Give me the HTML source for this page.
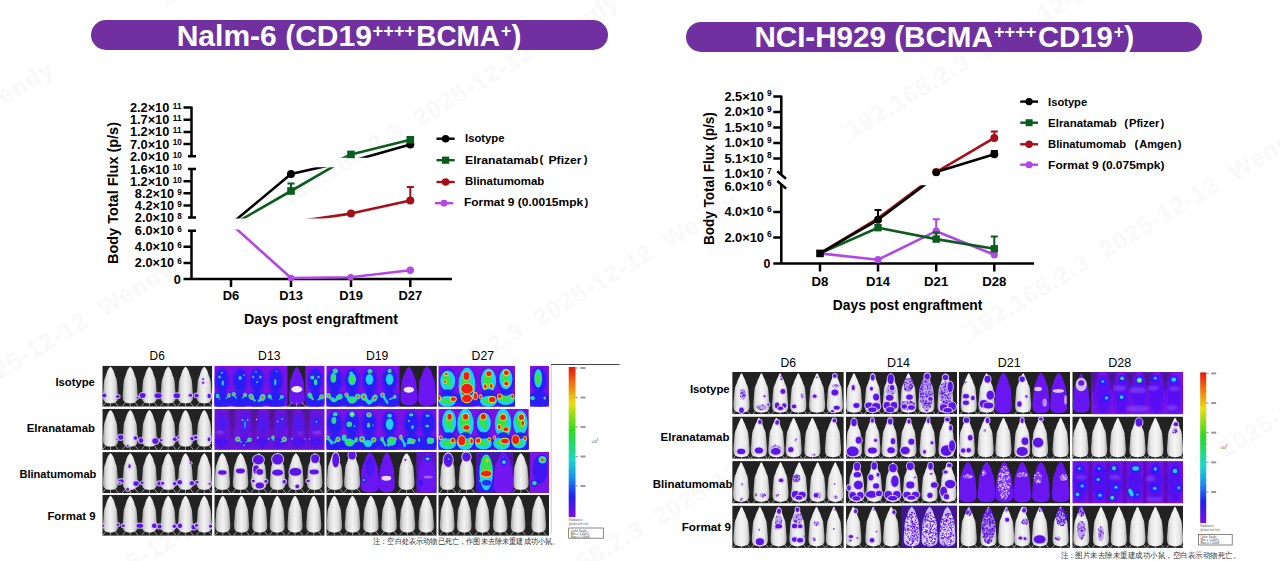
<!DOCTYPE html>
<html lang="en">
<head>
<meta charset="utf-8">
<title>Nalm-6 and NCI-H929 in vivo efficacy</title>
<style>
html,body{margin:0;padding:0;background:#fff;}
body{width:1280px;height:561px;position:relative;overflow:hidden;font-family:"Liberation Sans",sans-serif;}
.banner{position:absolute;height:30px;border-radius:15px;background:#7030a0;color:#fff;font-weight:bold;}
#b1{left:91px;top:20px;width:517px;}
#b2{left:686px;top:22px;width:516px;}
svg{position:absolute;left:0;top:0;}
svg text{font-family:"Liberation Sans",sans-serif;}
</style>
</head>
<body>
<svg id="wmsvg" width="1280" height="561" viewBox="0 0 1280 561">
<text transform="translate(-279 275) rotate(-31)" font-size="24" font-weight="bold" fill="#f9f9f9" textLength="390" lengthAdjust="spacing" xml:space="preserve">192.168.2.3  2025-12-12  Wendy</text>
<text transform="translate(-159 475) rotate(-31)" font-size="24" font-weight="bold" fill="#f9f9f9" textLength="390" lengthAdjust="spacing" xml:space="preserve">192.168.2.3  2025-12-12  Wendy</text>
<text transform="translate(-39 675) rotate(-31)" font-size="24" font-weight="bold" fill="#f9f9f9" textLength="390" lengthAdjust="spacing" xml:space="preserve">192.168.2.3  2025-12-12  Wendy</text>
<text transform="translate(166 7) rotate(-31)" font-size="24" font-weight="bold" fill="#f9f9f9" textLength="390" lengthAdjust="spacing" xml:space="preserve">192.168.2.3  2025-12-12  Wendy</text>
<text transform="translate(286 207) rotate(-31)" font-size="24" font-weight="bold" fill="#f9f9f9" textLength="390" lengthAdjust="spacing" xml:space="preserve">192.168.2.3  2025-12-12  Wendy</text>
<text transform="translate(406 407) rotate(-31)" font-size="24" font-weight="bold" fill="#f9f9f9" textLength="390" lengthAdjust="spacing" xml:space="preserve">192.168.2.3  2025-12-12  Wendy</text>
<text transform="translate(526 606) rotate(-31)" font-size="24" font-weight="bold" fill="#f9f9f9" textLength="390" lengthAdjust="spacing" xml:space="preserve">192.168.2.3  2025-12-12  Wendy</text>
<text transform="translate(852 139) rotate(-31)" font-size="24" font-weight="bold" fill="#f9f9f9" textLength="390" lengthAdjust="spacing" xml:space="preserve">192.168.2.3  2025-12-12  Wendy</text>
<text transform="translate(972 339) rotate(-31)" font-size="24" font-weight="bold" fill="#f9f9f9" textLength="390" lengthAdjust="spacing" xml:space="preserve">192.168.2.3  2025-12-12  Wendy</text>
<text transform="translate(1092 538) rotate(-31)" font-size="24" font-weight="bold" fill="#f9f9f9" textLength="390" lengthAdjust="spacing" xml:space="preserve">192.168.2.3  2025-12-12  Wendy</text>
<text transform="translate(1212 738) rotate(-31)" font-size="24" font-weight="bold" fill="#f9f9f9" textLength="390" lengthAdjust="spacing" xml:space="preserve">192.168.2.3  2025-12-12  Wendy</text>
</svg>
<div class="banner" id="b1"></div>
<div class="banner" id="b2"></div>
<svg width="1280" height="561" viewBox="0 0 1280 561">
<g id="titles" fill="#fff" font-weight="bold">
<text x="176.7" y="46.2" font-size="30" fill="#fff" textLength="195.2" lengthAdjust="spacingAndGlyphs">Nalm-6 (CD19</text>
<text x="372.5" y="36.6" font-size="17.5" fill="#fff" textLength="42.8" lengthAdjust="spacingAndGlyphs">++++</text>
<text x="416.3" y="46.2" font-size="30" fill="#fff" textLength="83.6" lengthAdjust="spacingAndGlyphs">BCMA</text>
<text x="500.9" y="36.6" font-size="17.5" fill="#fff">+</text>
<text x="511.4" y="46.2" font-size="30" fill="#fff">)</text>
<text x="754.4" y="47.4" font-size="30" fill="#fff" textLength="238.5" lengthAdjust="spacingAndGlyphs">NCI-H929 (BCMA</text>
<text x="993.9" y="37.8" font-size="17.5" fill="#fff" textLength="42.5" lengthAdjust="spacingAndGlyphs">++++</text>
<text x="1037.9" y="47.4" font-size="30" fill="#fff" textLength="74.8" lengthAdjust="spacingAndGlyphs">CD19</text>
<text x="1113.7" y="37.8" font-size="17.5" fill="#fff">+</text>
<text x="1124.2" y="47.4" font-size="30" fill="#fff">)</text>
</g>
<g id="chartL">
<path d="M191.5 106.4V156.3M188.0 156.3H196.0M183.5 107.5H191.5M183.5 119.7H191.5M183.5 131.9H191.5M183.5 144.1H191.5M191.5 169.0V217.5M188.0 169.0H196.0M188.0 217.5H196.0M183.5 181.2H191.5M183.5 193.3H191.5M183.5 205.4H191.5M191.5 230.7V278.9M188.0 230.7H196.0M183.5 246.8H191.5M183.5 262.9H191.5M183.5 278.9H452M231 278.9V287M291 278.9V287M351 278.9V287M410.3 278.9V287" stroke="#000" stroke-width="2.5" fill="none"/>
<text x="169.3" y="112.06" font-size="12.75" font-weight="bold" fill="#000" text-anchor="end">2.2×10</text><text x="172.8" y="108.81" font-size="8.2" font-weight="bold" fill="#000">11</text>
<text x="169.3" y="124.26" font-size="12.75" font-weight="bold" fill="#000" text-anchor="end">1.7×10</text><text x="172.8" y="121.01" font-size="8.2" font-weight="bold" fill="#000">11</text>
<text x="169.3" y="136.46" font-size="12.75" font-weight="bold" fill="#000" text-anchor="end">1.2×10</text><text x="172.8" y="133.21" font-size="8.2" font-weight="bold" fill="#000">11</text>
<text x="169.3" y="148.66" font-size="12.75" font-weight="bold" fill="#000" text-anchor="end">7.0×10</text><text x="172.8" y="145.41" font-size="8.2" font-weight="bold" fill="#000">10</text>
<text x="169.3" y="160.86" font-size="12.75" font-weight="bold" fill="#000" text-anchor="end">2.0×10</text><text x="172.8" y="157.61" font-size="8.2" font-weight="bold" fill="#000">10</text>
<text x="169.3" y="173.56" font-size="12.75" font-weight="bold" fill="#000" text-anchor="end">1.6×10</text><text x="172.8" y="170.31" font-size="8.2" font-weight="bold" fill="#000">10</text>
<text x="169.3" y="185.76" font-size="12.75" font-weight="bold" fill="#000" text-anchor="end">1.2×10</text><text x="172.8" y="182.51" font-size="8.2" font-weight="bold" fill="#000">10</text>
<text x="174.2" y="197.86" font-size="12.75" font-weight="bold" fill="#000" text-anchor="end">8.2×10</text><text x="177.2" y="194.61" font-size="8.2" font-weight="bold" fill="#000">9</text>
<text x="174.2" y="209.96" font-size="12.75" font-weight="bold" fill="#000" text-anchor="end">4.2×10</text><text x="177.2" y="206.71" font-size="8.2" font-weight="bold" fill="#000">9</text>
<text x="174.2" y="222.06" font-size="12.75" font-weight="bold" fill="#000" text-anchor="end">2.0×10</text><text x="177.2" y="218.81" font-size="8.2" font-weight="bold" fill="#000">8</text>
<text x="174.2" y="235.26" font-size="12.75" font-weight="bold" fill="#000" text-anchor="end">6.0×10</text><text x="177.2" y="232.01" font-size="8.2" font-weight="bold" fill="#000">6</text>
<text x="174.2" y="251.36" font-size="12.75" font-weight="bold" fill="#000" text-anchor="end">4.0×10</text><text x="177.2" y="248.11" font-size="8.2" font-weight="bold" fill="#000">6</text>
<text x="174.2" y="267.46" font-size="12.75" font-weight="bold" fill="#000" text-anchor="end">2.0×10</text><text x="177.2" y="264.21" font-size="8.2" font-weight="bold" fill="#000">6</text>
<text x="180.8" y="284.06" font-size="12.75" font-weight="bold" fill="#000" text-anchor="end">0</text>
<text x="231" y="300.3" font-size="12.9" font-weight="bold" fill="#000" text-anchor="middle">D6</text>
<text x="291" y="300.3" font-size="12.9" font-weight="bold" fill="#000" text-anchor="middle">D13</text>
<text x="351" y="300.3" font-size="12.9" font-weight="bold" fill="#000" text-anchor="middle">D19</text>
<text x="410.3" y="300.3" font-size="12.9" font-weight="bold" fill="#000" text-anchor="middle">D27</text>
<text x="321" y="324" font-size="14.3" font-weight="bold" fill="#000" text-anchor="middle" textLength="154" lengthAdjust="spacingAndGlyphs">Days post engraftment</text>
<text transform="translate(118.2 193) rotate(-90)" font-size="14.4" font-weight="bold" text-anchor="middle" textLength="142" lengthAdjust="spacingAndGlyphs">Body Total Flux (p/s)</text>
<clipPath id="lc1"><rect x="195" y="100" width="260" height="57.8"/></clipPath>
<clipPath id="lc2"><rect x="195" y="167.2" width="260" height="51.4"/></clipPath>
<clipPath id="lc3"><rect x="195" y="229.4" width="260" height="52"/></clipPath>
<path d="M237.08695652173913 222 L291 191 L344.4255319148936 160" stroke="#0b5d1e" stroke-width="2.6" fill="none" stroke-linejoin="round" clip-path="url(#lc2)"/>
<path d="M233.42152466367713 222 L291 174 L353.0 160" stroke="#000" stroke-width="2.6" fill="none" stroke-linejoin="round" clip-path="url(#lc2)"/>
<path d="M291 191V183.6M287.5 183.6H294.5" stroke="#0b5d1e" stroke-width="2" fill="none"/>
<rect x="287.2" y="187.2" width="7.6" height="7.6" fill="#0b5d1e"/>
<circle cx="291" cy="174" r="4" fill="#000"/>
<path d="M279.5000000000001 224 L351 213.6 L410.3 200.6" stroke="#a50f1a" stroke-width="2.6" fill="none" stroke-linejoin="round" clip-path="url(#lc2)"/>
<path d="M410.3 200.6V187M406.8 187H413.8" stroke="#a50f1a" stroke-width="2" fill="none"/>
<circle cx="351" cy="213.6" r="4" fill="#a50f1a"/>
<circle cx="410.3" cy="200.6" r="4" fill="#a50f1a"/>
<path d="M348.5666666666666 162 L410.3 144.4" stroke="#000" stroke-width="2.6" fill="none" stroke-linejoin="round" clip-path="url(#lc1)"/>
<path d="M335.0875 162 L351 154.4 L410.3 139.8" stroke="#0b5d1e" stroke-width="2.6" fill="none" stroke-linejoin="round" clip-path="url(#lc1)"/>
<circle cx="410.3" cy="144.4" r="4" fill="#000"/>
<rect x="347.2" y="150.6" width="7.6" height="7.6" fill="#0b5d1e"/>
<rect x="406.5" y="136.0" width="7.6" height="7.6" fill="#0b5d1e"/>
<path d="M230.97520661157023 224 L291 278.0 L350.7 277.2 L410.3 270.3" stroke="#b347e6" stroke-width="2.6" fill="none" stroke-linejoin="round" clip-path="url(#lc3)"/>
<circle cx="291" cy="278.0" r="3.3" fill="#b347e6"/>
<circle cx="350.7" cy="277.2" r="3.3" fill="#b347e6"/>
<circle cx="410.3" cy="270.3" r="3.7" fill="#b347e6"/>
<path d="M436.5 138.7h18.2" stroke="#000" stroke-width="2.4"/>
<path d="M436.5 160.2h18.2" stroke="#0b5d1e" stroke-width="2.4"/>
<path d="M436.5 182h18.2" stroke="#a50f1a" stroke-width="2.4"/>
<path d="M435.0 203.2h18.2" stroke="#b347e6" stroke-width="2.4"/>
<circle cx="445.6" cy="138.7" r="3.8" fill="#000"/>
<rect x="442.0" y="156.6" width="7.2" height="7.2" fill="#0b5d1e"/>
<circle cx="445.6" cy="182" r="3.8" fill="#a50f1a"/>
<circle cx="444.0" cy="203.2" r="3.4" fill="#b347e6"/>
</g>
<g id="chartR">
<path d="M781.3 95.5V174.6M773.3 96.6H781.3M773.3 112.1H781.3M773.3 127.5H781.3M773.3 143.0H781.3M773.3 158.4H781.3M777.3 171.2L786 178.8M777.3 181L786.2 188.6M781.3 184.4V263.5M773.3 212.0H781.3M773.3 237.5H781.3M773.3 263.5H1034M820 263.5V271.5M878 263.5V271.5M936.2 263.5V271.5M994.3 263.5V271.5" stroke="#000" stroke-width="2.5" fill="none"/>
<text x="764" y="100.94" font-size="12.4" font-weight="bold" fill="#000" text-anchor="end" textLength="39.6" lengthAdjust="spacingAndGlyphs">2.5×10</text><text x="767" y="96.24" font-size="8.4" font-weight="bold" fill="#000">9</text>
<text x="764" y="116.44" font-size="12.4" font-weight="bold" fill="#000" text-anchor="end" textLength="39.6" lengthAdjust="spacingAndGlyphs">2.0×10</text><text x="767" y="111.74" font-size="8.4" font-weight="bold" fill="#000">9</text>
<text x="764" y="131.84" font-size="12.4" font-weight="bold" fill="#000" text-anchor="end" textLength="39.6" lengthAdjust="spacingAndGlyphs">1.5×10</text><text x="767" y="127.14" font-size="8.4" font-weight="bold" fill="#000">9</text>
<text x="764" y="147.34" font-size="12.4" font-weight="bold" fill="#000" text-anchor="end" textLength="39.6" lengthAdjust="spacingAndGlyphs">1.0×10</text><text x="767" y="142.64" font-size="8.4" font-weight="bold" fill="#000">9</text>
<text x="764" y="162.74" font-size="12.4" font-weight="bold" fill="#000" text-anchor="end" textLength="39.6" lengthAdjust="spacingAndGlyphs">5.1×10</text><text x="767" y="158.04" font-size="8.4" font-weight="bold" fill="#000">8</text>
<text x="764" y="178.24" font-size="12.4" font-weight="bold" fill="#000" text-anchor="end" textLength="39.6" lengthAdjust="spacingAndGlyphs">1.0×10</text><text x="767" y="173.54" font-size="8.4" font-weight="bold" fill="#000">7</text>
<text x="764" y="190.74" font-size="12.4" font-weight="bold" fill="#000" text-anchor="end" textLength="39.6" lengthAdjust="spacingAndGlyphs">6.0×10</text><text x="767" y="186.04" font-size="8.4" font-weight="bold" fill="#000">6</text>
<text x="764" y="216.34" font-size="12.4" font-weight="bold" fill="#000" text-anchor="end" textLength="39.6" lengthAdjust="spacingAndGlyphs">4.0×10</text><text x="767" y="211.64" font-size="8.4" font-weight="bold" fill="#000">6</text>
<text x="764" y="241.84" font-size="12.4" font-weight="bold" fill="#000" text-anchor="end" textLength="39.6" lengthAdjust="spacingAndGlyphs">2.0×10</text><text x="767" y="237.14" font-size="8.4" font-weight="bold" fill="#000">6</text>
<text x="770.4" y="268.34" font-size="12.4" font-weight="bold" fill="#000" text-anchor="end">0</text>
<text x="820" y="285.8" font-size="13.2" font-weight="bold" fill="#000" text-anchor="middle">D8</text>
<text x="878" y="285.8" font-size="13.2" font-weight="bold" fill="#000" text-anchor="middle">D14</text>
<text x="936.2" y="285.8" font-size="13.2" font-weight="bold" fill="#000" text-anchor="middle">D21</text>
<text x="994.3" y="285.8" font-size="13.2" font-weight="bold" fill="#000" text-anchor="middle">D28</text>
<text x="907.6" y="310.3" font-size="14" font-weight="bold" fill="#000" text-anchor="middle" textLength="149.5" lengthAdjust="spacingAndGlyphs">Days post engraftment</text>
<text transform="translate(714.0 178.6) rotate(-90)" font-size="13.8" font-weight="bold" text-anchor="middle" textLength="133" lengthAdjust="spacingAndGlyphs">Body Total Flux (p/s)</text>
<clipPath id="rc1"><rect x="785" y="90" width="260" height="84.6"/></clipPath>
<clipPath id="rc2"><rect x="785" y="185.2" width="260" height="90"/></clipPath>
<path d="M820 253.4 L878 259.7 L936.2 231.2 L994.3 254.8" stroke="#b347e6" stroke-width="2.6" fill="none" stroke-linejoin="round"/>
<path d="M936.2 231.2V219.3M932.7 219.3H939.7" stroke="#b347e6" stroke-width="2" fill="none"/>
<circle cx="878" cy="259.7" r="3.6" fill="#b347e6"/>
<circle cx="936.2" cy="231.2" r="3.6" fill="#b347e6"/>
<circle cx="994.3" cy="254.8" r="3.6" fill="#b347e6"/>
<path d="M820 253.4 L878 227.7 L936.2 239.1 L994.3 248.8" stroke="#0b5d1e" stroke-width="2.6" fill="none" stroke-linejoin="round"/>
<path d="M994.3 248.8V236.4M990.8 236.4H997.8" stroke="#0b5d1e" stroke-width="2" fill="none"/>
<path d="M936.2 239.1V232.5M932.7 232.5H939.7" stroke="#0b5d1e" stroke-width="2" fill="none"/>
<rect x="874.3" y="224.0" width="7.4" height="7.4" fill="#0b5d1e"/>
<rect x="932.5" y="235.4" width="7.4" height="7.4" fill="#0b5d1e"/>
<rect x="990.5999999999999" y="245.10000000000002" width="7.4" height="7.4" fill="#0b5d1e"/>
<path d="M820 253.4 L878 218.4 L931.8280802292263 178" stroke="#a50f1a" stroke-width="2.6" fill="none" stroke-linejoin="round" clip-path="url(#rc2)"/>
<path d="M820 253.4 L878 219.8 L933.8534482758621 178" stroke="#000" stroke-width="2.6" fill="none" stroke-linejoin="round" clip-path="url(#rc2)"/>
<path d="M878 219.8V210M874.5 210H881.5" stroke="#000" stroke-width="2" fill="none"/>
<circle cx="878" cy="219.8" r="4" fill="#000"/>
<path d="M936.2 172.1 L994.3 137.9" stroke="#a50f1a" stroke-width="2.6" fill="none" stroke-linejoin="round" clip-path="url(#rc1)"/>
<path d="M936.2 172.1 L994.3 154.2" stroke="#000" stroke-width="2.6" fill="none" stroke-linejoin="round" clip-path="url(#rc1)"/>
<path d="M994.3 137.9V131.5M990.8 131.5H997.8" stroke="#a50f1a" stroke-width="2" fill="none"/>
<path d="M994.3 154.2V151.0M990.8 151.0H997.8" stroke="#000" stroke-width="2" fill="none"/>
<circle cx="936.2" cy="172.1" r="4" fill="#a50f1a"/>
<circle cx="936.2" cy="172.5" r="3.8" fill="#000"/>
<circle cx="994.3" cy="137.9" r="4" fill="#a50f1a"/>
<circle cx="994.3" cy="154.2" r="4" fill="#000"/>
<rect x="816.2" y="249.6" width="7.6" height="7.6" fill="#000"/>
<path d="M1020.2 101.6H1038" stroke="#000" stroke-width="2.4"/>
<path d="M1020.2 122.7H1038" stroke="#0b5d1e" stroke-width="2.4"/>
<path d="M1020.2 144.3H1038" stroke="#a50f1a" stroke-width="2.4"/>
<path d="M1020.2 164.7H1038" stroke="#b347e6" stroke-width="2.4"/>
<circle cx="1029.1" cy="101.6" r="3.7" fill="#000"/>
<rect x="1025.6" y="119.2" width="7" height="7" fill="#0b5d1e"/>
<circle cx="1029.1" cy="144.3" r="3.7" fill="#a50f1a"/>
<circle cx="1029.1" cy="164.7" r="3.5" fill="#b347e6"/>
</g>
<g id="legends">
<text x="465" y="141.9" font-size="11.4" font-weight="bold" fill="#000" textLength="39.5" lengthAdjust="spacingAndGlyphs">Isotype</text>
<text x="465" y="163.6" font-size="11.6" font-weight="bold" fill="#000" textLength="73.4" lengthAdjust="spacingAndGlyphs">Elranatamab</text>
<text x="539.4" y="163.2" font-size="11.4" font-weight="bold" fill="#000">(</text>
<text x="548.5" y="163.6" font-size="11.6" font-weight="bold" fill="#000" textLength="33.1" lengthAdjust="spacingAndGlyphs">Pfizer</text>
<text x="583.8" y="163.2" font-size="11.4" font-weight="bold" fill="#000">)</text>
<text x="465" y="185.1" font-size="11.4" font-weight="bold" fill="#000" textLength="79.3" lengthAdjust="spacingAndGlyphs">Blinatumomab</text>
<text x="463.9" y="206.3" font-size="11.6" font-weight="bold" fill="#000" textLength="119.3" lengthAdjust="spacingAndGlyphs">Format 9 (0.0015mpk</text>
<text x="584.6" y="206.0" font-size="11.4" font-weight="bold" fill="#000">)</text>
<text x="1048.1" y="105.6" font-size="11.4" font-weight="bold" fill="#000" textLength="39" lengthAdjust="spacingAndGlyphs">Isotype</text>
<text x="1048.1" y="126.7" font-size="11.4" font-weight="bold" fill="#000" textLength="68.6" lengthAdjust="spacingAndGlyphs">Elranatamab</text>
<text x="1124.2" y="126.5" font-size="11.4" font-weight="bold" fill="#000">(</text>
<text x="1129" y="126.7" font-size="11.4" font-weight="bold" fill="#000" textLength="30.3" lengthAdjust="spacingAndGlyphs">Pfizer</text>
<text x="1160.4" y="126.5" font-size="11.4" font-weight="bold" fill="#000">)</text>
<text x="1048.1" y="148.2" font-size="11.4" font-weight="bold" fill="#000" textLength="77.9" lengthAdjust="spacingAndGlyphs">Blinatumomab</text>
<text x="1134.4" y="148.0" font-size="11.4" font-weight="bold" fill="#000">(</text>
<text x="1139.2" y="148.2" font-size="11.4" font-weight="bold" fill="#000" textLength="37.6" lengthAdjust="spacingAndGlyphs">Amgen</text>
<text x="1177.8" y="148.0" font-size="11.4" font-weight="bold" fill="#000">)</text>
<text x="1048.1" y="168.6" font-size="11.4" font-weight="bold" fill="#000" textLength="116.3" lengthAdjust="spacingAndGlyphs">Format 9 (0.075mpk)</text>
</g>
<defs><path id="m" d="M0 0.03Q0 0.03 0.04 0.04Q0.08 0.05 0.12 0.08Q0.17 0.1 0.21 0.14Q0.24 0.17 0.27 0.21Q0.29 0.25 0.34 0.29Q0.39 0.33 0.42 0.39Q0.44 0.45 0.45 0.53Q0.46 0.6 0.48 0.68Q0.5 0.76 0.49 0.81Q0.49 0.86 0.45 0.89Q0.4 0.92 0.31 0.94Q0.22 0.95 0.11 0.96Q0 0.96 -0.11 0.96Q-0.22 0.95 -0.31 0.94Q-0.4 0.92 -0.45 0.89Q-0.49 0.86 -0.49 0.81Q-0.5 0.76 -0.48 0.68Q-0.46 0.6 -0.45 0.53Q-0.44 0.45 -0.42 0.39Q-0.39 0.33 -0.34 0.29Q-0.29 0.25 -0.27 0.21Q-0.24 0.17 -0.21 0.14Q-0.17 0.1 -0.12 0.08Q-0.08 0.05 -0.04 0.04Q0 0.03 0 0.03Z"/><path id="m2" d="M0 0.03Q0 0.03 0.04 0.04Q0.07 0.06 0.11 0.1Q0.15 0.13 0.2 0.17Q0.24 0.2 0.27 0.24Q0.29 0.27 0.34 0.31Q0.4 0.35 0.42 0.41Q0.43 0.47 0.45 0.54Q0.46 0.62 0.48 0.69Q0.5 0.76 0.49 0.81Q0.49 0.86 0.45 0.89Q0.4 0.92 0.31 0.94Q0.22 0.95 0.11 0.96Q0 0.96 -0.11 0.96Q-0.22 0.95 -0.31 0.94Q-0.4 0.92 -0.45 0.89Q-0.49 0.86 -0.49 0.81Q-0.5 0.76 -0.48 0.69Q-0.46 0.62 -0.45 0.54Q-0.43 0.47 -0.42 0.41Q-0.4 0.35 -0.34 0.31Q-0.29 0.27 -0.27 0.24Q-0.24 0.2 -0.2 0.17Q-0.15 0.13 -0.11 0.1Q-0.07 0.06 -0.04 0.04Q0 0.03 0 0.03Z"/><linearGradient id="mg" x1="0" x2="1" y1="0" y2="0"><stop offset="0" stop-color="#9c9c9c"/><stop offset="0.22" stop-color="#dcdcdc"/><stop offset="0.5" stop-color="#f2f2f2"/><stop offset="0.78" stop-color="#dcdcdc"/><stop offset="1" stop-color="#9c9c9c"/></linearGradient><linearGradient id="mg2" x1="0" x2="1" y1="0" y2="0"><stop offset="0" stop-color="#a8a8a8"/><stop offset="0.2" stop-color="#e4e4e4"/><stop offset="0.5" stop-color="#f6f6f6"/><stop offset="0.8" stop-color="#e4e4e4"/><stop offset="1" stop-color="#a8a8a8"/></linearGradient><linearGradient id="cbar" x1="0" x2="0" y1="0" y2="1"><stop offset="0" stop-color="#e81410"/><stop offset="0.12" stop-color="#f07a10"/><stop offset="0.24" stop-color="#e8e010"/><stop offset="0.42" stop-color="#30d820"/><stop offset="0.62" stop-color="#18d8c8"/><stop offset="0.74" stop-color="#1890f0"/><stop offset="0.86" stop-color="#2020f0"/><stop offset="1" stop-color="#7a10e0"/></linearGradient><filter id="sb" x="-5%" y="-5%" width="110%" height="110%"><feGaussianBlur stdDeviation="0.7"/></filter><filter id="sb2" x="-20%" y="-20%" width="140%" height="140%"><feGaussianBlur stdDeviation="1.1"/></filter></defs><g id="panelL"><clipPath id="cL00"><rect x="102.3" y="365.7" width="110" height="41"/></clipPath><g clip-path="url(#cL00)"><rect x="102.3" y="365.7" width="110" height="41" fill="#232323"/><g filter="url(#sb)"><path d="M110.5 402.6V406.7M105.94 402.1L102.6 406.5M115.06 402.1L118.4 406.5" stroke="#a0a0a0" stroke-width="0.9" fill="none"/><use href="#m" transform="translate(110.5 365.7) scale(15.2 39.16)" fill="url(#mg)"/><path d="M130.19 402.6V406.7M125.63 402.1L122.28 406.5M134.75 402.1L138.09 406.5" stroke="#a0a0a0" stroke-width="0.9" fill="none"/><use href="#m" transform="translate(130.19 365.7) scale(15.2 39.16)" fill="url(#mg)"/><path d="M149.4 402.6V406.7M144.84 402.1L141.5 406.5M153.96 402.1L157.31 406.5" stroke="#a0a0a0" stroke-width="0.9" fill="none"/><use href="#m" transform="translate(149.4 365.7) scale(15.2 39.16)" fill="url(#mg)"/><path d="M168.15 402.6V406.7M163.59 402.1L160.25 406.5M172.71 402.1L176.06 406.5" stroke="#a0a0a0" stroke-width="0.9" fill="none"/><use href="#m" transform="translate(168.15 365.7) scale(15.2 39.16)" fill="url(#mg)"/><path d="M185.5 402.6V406.7M180.94 402.1L177.59 406.5M190.06 402.1L193.4 406.5" stroke="#a0a0a0" stroke-width="0.9" fill="none"/><use href="#m" transform="translate(185.5 365.7) scale(15.2 39.16)" fill="url(#mg)"/><path d="M204.25 402.6V406.7M199.69 402.1L196.34 406.5M208.81 402.1L212.15 406.5" stroke="#a0a0a0" stroke-width="0.9" fill="none"/><use href="#m" transform="translate(204.25 365.7) scale(15.2 39.16)" fill="url(#mg)"/><ellipse cx="104.22" cy="395.56" rx="3.16" ry="3.16" fill="#d9c4ff" opacity="0.85"/><ellipse cx="104.22" cy="395.56" rx="2.06" ry="2.06" fill="#5a12e6"/><ellipse cx="117.81" cy="396.5" rx="2.79" ry="2.6" fill="#d9c4ff" opacity="0.85"/><ellipse cx="117.81" cy="396.5" rx="1.69" ry="1.5" fill="#5a12e6"/><ellipse cx="137.5" cy="397.62" rx="2.22" ry="2.04" fill="#d9c4ff" opacity="0.85"/><ellipse cx="137.5" cy="397.62" rx="1.12" ry="0.94" fill="#5a12e6"/><ellipse cx="142.65" cy="395.56" rx="3.91" ry="3.54" fill="#d9c4ff" opacity="0.85"/><ellipse cx="142.65" cy="395.56" rx="2.81" ry="2.44" fill="#5a12e6"/><ellipse cx="158.12" cy="395.75" rx="4.66" ry="3.54" fill="#d9c4ff" opacity="0.85"/><ellipse cx="158.12" cy="395.75" rx="3.56" ry="2.44" fill="#5a12e6"/><ellipse cx="176.87" cy="395.75" rx="4.29" ry="3.54" fill="#d9c4ff" opacity="0.85"/><ellipse cx="176.87" cy="395.75" rx="3.19" ry="2.44" fill="#5a12e6"/><ellipse cx="190.47" cy="395.28" rx="2.79" ry="2.6" fill="#d9c4ff" opacity="0.85"/><ellipse cx="190.47" cy="395.28" rx="1.69" ry="1.5" fill="#5a12e6"/><ellipse cx="196.56" cy="395.56" rx="3.16" ry="2.97" fill="#d9c4ff" opacity="0.85"/><ellipse cx="196.56" cy="395.56" rx="2.06" ry="1.87" fill="#5a12e6"/><ellipse cx="209.22" cy="395.94" rx="2.79" ry="3.35" fill="#d9c4ff" opacity="0.85"/><ellipse cx="209.22" cy="395.94" rx="1.69" ry="2.25" fill="#5a12e6"/><ellipse cx="203.12" cy="379.06" rx="2.04" ry="1.94" fill="#d9c4ff" opacity="0.85"/><ellipse cx="203.12" cy="379.06" rx="0.94" ry="0.84" fill="#5a12e6"/><ellipse cx="203.12" cy="382.81" rx="2.22" ry="2.04" fill="#d9c4ff" opacity="0.85"/><ellipse cx="203.12" cy="382.81" rx="1.12" ry="0.94" fill="#5a12e6"/></g></g><clipPath id="cL10"><rect x="102.3" y="408.9" width="110" height="41"/></clipPath><g clip-path="url(#cL10)"><rect x="102.3" y="408.9" width="110" height="41" fill="#232323"/><g filter="url(#sb)"><path d="M110.5 445.8V449.9M105.94 445.3L102.6 449.69M115.06 445.3L118.4 449.69" stroke="#a0a0a0" stroke-width="0.9" fill="none"/><use href="#m" transform="translate(110.5 408.9) scale(15.2 39.16)" fill="url(#mg)"/><path d="M130.19 445.8V449.9M125.63 445.3L122.28 449.69M134.75 445.3L138.09 449.69" stroke="#a0a0a0" stroke-width="0.9" fill="none"/><use href="#m" transform="translate(130.19 408.9) scale(15.2 39.16)" fill="url(#mg)"/><path d="M149.4 445.8V449.9M144.84 445.3L141.5 449.69M153.96 445.3L157.31 449.69" stroke="#a0a0a0" stroke-width="0.9" fill="none"/><use href="#m" transform="translate(149.4 408.9) scale(15.2 39.16)" fill="url(#mg)"/><path d="M168.15 445.8V449.9M163.59 445.3L160.25 449.69M172.71 445.3L176.06 449.69" stroke="#a0a0a0" stroke-width="0.9" fill="none"/><use href="#m" transform="translate(168.15 408.9) scale(15.2 39.16)" fill="url(#mg)"/><path d="M185.5 445.8V449.9M180.94 445.3L177.59 449.69M190.06 445.3L193.4 449.69" stroke="#a0a0a0" stroke-width="0.9" fill="none"/><use href="#m" transform="translate(185.5 408.9) scale(15.2 39.16)" fill="url(#mg)"/><path d="M204.25 445.8V449.9M199.69 445.3L196.34 449.69M208.81 445.3L212.15 449.69" stroke="#a0a0a0" stroke-width="0.9" fill="none"/><use href="#m" transform="translate(204.25 408.9) scale(15.2 39.16)" fill="url(#mg)"/><ellipse cx="120.62" cy="437.34" rx="3.72" ry="3.54" fill="#d9c4ff" opacity="0.85"/><ellipse cx="120.62" cy="437.34" rx="2.62" ry="2.44" fill="#5a12e6"/><ellipse cx="116.87" cy="439.5" rx="1.85" ry="1.85" fill="#d9c4ff" opacity="0.85"/><ellipse cx="116.87" cy="439.5" rx="0.75" ry="0.75" fill="#5a12e6"/><ellipse cx="135.44" cy="438" rx="2.79" ry="2.97" fill="#d9c4ff" opacity="0.85"/><ellipse cx="135.44" cy="438" rx="1.69" ry="1.87" fill="#5a12e6"/><ellipse cx="141.06" cy="440.44" rx="3.16" ry="3.54" fill="#d9c4ff" opacity="0.85"/><ellipse cx="141.06" cy="440.44" rx="2.06" ry="2.44" fill="#5a12e6"/><ellipse cx="155.31" cy="441.09" rx="4.1" ry="3.91" fill="#d9c4ff" opacity="0.85"/><ellipse cx="155.31" cy="441.09" rx="3" ry="2.81" fill="#5a12e6"/><ellipse cx="161.12" cy="440.16" rx="2.41" ry="2.22" fill="#d9c4ff" opacity="0.85"/><ellipse cx="161.12" cy="440.16" rx="1.31" ry="1.12" fill="#5a12e6"/><ellipse cx="175" cy="439.22" rx="3.16" ry="2.79" fill="#d9c4ff" opacity="0.85"/><ellipse cx="175" cy="439.22" rx="2.06" ry="1.69" fill="#5a12e6"/><ellipse cx="178.28" cy="437.62" rx="2.22" ry="2.22" fill="#d9c4ff" opacity="0.85"/><ellipse cx="178.28" cy="437.62" rx="1.12" ry="1.12" fill="#5a12e6"/><ellipse cx="192.34" cy="438.56" rx="2.97" ry="2.79" fill="#d9c4ff" opacity="0.85"/><ellipse cx="192.34" cy="438.56" rx="1.87" ry="1.69" fill="#5a12e6"/><ellipse cx="195.62" cy="437.34" rx="2.79" ry="2.79" fill="#d9c4ff" opacity="0.85"/><ellipse cx="195.62" cy="437.34" rx="1.69" ry="1.69" fill="#5a12e6"/><ellipse cx="209.03" cy="439.22" rx="2.41" ry="3.16" fill="#d9c4ff" opacity="0.85"/><ellipse cx="209.03" cy="439.22" rx="1.31" ry="2.06" fill="#5a12e6"/><ellipse cx="127.66" cy="445.78" rx="2.04" ry="2.04" fill="#d9c4ff" opacity="0.85"/><ellipse cx="127.66" cy="445.78" rx="0.94" ry="0.94" fill="#5a12e6"/></g></g><clipPath id="cL20"><rect x="102.3" y="452.1" width="110" height="41"/></clipPath><g clip-path="url(#cL20)"><rect x="102.3" y="452.1" width="110" height="41" fill="#232323"/><g filter="url(#sb)"><path d="M110.5 489V493.1M105.94 488.5L102.6 492.9M115.06 488.5L118.4 492.9" stroke="#a0a0a0" stroke-width="0.9" fill="none"/><use href="#m" transform="translate(110.5 452.1) scale(15.2 39.16)" fill="url(#mg)"/><path d="M130.19 489V493.1M125.63 488.5L122.28 492.9M134.75 488.5L138.09 492.9" stroke="#a0a0a0" stroke-width="0.9" fill="none"/><use href="#m" transform="translate(130.19 452.1) scale(15.2 39.16)" fill="url(#mg)"/><path d="M149.4 489V493.1M144.84 488.5L141.5 492.9M153.96 488.5L157.31 492.9" stroke="#a0a0a0" stroke-width="0.9" fill="none"/><use href="#m" transform="translate(149.4 452.1) scale(15.2 39.16)" fill="url(#mg)"/><path d="M168.15 489V493.1M163.59 488.5L160.25 492.9M172.71 488.5L176.06 492.9" stroke="#a0a0a0" stroke-width="0.9" fill="none"/><use href="#m" transform="translate(168.15 452.1) scale(15.2 39.16)" fill="url(#mg)"/><path d="M185.5 489V493.1M180.94 488.5L177.59 492.9M190.06 488.5L193.4 492.9" stroke="#a0a0a0" stroke-width="0.9" fill="none"/><use href="#m" transform="translate(185.5 452.1) scale(15.2 39.16)" fill="url(#mg)"/><path d="M204.25 489V493.1M199.69 488.5L196.34 492.9M208.81 488.5L212.15 492.9" stroke="#a0a0a0" stroke-width="0.9" fill="none"/><use href="#m" transform="translate(204.25 452.1) scale(15.2 39.16)" fill="url(#mg)"/><ellipse cx="121.09" cy="481" rx="3.91" ry="2.97" fill="#d9c4ff" opacity="0.85"/><ellipse cx="121.09" cy="481" rx="2.81" ry="1.87" fill="#5a12e6"/><ellipse cx="119.69" cy="483.16" rx="2.04" ry="2.04" fill="#d9c4ff" opacity="0.85"/><ellipse cx="119.69" cy="483.16" rx="0.94" ry="0.94" fill="#5a12e6"/><ellipse cx="136.09" cy="483.62" rx="3.72" ry="3.54" fill="#d9c4ff" opacity="0.85"/><ellipse cx="136.09" cy="483.62" rx="2.62" ry="2.44" fill="#5a12e6"/><ellipse cx="142.19" cy="482.87" rx="2.41" ry="2.41" fill="#d9c4ff" opacity="0.85"/><ellipse cx="142.19" cy="482.87" rx="1.31" ry="1.31" fill="#5a12e6"/><ellipse cx="129.53" cy="466.28" rx="2.22" ry="3.16" fill="#d9c4ff" opacity="0.85"/><ellipse cx="129.53" cy="466.28" rx="1.12" ry="2.06" fill="#5a12e6"/><ellipse cx="160" cy="483.44" rx="3.72" ry="3.16" fill="#d9c4ff" opacity="0.85"/><ellipse cx="160" cy="483.44" rx="2.62" ry="2.06" fill="#5a12e6"/><ellipse cx="162.62" cy="483.16" rx="2.6" ry="2.6" fill="#d9c4ff" opacity="0.85"/><ellipse cx="162.62" cy="483.16" rx="1.5" ry="1.5" fill="#5a12e6"/><ellipse cx="174.53" cy="483.62" rx="2.79" ry="2.79" fill="#d9c4ff" opacity="0.85"/><ellipse cx="174.53" cy="483.62" rx="1.69" ry="1.69" fill="#5a12e6"/><ellipse cx="179.69" cy="482.22" rx="3.35" ry="3.35" fill="#d9c4ff" opacity="0.85"/><ellipse cx="179.69" cy="482.22" rx="2.25" ry="2.25" fill="#5a12e6"/><ellipse cx="191.87" cy="483.16" rx="3.16" ry="3.16" fill="#d9c4ff" opacity="0.85"/><ellipse cx="191.87" cy="483.16" rx="2.06" ry="2.06" fill="#5a12e6"/><ellipse cx="197.03" cy="482.22" rx="2.41" ry="2.41" fill="#d9c4ff" opacity="0.85"/><ellipse cx="197.03" cy="482.22" rx="1.31" ry="1.31" fill="#5a12e6"/><ellipse cx="209.68" cy="483.81" rx="2.22" ry="2.22" fill="#d9c4ff" opacity="0.85"/><ellipse cx="209.68" cy="483.81" rx="1.12" ry="1.12" fill="#5a12e6"/><ellipse cx="127.66" cy="489.25" rx="2.41" ry="2.6" fill="#d9c4ff" opacity="0.85"/><ellipse cx="127.66" cy="489.25" rx="1.31" ry="1.5" fill="#5a12e6"/><ellipse cx="190.47" cy="463" rx="2.22" ry="1.85" fill="#d9c4ff" opacity="0.85"/><ellipse cx="190.47" cy="463" rx="1.12" ry="0.75" fill="#5a12e6"/></g></g><clipPath id="cL30"><rect x="102.3" y="494.8" width="110" height="41"/></clipPath><g clip-path="url(#cL30)"><rect x="102.3" y="494.8" width="110" height="41" fill="#232323"/><g filter="url(#sb)"><path d="M110.5 531.7V535.8M105.94 531.2L102.6 535.6M115.06 531.2L118.4 535.6" stroke="#a0a0a0" stroke-width="0.9" fill="none"/><use href="#m" transform="translate(110.5 494.8) scale(15.2 39.16)" fill="url(#mg)"/><path d="M130.19 531.7V535.8M125.63 531.2L122.28 535.6M134.75 531.2L138.09 535.6" stroke="#a0a0a0" stroke-width="0.9" fill="none"/><use href="#m" transform="translate(130.19 494.8) scale(15.2 39.16)" fill="url(#mg)"/><path d="M149.4 531.7V535.8M144.84 531.2L141.5 535.6M153.96 531.2L157.31 535.6" stroke="#a0a0a0" stroke-width="0.9" fill="none"/><use href="#m" transform="translate(149.4 494.8) scale(15.2 39.16)" fill="url(#mg)"/><path d="M168.15 531.7V535.8M163.59 531.2L160.25 535.6M172.71 531.2L176.06 535.6" stroke="#a0a0a0" stroke-width="0.9" fill="none"/><use href="#m" transform="translate(168.15 494.8) scale(15.2 39.16)" fill="url(#mg)"/><path d="M185.5 531.7V535.8M180.94 531.2L177.59 535.6M190.06 531.2L193.4 535.6" stroke="#a0a0a0" stroke-width="0.9" fill="none"/><use href="#m" transform="translate(185.5 494.8) scale(15.2 39.16)" fill="url(#mg)"/><path d="M204.25 531.7V535.8M199.69 531.2L196.34 535.6M208.81 531.2L212.15 535.6" stroke="#a0a0a0" stroke-width="0.9" fill="none"/><use href="#m" transform="translate(204.25 494.8) scale(15.2 39.16)" fill="url(#mg)"/><ellipse cx="118" cy="524.75" rx="2.41" ry="2.41" fill="#d9c4ff" opacity="0.85"/><ellipse cx="118" cy="524.75" rx="1.31" ry="1.31" fill="#5a12e6"/><ellipse cx="123.25" cy="525.69" rx="2.6" ry="2.41" fill="#d9c4ff" opacity="0.85"/><ellipse cx="123.25" cy="525.69" rx="1.5" ry="1.31" fill="#5a12e6"/><ellipse cx="139.84" cy="525.69" rx="4.47" ry="3.16" fill="#d9c4ff" opacity="0.85"/><ellipse cx="139.84" cy="525.69" rx="3.37" ry="2.06" fill="#5a12e6"/><ellipse cx="154.37" cy="525.69" rx="3.54" ry="3.35" fill="#d9c4ff" opacity="0.85"/><ellipse cx="154.37" cy="525.69" rx="2.44" ry="2.25" fill="#5a12e6"/><ellipse cx="159.53" cy="526.44" rx="3.16" ry="3.16" fill="#d9c4ff" opacity="0.85"/><ellipse cx="159.53" cy="526.44" rx="2.06" ry="2.06" fill="#5a12e6"/><ellipse cx="174.34" cy="526.16" rx="2.79" ry="2.79" fill="#d9c4ff" opacity="0.85"/><ellipse cx="174.34" cy="526.16" rx="1.69" ry="1.69" fill="#5a12e6"/><ellipse cx="179.97" cy="525.87" rx="3.16" ry="3.35" fill="#d9c4ff" opacity="0.85"/><ellipse cx="179.97" cy="525.87" rx="2.06" ry="2.25" fill="#5a12e6"/><ellipse cx="193.75" cy="527.09" rx="3.54" ry="3.54" fill="#d9c4ff" opacity="0.85"/><ellipse cx="193.75" cy="527.09" rx="2.44" ry="2.44" fill="#5a12e6"/><ellipse cx="196.56" cy="525.22" rx="2.6" ry="2.6" fill="#d9c4ff" opacity="0.85"/><ellipse cx="196.56" cy="525.22" rx="1.5" ry="1.5" fill="#5a12e6"/><ellipse cx="210.62" cy="526.16" rx="2.6" ry="2.79" fill="#d9c4ff" opacity="0.85"/><ellipse cx="210.62" cy="526.16" rx="1.5" ry="1.69" fill="#5a12e6"/><ellipse cx="103.28" cy="525.69" rx="1.85" ry="2.41" fill="#d9c4ff" opacity="0.85"/><ellipse cx="103.28" cy="525.69" rx="0.75" ry="1.31" fill="#5a12e6"/></g></g><clipPath id="cL31"><rect x="214.3" y="494.8" width="110.4" height="41"/></clipPath><g clip-path="url(#cL31)"><rect x="214.3" y="494.8" width="110.4" height="41" fill="#232323"/><g filter="url(#sb)"><path d="M222.82 531.7V535.8M218.26 531.2L214.92 535.6M227.38 531.2L230.72 535.6" stroke="#a0a0a0" stroke-width="0.9" fill="none"/><use href="#m" transform="translate(222.82 494.8) scale(15.2 39.16)" fill="url(#mg)"/><path d="M241.57 531.7V535.8M237.01 531.2L233.67 535.6M246.13 531.2L249.48 535.6" stroke="#a0a0a0" stroke-width="0.9" fill="none"/><use href="#m" transform="translate(241.57 494.8) scale(15.2 39.16)" fill="url(#mg)"/><path d="M259.76 531.7V535.8M255.2 531.2L251.86 535.6M264.32 531.2L267.66 535.6" stroke="#a0a0a0" stroke-width="0.9" fill="none"/><use href="#m" transform="translate(259.76 494.8) scale(15.2 39.16)" fill="url(#mg)"/><path d="M277.2 531.7V535.8M272.64 531.2L269.29 535.6M281.76 531.2L285.1 535.6" stroke="#a0a0a0" stroke-width="0.9" fill="none"/><use href="#m" transform="translate(277.2 494.8) scale(15.2 39.16)" fill="url(#mg)"/><path d="M295.01 531.7V535.8M290.45 531.2L287.11 535.6M299.57 531.2L302.92 535.6" stroke="#a0a0a0" stroke-width="0.9" fill="none"/><use href="#m" transform="translate(295.01 494.8) scale(15.2 39.16)" fill="url(#mg)"/><path d="M313.76 531.7V535.8M309.2 531.2L305.86 535.6M318.32 531.2L321.67 535.6" stroke="#a0a0a0" stroke-width="0.9" fill="none"/><use href="#m" transform="translate(313.76 494.8) scale(15.2 39.16)" fill="url(#mg)"/></g></g><clipPath id="cL32"><rect x="326.3" y="494.8" width="110.4" height="41"/></clipPath><g clip-path="url(#cL32)"><rect x="326.3" y="494.8" width="110.4" height="41" fill="#232323"/><g filter="url(#sb)"><path d="M334.31 531.7V535.8M329.63 531.2L326.2 535.6M338.99 531.2L342.43 535.6" stroke="#a0a0a0" stroke-width="0.9" fill="none"/><use href="#m" transform="translate(334.31 494.8) scale(15.6 39.16)" fill="url(#mg)"/><path d="M352.5 531.7V535.8M347.82 531.2L344.39 535.6M357.18 531.2L360.61 535.6" stroke="#a0a0a0" stroke-width="0.9" fill="none"/><use href="#m" transform="translate(352.5 494.8) scale(15.6 39.16)" fill="url(#mg)"/><path d="M370.88 531.7V535.8M366.2 531.2L362.77 535.6M375.56 531.2L378.99 535.6" stroke="#a0a0a0" stroke-width="0.9" fill="none"/><use href="#m" transform="translate(370.88 494.8) scale(15.6 39.16)" fill="url(#mg)"/><path d="M389.07 531.7V535.8M384.39 531.2L380.95 535.6M393.75 531.2L397.18 535.6" stroke="#a0a0a0" stroke-width="0.9" fill="none"/><use href="#m" transform="translate(389.07 494.8) scale(15.6 39.16)" fill="url(#mg)"/><path d="M407.44 531.7V535.8M402.76 531.2L399.33 535.6M412.12 531.2L415.55 535.6" stroke="#a0a0a0" stroke-width="0.9" fill="none"/><use href="#m" transform="translate(407.44 494.8) scale(15.6 39.16)" fill="url(#mg)"/><path d="M426.19 531.7V535.8M421.51 531.2L418.08 535.6M430.87 531.2L434.31 535.6" stroke="#a0a0a0" stroke-width="0.9" fill="none"/><use href="#m" transform="translate(426.19 494.8) scale(15.6 39.16)" fill="url(#mg)"/></g></g><clipPath id="cL33"><rect x="438.3" y="494.8" width="110.7" height="41"/></clipPath><g clip-path="url(#cL33)"><rect x="438.3" y="494.8" width="110.7" height="41" fill="#232323"/><g filter="url(#sb)"><path d="M447.2 531.7V535.8M442.76 531.2L439.5 535.6M451.64 531.2L454.89 535.6" stroke="#a0a0a0" stroke-width="0.9" fill="none"/><use href="#m" transform="translate(447.2 494.8) scale(14.8 39.16)" fill="url(#mg)"/><path d="M464.26 531.7V535.8M459.82 531.2L456.56 535.6M468.7 531.2L471.95 535.6" stroke="#a0a0a0" stroke-width="0.9" fill="none"/><use href="#m" transform="translate(464.26 494.8) scale(14.8 39.16)" fill="url(#mg)"/><path d="M482.45 531.7V535.8M478.01 531.2L474.75 535.6M486.89 531.2L490.14 535.6" stroke="#a0a0a0" stroke-width="0.9" fill="none"/><use href="#m" transform="translate(482.45 494.8) scale(14.8 39.16)" fill="url(#mg)"/><path d="M500.26 531.7V535.8M495.82 531.2L492.57 535.6M504.7 531.2L507.96 535.6" stroke="#a0a0a0" stroke-width="0.9" fill="none"/><use href="#m" transform="translate(500.26 494.8) scale(14.8 39.16)" fill="url(#mg)"/><path d="M518.07 531.7V535.8M513.63 531.2L510.38 535.6M522.51 531.2L525.77 535.6" stroke="#a0a0a0" stroke-width="0.9" fill="none"/><use href="#m" transform="translate(518.07 494.8) scale(14.8 39.16)" fill="url(#mg)"/><path d="M538.7 531.7V535.8M534.26 531.2L531 535.6M543.14 531.2L546.4 535.6" stroke="#a0a0a0" stroke-width="0.9" fill="none"/><use href="#m" transform="translate(538.7 494.8) scale(14.8 39.16)" fill="url(#mg)"/></g></g><clipPath id="cL21"><rect x="214.3" y="452.1" width="110.4" height="41"/></clipPath><g clip-path="url(#cL21)"><rect x="214.3" y="452.1" width="110.4" height="41" fill="#232323"/><g filter="url(#sb)"><path d="M222.31 489V493.1M217.63 488.5L214.2 492.9M226.99 488.5L230.42 492.9" stroke="#a0a0a0" stroke-width="0.9" fill="none"/><use href="#m" transform="translate(222.31 452.1) scale(15.6 39.16)" fill="url(#mg)"/><path d="M240.59 489V493.1M235.91 488.5L232.48 492.9M245.27 488.5L248.7 492.9" stroke="#a0a0a0" stroke-width="0.9" fill="none"/><use href="#m" transform="translate(240.59 452.1) scale(15.6 39.16)" fill="url(#mg)"/><path d="M258.87 489V493.1M254.19 488.5L250.76 492.9M263.55 488.5L266.99 492.9" stroke="#a0a0a0" stroke-width="0.9" fill="none"/><use href="#m" transform="translate(258.87 452.1) scale(15.6 39.16)" fill="url(#mg)"/><path d="M277.62 489V493.1M272.94 488.5L269.51 492.9M282.3 488.5L285.73 492.9" stroke="#a0a0a0" stroke-width="0.9" fill="none"/><use href="#m" transform="translate(277.62 452.1) scale(15.6 39.16)" fill="url(#mg)"/><path d="M295.9 489V493.1M291.22 488.5L287.79 492.9M300.58 488.5L304.02 492.9" stroke="#a0a0a0" stroke-width="0.9" fill="none"/><use href="#m" transform="translate(295.9 452.1) scale(15.6 39.16)" fill="url(#mg)"/><path d="M314.65 489V493.1M309.97 488.5L306.54 492.9M319.33 488.5L322.77 492.9" stroke="#a0a0a0" stroke-width="0.9" fill="none"/><use href="#m" transform="translate(314.65 452.1) scale(15.6 39.16)" fill="url(#mg)"/><ellipse cx="222.31" cy="472.56" rx="5.41" ry="3.35" fill="#d9c4ff" opacity="0.85"/><ellipse cx="222.31" cy="472.56" rx="4.31" ry="2.25" fill="#5a12e6"/><ellipse cx="240.41" cy="470.97" rx="5.6" ry="3.54" fill="#d9c4ff" opacity="0.85"/><ellipse cx="240.41" cy="470.97" rx="4.5" ry="2.44" fill="#5a12e6"/><ellipse cx="258.4" cy="459.72" rx="6.54" ry="5.79" fill="#d9c4ff" opacity="0.85"/><ellipse cx="258.4" cy="459.72" rx="5.44" ry="4.69" fill="#5a12e6"/><ellipse cx="256.06" cy="469.56" rx="3.91" ry="5.32" fill="#d9c4ff" opacity="0.85"/><ellipse cx="256.06" cy="469.56" rx="2.81" ry="4.22" fill="#5a12e6"/><ellipse cx="259.81" cy="471.91" rx="4.47" ry="3.91" fill="#d9c4ff" opacity="0.85"/><ellipse cx="259.81" cy="471.91" rx="3.37" ry="2.81" fill="#5a12e6"/><ellipse cx="259.81" cy="485.5" rx="5.32" ry="4.1" fill="#d9c4ff" opacity="0.85"/><ellipse cx="259.81" cy="485.5" rx="4.22" ry="3" fill="#5a12e6"/><ellipse cx="253.25" cy="481" rx="2.6" ry="2.41" fill="#d9c4ff" opacity="0.85"/><ellipse cx="253.25" cy="481" rx="1.5" ry="1.31" fill="#5a12e6"/><ellipse cx="265.9" cy="481.28" rx="2.6" ry="2.6" fill="#d9c4ff" opacity="0.85"/><ellipse cx="265.9" cy="481.28" rx="1.5" ry="1.5" fill="#5a12e6"/><ellipse cx="277.62" cy="459.25" rx="6.54" ry="6.26" fill="#d9c4ff" opacity="0.85"/><ellipse cx="277.62" cy="459.25" rx="5.44" ry="5.16" fill="#5a12e6"/><ellipse cx="277.62" cy="472.56" rx="6.72" ry="4.1" fill="#d9c4ff" opacity="0.85"/><ellipse cx="277.62" cy="472.56" rx="5.62" ry="3" fill="#5a12e6"/><ellipse cx="284.19" cy="481.75" rx="2.79" ry="2.97" fill="#d9c4ff" opacity="0.85"/><ellipse cx="284.19" cy="481.75" rx="1.69" ry="1.87" fill="#5a12e6"/><ellipse cx="295.43" cy="471.91" rx="7.19" ry="5.04" fill="#d9c4ff" opacity="0.85"/><ellipse cx="295.43" cy="471.91" rx="6.09" ry="3.94" fill="#5a12e6"/><ellipse cx="297.31" cy="486.44" rx="2.97" ry="2.97" fill="#d9c4ff" opacity="0.85"/><ellipse cx="297.31" cy="486.44" rx="1.87" ry="1.87" fill="#5a12e6"/><ellipse cx="315.12" cy="458.78" rx="5.04" ry="5.32" fill="#d9c4ff" opacity="0.85"/><ellipse cx="315.12" cy="458.78" rx="3.94" ry="4.22" fill="#5a12e6"/><ellipse cx="314.18" cy="471.91" rx="5.79" ry="3.54" fill="#d9c4ff" opacity="0.85"/><ellipse cx="314.18" cy="471.91" rx="4.69" ry="2.44" fill="#5a12e6"/><ellipse cx="308.09" cy="481" rx="2.79" ry="2.41" fill="#d9c4ff" opacity="0.85"/><ellipse cx="308.09" cy="481" rx="1.69" ry="1.31" fill="#5a12e6"/></g></g><clipPath id="cL22"><rect x="326.3" y="452.1" width="110.4" height="41"/></clipPath><g clip-path="url(#cL22)"><rect x="326.3" y="452.1" width="110.4" height="41" fill="#232323"/><g filter="url(#sb)"><path d="M334.78 489V493.1M329.92 488.5L326.36 492.9M339.64 488.5L343.2 492.9" stroke="#a0a0a0" stroke-width="0.9" fill="none"/><use href="#m" transform="translate(334.78 452.1) scale(16.2 39.16)" fill="url(#mg)"/><path d="M352.12 489V493.1M347.26 488.5L343.7 492.9M356.98 488.5L360.55 492.9" stroke="#a0a0a0" stroke-width="0.9" fill="none"/><use href="#m" transform="translate(352.12 452.1) scale(16.2 39.16)" fill="url(#mg)"/><path d="M406.5 489V493.1M401.64 488.5L398.07 492.9M411.36 488.5L414.92 492.9" stroke="#a0a0a0" stroke-width="0.9" fill="none"/><use href="#m" transform="translate(406.5 452.1) scale(16.2 39.16)" fill="url(#mg)"/><rect x="416.34" y="452.1" width="20.16" height="41" fill="#5a14c8"/><use href="#m" transform="translate(369.94 451.1) scale(19.2 43)" fill="#6a12f0"/><use href="#m" transform="translate(386.81 451.1) scale(16.2 43)" fill="#6a12f0"/><use href="#m" transform="translate(427.12 451.1) scale(18.2 43)" fill="#6a12f0"/><ellipse cx="369.94" cy="466.75" rx="4.69" ry="10.31" fill="#4a18f6" opacity="0.8"/><ellipse cx="335.72" cy="460.19" rx="4.47" ry="8.41" fill="#d9c4ff" opacity="0.85"/><ellipse cx="335.72" cy="460.19" rx="3.37" ry="7.31" fill="#5a12e6"/><ellipse cx="352.12" cy="455.31" rx="4.66" ry="5.32" fill="#d9c4ff" opacity="0.85"/><ellipse cx="352.12" cy="455.31" rx="3.56" ry="4.22" fill="#5a12e6"/><ellipse cx="386.34" cy="478.19" rx="4.87" ry="2.44" fill="#f0d8ff"/><ellipse cx="428.06" cy="477.06" rx="4.69" ry="1.5" fill="#b070f8" opacity="0.8"/><ellipse cx="405.56" cy="459.72" rx="2.44" ry="2.06" fill="#e8d0ff"/><ellipse cx="405.37" cy="459.91" rx="0.94" ry="0.94" fill="#40209a"/><ellipse cx="427.59" cy="458.78" rx="3.26" ry="2.7" fill="#2a1cf4"/><ellipse cx="427.59" cy="458.78" rx="2.06" ry="1.5" fill="#1fd2f2"/><ellipse cx="427.59" cy="458.78" rx="1.4" ry="1.02" fill="#35e24a"/><ellipse cx="364.12" cy="480.06" rx="2.32" ry="2.32" fill="#2a1cf4"/><ellipse cx="364.12" cy="480.06" rx="1.12" ry="1.12" fill="#1fd2f2"/><ellipse cx="420.56" cy="482.69" rx="2.44" ry="2.81" fill="#2a1cf4" opacity="0.8"/></g></g><clipPath id="cL23"><rect x="438.3" y="452.1" width="110.7" height="41"/></clipPath><g clip-path="url(#cL23)"><rect x="438.3" y="452.1" width="110.7" height="41" fill="#232323"/><g filter="url(#sb)"><path d="M447.72 489V493.1M443.01 488.5L439.55 492.9M452.43 488.5L455.88 492.9" stroke="#a0a0a0" stroke-width="0.9" fill="none"/><use href="#m" transform="translate(447.72 452.1) scale(15.7 39.16)" fill="url(#mg)"/><path d="M466.47 489V493.1M461.76 488.5L458.3 492.9M471.18 488.5L474.63 492.9" stroke="#a0a0a0" stroke-width="0.9" fill="none"/><use href="#m" transform="translate(466.47 452.1) scale(15.7 39.16)" fill="url(#mg)"/><path d="M520.84 489V493.1M516.13 488.5L512.68 492.9M525.55 488.5L529.01 492.9" stroke="#a0a0a0" stroke-width="0.9" fill="none"/><use href="#m" transform="translate(520.84 452.1) scale(15.7 39.16)" fill="url(#mg)"/><rect x="475.84" y="452.1" width="37.5" height="41" fill="#4a14b0"/><rect x="529.75" y="452.1" width="19.69" height="41" fill="#7a12e8"/><use href="#m" transform="translate(485.69 451.1) scale(18.2 43)" fill="#2a1cf4"/><use href="#m" transform="translate(503.5 450.1) scale(20.2 45)" fill="#7214f2"/><ellipse cx="540.06" cy="469.56" rx="7.5" ry="14.06" fill="#2a1cf4" opacity="0.75"/><ellipse cx="448.19" cy="460.19" rx="5.6" ry="7.85" fill="#d9c4ff" opacity="0.85"/><ellipse cx="448.19" cy="460.19" rx="4.5" ry="6.75" fill="#5a12e6"/><ellipse cx="466.47" cy="456.91" rx="5.32" ry="5.6" fill="#d9c4ff" opacity="0.85"/><ellipse cx="466.47" cy="456.91" rx="4.22" ry="4.5" fill="#5a12e6"/><ellipse cx="448.66" cy="459.06" rx="2.14" ry="2.14" fill="#2a1cf4"/><ellipse cx="448.66" cy="459.06" rx="0.94" ry="0.94" fill="#1fd2f2"/><ellipse cx="466.47" cy="456.44" rx="1.31" ry="1.12" fill="#2a1cf4"/><ellipse cx="486.15" cy="472.37" rx="6.75" ry="17.81" fill="#1fd2f2"/><ellipse cx="486.15" cy="466.75" rx="5.25" ry="11.25" fill="#35e24a"/><ellipse cx="486.15" cy="473.78" rx="5.81" ry="3.94" fill="#f2e61e"/><ellipse cx="486.15" cy="473.5" rx="5.25" ry="3" fill="#f01a12"/><ellipse cx="487.09" cy="460.19" rx="1.31" ry="1.69" fill="#f2e61e"/><ellipse cx="487.09" cy="460.37" rx="0.75" ry="0.94" fill="#f08010"/><ellipse cx="486.62" cy="482.69" rx="4.69" ry="2.81" fill="#2a1cf4" opacity="0.9"/><ellipse cx="480.06" cy="480.81" rx="0.94" ry="0.94" fill="#35e24a"/><ellipse cx="503.97" cy="462.06" rx="3.26" ry="3.07" fill="#2a1cf4"/><ellipse cx="503.97" cy="462.06" rx="2.06" ry="1.87" fill="#1fd2f2"/><ellipse cx="503.69" cy="457.37" rx="1.95" ry="1.95" fill="#2a1cf4"/><ellipse cx="503.69" cy="457.37" rx="0.75" ry="0.75" fill="#1fd2f2"/><ellipse cx="542.4" cy="459.72" rx="5.14" ry="4.95" fill="#2a1cf4"/><ellipse cx="542.4" cy="459.72" rx="3.94" ry="3.75" fill="#1fd2f2"/><ellipse cx="542.4" cy="459.72" rx="2.68" ry="2.55" fill="#35e24a"/><ellipse cx="542.4" cy="459.72" rx="1.81" ry="1.72" fill="#f2e61e"/><ellipse cx="542.4" cy="459.72" rx="1.34" ry="1.27" fill="#f01a12"/><ellipse cx="534.43" cy="483.16" rx="3.45" ry="3.26" fill="#2a1cf4"/><ellipse cx="534.43" cy="483.16" rx="2.25" ry="2.06" fill="#1fd2f2"/><ellipse cx="534.43" cy="483.16" rx="1.53" ry="1.4" fill="#35e24a"/></g></g><clipPath id="cL01"><rect x="214.3" y="365.7" width="110.4" height="41"/></clipPath><g clip-path="url(#cL01)"><rect x="214.3" y="365.7" width="110.4" height="41" fill="#7a12e8"/><g filter="url(#sb)"><g filter="url(#sb2)"><ellipse cx="221.84" cy="380.46" rx="6.97" ry="12.3" fill="#2a1cf4" opacity="1"/><ellipse cx="221.84" cy="400.14" rx="10.37" ry="8.2" fill="#2a1cf4" opacity="1"/><ellipse cx="240.12" cy="380.46" rx="6.97" ry="12.3" fill="#2a1cf4" opacity="1"/><ellipse cx="240.12" cy="400.14" rx="10.37" ry="8.2" fill="#2a1cf4" opacity="1"/><ellipse cx="257" cy="380.46" rx="6.97" ry="12.3" fill="#2a1cf4" opacity="1"/><ellipse cx="257" cy="400.14" rx="10.37" ry="8.2" fill="#2a1cf4" opacity="1"/><ellipse cx="275.75" cy="380.46" rx="6.97" ry="12.3" fill="#2a1cf4" opacity="1"/><ellipse cx="275.75" cy="400.14" rx="10.37" ry="8.2" fill="#2a1cf4" opacity="1"/><ellipse cx="315.12" cy="380.46" rx="6.97" ry="12.3" fill="#2a1cf4" opacity="1"/><ellipse cx="315.12" cy="400.14" rx="10.37" ry="8.2" fill="#2a1cf4" opacity="1"/></g><rect x="287.47" y="365.7" width="17.81" height="41" fill="#232323"/><use href="#m" transform="translate(296.84 365.7) scale(16.2 41)" fill="#6a12f0"/><ellipse cx="296.84" cy="389.19" rx="5.44" ry="3.19" fill="#f4f0f8"/><path d="M296.84 402.6V406.7M291.98 402.1L288.42 406.5M301.7 402.1L305.27 406.5" stroke="#a0a0a0" stroke-width="0.9" fill="none"/><path d="M251.19 396.69L254.65 400.44" stroke="#1fd2f2" stroke-width="2.25" stroke-linecap="round" fill="none"/><path d="M251.19 396.69L254.65 400.44" stroke="#35e24a" stroke-width="1.12" stroke-linecap="round" fill="none"/><path d="M262.62 397.44L258.87 400.91" stroke="#1fd2f2" stroke-width="2.44" stroke-linecap="round" fill="none"/><path d="M262.62 397.44L258.87 400.91" stroke="#35e24a" stroke-width="1.22" stroke-linecap="round" fill="none"/><path d="M309.97 395.56L312.78 399.03" stroke="#1fd2f2" stroke-width="2.25" stroke-linecap="round" fill="none"/><path d="M309.97 395.56L312.78 399.03" stroke="#35e24a" stroke-width="1.12" stroke-linecap="round" fill="none"/><path d="M321.68 396.87L318.4 399.5" stroke="#1fd2f2" stroke-width="2.06" stroke-linecap="round" fill="none"/><path d="M233.75 394.34L236.37 398.09" stroke="#1fd2f2" stroke-width="1.31" stroke-linecap="round" fill="none"/><path d="M245 395L242.47 398.09" stroke="#1fd2f2" stroke-width="1.31" stroke-linecap="round" fill="none"/><path d="M217.62 395.94L219.97 399.03" stroke="#1fd2f2" stroke-width="1.12" stroke-linecap="round" fill="none"/><path d="M228.87 395.56L226.06 398.56" stroke="#1fd2f2" stroke-width="1.12" stroke-linecap="round" fill="none"/><path d="M269.65 396.5L272 399.5" stroke="#1fd2f2" stroke-width="1.12" stroke-linecap="round" fill="none"/><path d="M281.84 396.69L279.5 399.5" stroke="#1fd2f2" stroke-width="1.12" stroke-linecap="round" fill="none"/><ellipse cx="221.84" cy="372.78" rx="1.12" ry="1.12" fill="#1fd2f2"/><ellipse cx="219.5" cy="377" rx="1.31" ry="1.5" fill="#1fd2f2"/><ellipse cx="222.78" cy="383.09" rx="1.12" ry="2.81" fill="#1fd2f2"/><ellipse cx="240.12" cy="377.94" rx="1.69" ry="2.06" fill="#1fd2f2"/><ellipse cx="243.87" cy="375.12" rx="0.84" ry="0.84" fill="#1fd2f2"/><ellipse cx="256.06" cy="371.84" rx="0.94" ry="0.94" fill="#1fd2f2"/><ellipse cx="253.25" cy="377" rx="1.12" ry="1.31" fill="#1fd2f2"/><ellipse cx="260.28" cy="377" rx="1.31" ry="1.5" fill="#1fd2f2"/><ellipse cx="257" cy="382.16" rx="0.94" ry="1.12" fill="#1fd2f2"/><ellipse cx="276.69" cy="371.37" rx="0.66" ry="0.94" fill="#1fd2f2"/><ellipse cx="275.28" cy="382.16" rx="1.03" ry="3.28" fill="#1fd2f2"/><ellipse cx="312.31" cy="377.47" rx="2.06" ry="2.06" fill="#1fd2f2"/><ellipse cx="312.31" cy="377.47" rx="1.4" ry="1.4" fill="#35e24a"/><ellipse cx="318.4" cy="377" rx="1.31" ry="1.31" fill="#1fd2f2"/><ellipse cx="315.59" cy="382.16" rx="1.69" ry="3" fill="#1fd2f2"/><ellipse cx="315.59" cy="382.16" rx="1.15" ry="2.04" fill="#35e24a"/><ellipse cx="217.62" cy="395.94" rx="1.87" ry="2.25" fill="#1fd2f2"/><ellipse cx="217.62" cy="395.94" rx="1.27" ry="1.53" fill="#35e24a"/><ellipse cx="217.62" cy="395.94" rx="0.86" ry="1.03" fill="#f2e61e"/><ellipse cx="217.62" cy="395.94" rx="0.64" ry="0.76" fill="#f01a12"/><ellipse cx="228.87" cy="395.56" rx="1.87" ry="2.25" fill="#1fd2f2"/><ellipse cx="228.87" cy="395.56" rx="1.27" ry="1.53" fill="#35e24a"/><ellipse cx="228.87" cy="395.56" rx="0.86" ry="1.03" fill="#f2e61e"/><ellipse cx="228.87" cy="395.56" rx="0.64" ry="0.76" fill="#f01a12"/><ellipse cx="233.75" cy="394.34" rx="2.06" ry="2.25" fill="#1fd2f2"/><ellipse cx="233.75" cy="394.34" rx="1.4" ry="1.53" fill="#35e24a"/><ellipse cx="233.75" cy="394.34" rx="0.95" ry="1.03" fill="#f2e61e"/><ellipse cx="233.75" cy="394.34" rx="0.7" ry="0.76" fill="#f01a12"/><ellipse cx="245" cy="395" rx="2.06" ry="2.25" fill="#1fd2f2"/><ellipse cx="245" cy="395" rx="1.4" ry="1.53" fill="#35e24a"/><ellipse cx="245" cy="395" rx="0.95" ry="1.03" fill="#f2e61e"/><ellipse cx="245" cy="395" rx="0.7" ry="0.76" fill="#f01a12"/><ellipse cx="251.19" cy="396.69" rx="2.62" ry="3.28" fill="#1fd2f2" transform="rotate(-25 251.19 396.69)"/><ellipse cx="251.19" cy="396.69" rx="1.78" ry="2.23" fill="#35e24a" transform="rotate(-25 251.19 396.69)"/><ellipse cx="251.19" cy="396.69" rx="1.21" ry="1.51" fill="#f2e61e" transform="rotate(-25 251.19 396.69)"/><ellipse cx="251.19" cy="396.69" rx="0.89" ry="1.12" fill="#f01a12" transform="rotate(-25 251.19 396.69)"/><ellipse cx="262.62" cy="397.44" rx="3" ry="3.56" fill="#1fd2f2" transform="rotate(25 262.62 397.44)"/><ellipse cx="262.62" cy="397.44" rx="2.04" ry="2.42" fill="#35e24a" transform="rotate(25 262.62 397.44)"/><ellipse cx="262.62" cy="397.44" rx="1.38" ry="1.64" fill="#f2e61e" transform="rotate(25 262.62 397.44)"/><ellipse cx="262.62" cy="397.44" rx="1.02" ry="1.21" fill="#f01a12" transform="rotate(25 262.62 397.44)"/><ellipse cx="269.65" cy="396.5" rx="2.06" ry="2.25" fill="#1fd2f2"/><ellipse cx="269.65" cy="396.5" rx="1.4" ry="1.53" fill="#35e24a"/><ellipse cx="281.84" cy="396.69" rx="2.06" ry="2.06" fill="#1fd2f2"/><ellipse cx="309.97" cy="395.56" rx="2.34" ry="3" fill="#1fd2f2" transform="rotate(-25 309.97 395.56)"/><ellipse cx="309.97" cy="395.56" rx="1.59" ry="2.04" fill="#35e24a" transform="rotate(-25 309.97 395.56)"/><ellipse cx="321.68" cy="396.87" rx="2.62" ry="2.62" fill="#1fd2f2"/><ellipse cx="321.68" cy="396.87" rx="1.78" ry="1.78" fill="#35e24a"/><ellipse cx="321.68" cy="396.87" rx="1.21" ry="1.21" fill="#f2e61e"/><ellipse cx="321.68" cy="396.87" rx="0.89" ry="0.89" fill="#f01a12"/></g></g><clipPath id="cL02"><rect x="326.3" y="365.7" width="110.4" height="41"/></clipPath><g clip-path="url(#cL02)"><rect x="326.3" y="365.7" width="110.4" height="41" fill="#7a12e8"/><g filter="url(#sb)"><g filter="url(#sb2)"><ellipse cx="334.78" cy="380.46" rx="7.4" ry="12.3" fill="#2a1cf4" opacity="1"/><ellipse cx="334.78" cy="400.14" rx="11.01" ry="8.2" fill="#2a1cf4" opacity="1"/><ellipse cx="352.12" cy="380.46" rx="7.4" ry="12.3" fill="#2a1cf4" opacity="1"/><ellipse cx="352.12" cy="400.14" rx="11.01" ry="8.2" fill="#2a1cf4" opacity="1"/><ellipse cx="369.94" cy="380.46" rx="7.4" ry="12.3" fill="#2a1cf4" opacity="1"/><ellipse cx="369.94" cy="400.14" rx="11.01" ry="8.2" fill="#2a1cf4" opacity="1"/><ellipse cx="389.62" cy="380.46" rx="7.4" ry="12.3" fill="#2a1cf4" opacity="1"/><ellipse cx="389.62" cy="400.14" rx="11.01" ry="8.2" fill="#2a1cf4" opacity="1"/></g><rect x="399.47" y="365.7" width="37.5" height="41" fill="#232323"/><use href="#m" transform="translate(408.84 365.7) scale(17.2 41)" fill="#6a12f0"/><use href="#m" transform="translate(427.12 364.7) scale(18.2 43)" fill="#6a12f0"/><ellipse cx="408.84" cy="389.66" rx="5.16" ry="3" fill="#f4e8fa"/><path d="M328.22 395.56L332.91 400.44" stroke="#1fd2f2" stroke-width="2.81" stroke-linecap="round" fill="none"/><path d="M328.22 395.56L332.91 400.44" stroke="#35e24a" stroke-width="1.41" stroke-linecap="round" fill="none"/><path d="M339.47 396.87L334.78 400.44" stroke="#1fd2f2" stroke-width="3.19" stroke-linecap="round" fill="none"/><path d="M339.47 396.87L334.78 400.44" stroke="#35e24a" stroke-width="1.59" stroke-linecap="round" fill="none"/><path d="M346.5 395L350.72 401.84" stroke="#1fd2f2" stroke-width="3.19" stroke-linecap="round" fill="none"/><path d="M346.5 395L350.72 401.84" stroke="#35e24a" stroke-width="1.59" stroke-linecap="round" fill="none"/><path d="M357.75 396.5L352.59 401.84" stroke="#1fd2f2" stroke-width="3.37" stroke-linecap="round" fill="none"/><path d="M357.75 396.5L352.59 401.84" stroke="#35e24a" stroke-width="1.69" stroke-linecap="round" fill="none"/><path d="M363.84 396.87L368.53 402.31" stroke="#1fd2f2" stroke-width="3.37" stroke-linecap="round" fill="none"/><path d="M363.84 396.87L368.53 402.31" stroke="#35e24a" stroke-width="1.69" stroke-linecap="round" fill="none"/><path d="M374.62 398L370.4 402.31" stroke="#1fd2f2" stroke-width="3.19" stroke-linecap="round" fill="none"/><path d="M374.62 398L370.4 402.31" stroke="#35e24a" stroke-width="1.59" stroke-linecap="round" fill="none"/><path d="M382.59 395L386.81 401.84" stroke="#1fd2f2" stroke-width="2.44" stroke-linecap="round" fill="none"/><path d="M394.78 396.87L389.62 399.5" stroke="#1fd2f2" stroke-width="1.5" stroke-linecap="round" fill="none"/><ellipse cx="335.25" cy="370.91" rx="2.62" ry="2.44" fill="#1fd2f2"/><ellipse cx="335.25" cy="370.91" rx="1.78" ry="1.66" fill="#35e24a"/><ellipse cx="333.37" cy="377.94" rx="2.81" ry="4.87" fill="#1fd2f2"/><ellipse cx="333.37" cy="377.94" rx="1.91" ry="3.31" fill="#35e24a"/><ellipse cx="352.12" cy="379.34" rx="3.94" ry="5.81" fill="#1fd2f2"/><ellipse cx="352.12" cy="379.34" rx="2.68" ry="3.95" fill="#35e24a"/><ellipse cx="351.19" cy="373.25" rx="1.87" ry="1.69" fill="#1fd2f2"/><ellipse cx="369.94" cy="371.37" rx="2.44" ry="2.44" fill="#1fd2f2"/><ellipse cx="369.94" cy="371.37" rx="1.66" ry="1.66" fill="#35e24a"/><ellipse cx="369.47" cy="379.34" rx="3.75" ry="5.44" fill="#1fd2f2"/><ellipse cx="389.62" cy="370.91" rx="2.06" ry="2.06" fill="#1fd2f2"/><ellipse cx="389.62" cy="370.91" rx="1.4" ry="1.4" fill="#35e24a"/><ellipse cx="389.62" cy="379.34" rx="3.75" ry="5.62" fill="#1fd2f2"/><ellipse cx="328.22" cy="395.56" rx="2.62" ry="2.62" fill="#1fd2f2"/><ellipse cx="328.22" cy="395.56" rx="1.78" ry="1.78" fill="#35e24a"/><ellipse cx="328.22" cy="395.56" rx="1.21" ry="1.21" fill="#f2e61e"/><ellipse cx="328.22" cy="395.56" rx="0.89" ry="0.89" fill="#f01a12"/><ellipse cx="339.47" cy="396.87" rx="3.37" ry="2.81" fill="#1fd2f2" transform="rotate(-30 339.47 396.87)"/><ellipse cx="339.47" cy="396.87" rx="2.29" ry="1.91" fill="#35e24a" transform="rotate(-30 339.47 396.87)"/><ellipse cx="346.5" cy="395" rx="2.25" ry="2.44" fill="#1fd2f2"/><ellipse cx="346.5" cy="395" rx="1.53" ry="1.66" fill="#35e24a"/><ellipse cx="346.5" cy="395" rx="1.03" ry="1.12" fill="#f2e61e"/><ellipse cx="346.5" cy="395" rx="0.76" ry="0.83" fill="#f01a12"/><ellipse cx="352.12" cy="399.5" rx="4.69" ry="3.37" fill="#1fd2f2"/><ellipse cx="352.12" cy="399.5" rx="3.19" ry="2.29" fill="#35e24a"/><ellipse cx="357.75" cy="396.5" rx="2.81" ry="2.81" fill="#1fd2f2"/><ellipse cx="357.75" cy="396.5" rx="1.91" ry="1.91" fill="#35e24a"/><ellipse cx="357.75" cy="396.5" rx="1.29" ry="1.29" fill="#f2e61e"/><ellipse cx="357.75" cy="396.5" rx="0.96" ry="0.96" fill="#f01a12"/><ellipse cx="363.84" cy="396.87" rx="3.37" ry="3.75" fill="#1fd2f2" transform="rotate(-25 363.84 396.87)"/><ellipse cx="363.84" cy="396.87" rx="2.29" ry="2.55" fill="#35e24a" transform="rotate(-25 363.84 396.87)"/><ellipse cx="363.84" cy="396.87" rx="1.55" ry="1.72" fill="#f2e61e" transform="rotate(-25 363.84 396.87)"/><ellipse cx="363.84" cy="396.87" rx="1.15" ry="1.27" fill="#f01a12" transform="rotate(-25 363.84 396.87)"/><ellipse cx="374.62" cy="398" rx="2.81" ry="3.75" fill="#1fd2f2" transform="rotate(25 374.62 398)"/><ellipse cx="374.62" cy="398" rx="1.91" ry="2.55" fill="#35e24a" transform="rotate(25 374.62 398)"/><ellipse cx="374.62" cy="398" rx="1.29" ry="1.72" fill="#f2e61e" transform="rotate(25 374.62 398)"/><ellipse cx="374.62" cy="398" rx="0.96" ry="1.27" fill="#f01a12" transform="rotate(25 374.62 398)"/><ellipse cx="382.59" cy="395" rx="2.44" ry="2.62" fill="#1fd2f2"/><ellipse cx="382.59" cy="395" rx="1.66" ry="1.78" fill="#35e24a"/><ellipse cx="382.59" cy="395" rx="1.12" ry="1.21" fill="#f2e61e"/><ellipse cx="382.59" cy="395" rx="0.83" ry="0.89" fill="#f01a12"/><ellipse cx="394.78" cy="396.87" rx="1.87" ry="2.06" fill="#1fd2f2"/><ellipse cx="394.78" cy="396.87" rx="1.27" ry="1.4" fill="#35e24a"/><ellipse cx="394.78" cy="396.87" rx="0.86" ry="0.95" fill="#f2e61e"/><ellipse cx="394.78" cy="396.87" rx="0.64" ry="0.7" fill="#f01a12"/><ellipse cx="369" cy="402.31" rx="1.31" ry="2.81" fill="#1fd2f2"/><ellipse cx="387.28" cy="402.31" rx="0.94" ry="1.87" fill="#1fd2f2"/><ellipse cx="333.37" cy="399.5" rx="0.94" ry="2.81" fill="#1fd2f2"/></g></g><clipPath id="cL03"><rect x="438.3" y="365.7" width="76.73" height="41"/></clipPath><g clip-path="url(#cL03)"><rect x="438.3" y="365.7" width="76.73" height="41" fill="#7a12e8"/><g filter="url(#sb)"><g filter="url(#sb2)"><ellipse cx="447.72" cy="380.46" rx="8.26" ry="12.3" fill="#2a1cf4" opacity="1"/><ellipse cx="447.72" cy="400.14" rx="12.29" ry="8.2" fill="#2a1cf4" opacity="1"/><ellipse cx="467.41" cy="380.46" rx="8.26" ry="12.3" fill="#2a1cf4" opacity="1"/><ellipse cx="467.41" cy="400.14" rx="12.29" ry="8.2" fill="#2a1cf4" opacity="1"/><ellipse cx="488.5" cy="380.46" rx="8.26" ry="12.3" fill="#2a1cf4" opacity="1"/><ellipse cx="488.5" cy="400.14" rx="12.29" ry="8.2" fill="#2a1cf4" opacity="1"/><ellipse cx="505.84" cy="380.46" rx="8.26" ry="12.3" fill="#2a1cf4" opacity="1"/><ellipse cx="505.84" cy="400.14" rx="12.29" ry="8.2" fill="#2a1cf4" opacity="1"/></g><ellipse cx="447.72" cy="380.75" rx="7.5" ry="10.31" fill="#1fd2f2"/><ellipse cx="447.25" cy="401.37" rx="8.44" ry="5.62" fill="#1fd2f2"/><ellipse cx="446.87" cy="379.74" rx="3.94" ry="5.23" fill="#35e24a"/><ellipse cx="449.41" cy="384.55" rx="2.25" ry="2.53" fill="#35e24a"/><ellipse cx="446.27" cy="400.92" rx="4.59" ry="2.32" fill="#35e24a"/><ellipse cx="449.22" cy="403.06" rx="2.62" ry="1.12" fill="#35e24a"/><ellipse cx="447.72" cy="392.47" rx="5.44" ry="3.19" fill="#2a1cf4" opacity="0.95"/><ellipse cx="446.31" cy="374.19" rx="2.16" ry="1.97" fill="#f2e61e"/><ellipse cx="446.31" cy="374.19" rx="1.31" ry="1.12" fill="#f01a12"/><ellipse cx="444.91" cy="381.69" rx="1.97" ry="1.97" fill="#f2e61e"/><ellipse cx="444.91" cy="381.69" rx="1.12" ry="1.12" fill="#f01a12"/><ellipse cx="453.34" cy="399.03" rx="3.47" ry="2.72" fill="#f2e61e"/><ellipse cx="453.34" cy="399.03" rx="2.62" ry="1.87" fill="#f01a12"/><ellipse cx="439.28" cy="398.09" rx="1.97" ry="2.91" fill="#f2e61e"/><ellipse cx="439.28" cy="398.09" rx="1.12" ry="2.06" fill="#f01a12"/><ellipse cx="466.94" cy="385.44" rx="8.44" ry="17.81" fill="#1fd2f2"/><ellipse cx="465.95" cy="383.52" rx="4.59" ry="9.88" fill="#35e24a"/><ellipse cx="468.91" cy="392.61" rx="2.62" ry="4.78" fill="#35e24a"/><ellipse cx="467.41" cy="392.47" rx="5.44" ry="3.19" fill="#2a1cf4" opacity="0.95"/><ellipse cx="466.47" cy="376.06" rx="3.84" ry="4.78" fill="#f2e61e"/><ellipse cx="466.47" cy="376.06" rx="3" ry="3.94" fill="#f01a12"/><ellipse cx="466.94" cy="388.72" rx="6.66" ry="5.72" fill="#f2e61e"/><ellipse cx="466.94" cy="388.72" rx="5.81" ry="4.87" fill="#f01a12"/><ellipse cx="466.94" cy="398.56" rx="5.72" ry="4.59" fill="#f2e61e"/><ellipse cx="466.94" cy="398.56" rx="4.87" ry="3.75" fill="#f01a12"/><ellipse cx="475.37" cy="396.22" rx="2.53" ry="4.12" fill="#f2e61e"/><ellipse cx="475.37" cy="396.22" rx="1.69" ry="3.28" fill="#f01a12"/><ellipse cx="488.5" cy="380.75" rx="7.69" ry="12.19" fill="#1fd2f2"/><ellipse cx="488.5" cy="401.37" rx="8.44" ry="5.62" fill="#1fd2f2"/><ellipse cx="487.63" cy="379.51" rx="4.07" ry="6.39" fill="#35e24a"/><ellipse cx="490.24" cy="385.39" rx="2.32" ry="3.09" fill="#35e24a"/><ellipse cx="487.51" cy="400.92" rx="4.59" ry="2.32" fill="#35e24a"/><ellipse cx="490.47" cy="403.06" rx="2.62" ry="1.12" fill="#35e24a"/><ellipse cx="488.5" cy="392.47" rx="5.44" ry="3.19" fill="#2a1cf4" opacity="0.95"/><ellipse cx="488.97" cy="373.72" rx="3.47" ry="3.28" fill="#f2e61e"/><ellipse cx="488.97" cy="373.72" rx="2.62" ry="2.44" fill="#f01a12"/><ellipse cx="485.22" cy="386.19" rx="2.16" ry="2.91" fill="#f2e61e"/><ellipse cx="485.22" cy="386.19" rx="1.31" ry="2.06" fill="#f01a12"/><ellipse cx="491.31" cy="385.91" rx="2.16" ry="2.72" fill="#f2e61e"/><ellipse cx="491.31" cy="385.91" rx="1.31" ry="1.87" fill="#f01a12"/><ellipse cx="492.25" cy="399.5" rx="4.22" ry="3.47" fill="#f2e61e"/><ellipse cx="492.25" cy="399.5" rx="3.37" ry="2.62" fill="#f01a12"/><ellipse cx="480.53" cy="396.69" rx="1.97" ry="2.34" fill="#f2e61e"/><ellipse cx="480.53" cy="396.69" rx="1.12" ry="1.5" fill="#f01a12"/><ellipse cx="505.84" cy="378.87" rx="6.56" ry="10.31" fill="#1fd2f2"/><ellipse cx="505.84" cy="399.03" rx="8.91" ry="6.09" fill="#1fd2f2"/><ellipse cx="505.14" cy="377.86" rx="3.28" ry="5.23" fill="#35e24a"/><ellipse cx="507.25" cy="382.67" rx="1.87" ry="2.53" fill="#35e24a"/><ellipse cx="504.79" cy="398.52" rx="4.92" ry="2.62" fill="#35e24a"/><ellipse cx="507.95" cy="400.93" rx="2.81" ry="1.27" fill="#35e24a"/><ellipse cx="505.84" cy="392.47" rx="5.44" ry="3.19" fill="#2a1cf4" opacity="0.95"/><ellipse cx="506.31" cy="372.78" rx="3.28" ry="3.09" fill="#f2e61e"/><ellipse cx="506.31" cy="372.78" rx="2.44" ry="2.25" fill="#f01a12"/><ellipse cx="506.31" cy="383.56" rx="2.91" ry="2.91" fill="#f2e61e"/><ellipse cx="506.31" cy="383.56" rx="2.06" ry="2.06" fill="#f01a12"/><ellipse cx="499.75" cy="396.22" rx="2.72" ry="2.72" fill="#f2e61e"/><ellipse cx="499.75" cy="396.22" rx="1.87" ry="1.87" fill="#f01a12"/><ellipse cx="512.4" cy="396.22" rx="1.97" ry="2.72" fill="#f2e61e"/><ellipse cx="512.4" cy="396.22" rx="1.12" ry="1.87" fill="#f01a12"/></g></g><clipPath id="cL03b"><rect x="530.03" y="365.7" width="18.94" height="41"/></clipPath><g clip-path="url(#cL03b)"><rect x="530.03" y="365.7" width="18.94" height="41" fill="#7a12e8"/><g filter="url(#sb)"><g filter="url(#sb2)"><ellipse cx="539.12" cy="380.46" rx="7.83" ry="12.3" fill="#2a1cf4" opacity="1"/><ellipse cx="539.12" cy="400.14" rx="11.65" ry="8.2" fill="#2a1cf4" opacity="1"/></g><ellipse cx="538.18" cy="378.41" rx="5.14" ry="10.57" fill="#2a1cf4"/><ellipse cx="538.18" cy="378.41" rx="3.94" ry="9.37" fill="#1fd2f2"/><ellipse cx="538.18" cy="378.41" rx="2.68" ry="6.37" fill="#35e24a"/><ellipse cx="532.56" cy="398.09" rx="3.64" ry="3.26" fill="#2a1cf4"/><ellipse cx="532.56" cy="398.09" rx="2.44" ry="2.06" fill="#1fd2f2"/><ellipse cx="532.56" cy="398.09" rx="1.66" ry="1.4" fill="#35e24a"/><ellipse cx="544.75" cy="398.09" rx="2.51" ry="2.89" fill="#2a1cf4"/><ellipse cx="544.75" cy="398.09" rx="1.31" ry="1.69" fill="#1fd2f2"/><ellipse cx="544.75" cy="398.09" rx="0.89" ry="1.15" fill="#35e24a"/><ellipse cx="544.75" cy="398.09" rx="0.6" ry="0.78" fill="#f2e61e"/><ellipse cx="544.75" cy="398.09" rx="0.45" ry="0.57" fill="#f01a12"/></g></g><clipPath id="cL11"><rect x="214.3" y="408.9" width="110.4" height="41"/></clipPath><g clip-path="url(#cL11)"><rect x="214.3" y="408.9" width="110.4" height="41" fill="#6c14d8"/><g filter="url(#sb)"><path d="M228.59 408.9L235.72 408.9L233.28 431.45L232.16 441.7L231.03 431.45Z" fill="#2a1c40" opacity="0.45" filter="url(#sb2)"/><path d="M250.62 408.9L257.75 408.9L255.31 431.45L254.19 441.7L253.06 431.45Z" fill="#2a1c40" opacity="0.45" filter="url(#sb2)"/><path d="M268.44 408.9L275.56 408.9L273.12 431.45L272 441.7L270.87 431.45Z" fill="#2a1c40" opacity="0.45" filter="url(#sb2)"/><path d="M286.25 408.9L293.37 408.9L290.94 431.45L289.81 441.7L288.69 431.45Z" fill="#2a1c40" opacity="0.45" filter="url(#sb2)"/><path d="M303.12 408.9L310.25 408.9L307.81 431.45L306.68 441.7L305.56 431.45Z" fill="#2a1c40" opacity="0.45" filter="url(#sb2)"/><g filter="url(#sb2)"><ellipse cx="222.31" cy="423.75" rx="4.87" ry="10.31" fill="#4a18f2" opacity="0.85"/><ellipse cx="222.31" cy="442.03" rx="7.5" ry="5.16" fill="#4416f4" opacity="0.75"/><ellipse cx="244.81" cy="423.75" rx="4.87" ry="10.31" fill="#4a18f2" opacity="0.85"/><ellipse cx="244.81" cy="442.03" rx="7.5" ry="5.16" fill="#4416f4" opacity="0.75"/><ellipse cx="262.62" cy="423.75" rx="4.87" ry="10.31" fill="#4a18f2" opacity="0.85"/><ellipse cx="262.62" cy="442.03" rx="7.5" ry="5.16" fill="#4416f4" opacity="0.75"/><ellipse cx="280.44" cy="423.75" rx="4.87" ry="10.31" fill="#4a18f2" opacity="0.85"/><ellipse cx="280.44" cy="442.03" rx="7.5" ry="5.16" fill="#4416f4" opacity="0.75"/><ellipse cx="298.25" cy="423.75" rx="4.87" ry="10.31" fill="#4a18f2" opacity="0.85"/><ellipse cx="298.25" cy="442.03" rx="7.5" ry="5.16" fill="#4416f4" opacity="0.75"/><ellipse cx="316.06" cy="423.75" rx="4.87" ry="10.31" fill="#4a18f2" opacity="0.85"/><ellipse cx="316.06" cy="442.03" rx="7.5" ry="5.16" fill="#4416f4" opacity="0.75"/><ellipse cx="219.97" cy="432.19" rx="3.75" ry="0.94" fill="#b060f0" opacity="0.7"/><ellipse cx="317" cy="432.66" rx="4.31" ry="1.12" fill="#b060f0" opacity="0.7"/><ellipse cx="300.12" cy="433.12" rx="2.81" ry="0.94" fill="#a050f0" opacity="0.6"/></g><path d="M237.78 439.22L241.06 442.03" stroke="#1fd2f2" stroke-width="1.5" stroke-linecap="round" fill="none"/><path d="M249.5 439.87L246.22 442.03" stroke="#1fd2f2" stroke-width="1.31" stroke-linecap="round" fill="none"/><path d="M284.19 439.22L281.37 442.03" stroke="#1fd2f2" stroke-width="1.5" stroke-linecap="round" fill="none"/><path d="M272.94 437.62L273.87 440.62" stroke="#1fd2f2" stroke-width="0.94" stroke-linecap="round" fill="none"/><ellipse cx="242.47" cy="420" rx="1.03" ry="1.03" fill="#1fd2f2"/><ellipse cx="247.62" cy="420" rx="1.03" ry="1.03" fill="#1fd2f2"/><ellipse cx="245" cy="424.69" rx="0.66" ry="3.75" fill="#1fd2f2"/><ellipse cx="237.78" cy="439.22" rx="2.62" ry="2.62" fill="#1fd2f2"/><ellipse cx="237.78" cy="439.22" rx="1.78" ry="1.78" fill="#35e24a"/><ellipse cx="237.78" cy="439.22" rx="1.21" ry="1.21" fill="#f2e61e"/><ellipse cx="237.78" cy="439.22" rx="0.89" ry="0.89" fill="#f01a12"/><ellipse cx="249.5" cy="439.87" rx="2.34" ry="2.34" fill="#1fd2f2"/><ellipse cx="249.5" cy="439.87" rx="1.59" ry="1.59" fill="#35e24a"/><ellipse cx="249.5" cy="439.87" rx="1.08" ry="1.08" fill="#f2e61e"/><ellipse cx="249.5" cy="439.87" rx="0.8" ry="0.8" fill="#f01a12"/><ellipse cx="257.75" cy="437.62" rx="1.12" ry="1.12" fill="#1fd2f2"/><ellipse cx="268.72" cy="438.75" rx="1.12" ry="1.12" fill="#1fd2f2"/><ellipse cx="272.94" cy="437.62" rx="1.69" ry="2.25" fill="#1fd2f2"/><ellipse cx="272.94" cy="437.62" rx="1.15" ry="1.53" fill="#35e24a"/><ellipse cx="284.19" cy="439.22" rx="2.62" ry="2.81" fill="#1fd2f2"/><ellipse cx="284.19" cy="439.22" rx="1.78" ry="1.91" fill="#35e24a"/><ellipse cx="284.19" cy="439.22" rx="1.21" ry="1.29" fill="#f2e61e"/><ellipse cx="284.19" cy="439.22" rx="0.89" ry="0.96" fill="#f01a12"/><ellipse cx="291.87" cy="438.75" rx="0.94" ry="0.94" fill="#1fd2f2"/><ellipse cx="305.28" cy="438.94" rx="0.75" ry="0.75" fill="#1fd2f2"/><ellipse cx="309.5" cy="438.94" rx="0.75" ry="0.75" fill="#1fd2f2"/><ellipse cx="277.62" cy="421.41" rx="0.94" ry="0.94" fill="#1fd2f2"/><ellipse cx="282.31" cy="419.06" rx="0.94" ry="0.94" fill="#1fd2f2"/><ellipse cx="243.87" cy="445.31" rx="0.94" ry="0.94" fill="#1fd2f2"/><ellipse cx="316.53" cy="421.87" rx="2.14" ry="2.32" fill="#2a1cf4" opacity="0.8"/><ellipse cx="316.53" cy="421.87" rx="0.94" ry="1.12" fill="#1fd2f2"/><ellipse cx="256.53" cy="419.53" rx="0.66" ry="0.66" fill="#f0e0ff"/></g></g><clipPath id="cL12"><rect x="326.3" y="408.9" width="110.4" height="41"/></clipPath><g clip-path="url(#cL12)"><rect x="326.3" y="408.9" width="110.4" height="41" fill="#7a12e8"/><g filter="url(#sb)"><g filter="url(#sb2)"><ellipse cx="334.78" cy="423.66" rx="7.4" ry="12.3" fill="#2a1cf4" opacity="1"/><ellipse cx="334.78" cy="443.34" rx="11.01" ry="8.2" fill="#2a1cf4" opacity="1"/><ellipse cx="352.12" cy="423.66" rx="7.4" ry="12.3" fill="#2a1cf4" opacity="1"/><ellipse cx="352.12" cy="443.34" rx="11.01" ry="8.2" fill="#2a1cf4" opacity="1"/><ellipse cx="369" cy="423.66" rx="7.4" ry="12.3" fill="#2a1cf4" opacity="1"/><ellipse cx="369" cy="443.34" rx="11.01" ry="8.2" fill="#2a1cf4" opacity="1"/><ellipse cx="389.62" cy="423.66" rx="7.4" ry="12.3" fill="#2a1cf4" opacity="1"/><ellipse cx="389.62" cy="443.34" rx="11.01" ry="8.2" fill="#2a1cf4" opacity="1"/><ellipse cx="411.18" cy="423.66" rx="7.4" ry="12.3" fill="#2a1cf4" opacity="1"/><ellipse cx="411.18" cy="443.34" rx="11.01" ry="8.2" fill="#2a1cf4" opacity="1"/><ellipse cx="427.59" cy="423.66" rx="7.4" ry="12.3" fill="#2a1cf4" opacity="1"/><ellipse cx="427.59" cy="443.34" rx="11.01" ry="8.2" fill="#2a1cf4" opacity="1"/></g><path d="M327.75 437.81L331.97 443.44" stroke="#1fd2f2" stroke-width="2.25" stroke-linecap="round" fill="none"/><path d="M338.06 439.22L334.31 442.5" stroke="#1fd2f2" stroke-width="2.25" stroke-linecap="round" fill="none"/><path d="M338.06 439.22L334.31 442.5" stroke="#35e24a" stroke-width="1.12" stroke-linecap="round" fill="none"/><path d="M344.16 437.81L348.84 444.37" stroke="#1fd2f2" stroke-width="3.19" stroke-linecap="round" fill="none"/><path d="M344.16 437.81L348.84 444.37" stroke="#35e24a" stroke-width="1.59" stroke-linecap="round" fill="none"/><path d="M356.34 439.69L350.72 444.84" stroke="#1fd2f2" stroke-width="2.81" stroke-linecap="round" fill="none"/><path d="M356.34 439.69L350.72 444.84" stroke="#35e24a" stroke-width="1.41" stroke-linecap="round" fill="none"/><path d="M361.97 439.22L367.12 444.84" stroke="#1fd2f2" stroke-width="3.37" stroke-linecap="round" fill="none"/><path d="M361.97 439.22L367.12 444.84" stroke="#35e24a" stroke-width="1.69" stroke-linecap="round" fill="none"/><path d="M373.69 439.69L369.47 444.84" stroke="#1fd2f2" stroke-width="2.81" stroke-linecap="round" fill="none"/><path d="M373.69 439.69L369.47 444.84" stroke="#35e24a" stroke-width="1.41" stroke-linecap="round" fill="none"/><path d="M382.12 439.22L385.4 445.31" stroke="#1fd2f2" stroke-width="2.25" stroke-linecap="round" fill="none"/><path d="M382.12 439.22L385.4 445.31" stroke="#35e24a" stroke-width="1.12" stroke-linecap="round" fill="none"/><path d="M394.78 439.22L388.69 444.84" stroke="#1fd2f2" stroke-width="3.37" stroke-linecap="round" fill="none"/><path d="M394.78 439.22L388.69 444.84" stroke="#35e24a" stroke-width="1.69" stroke-linecap="round" fill="none"/><path d="M400.87 437.34L404.62 444.37" stroke="#1fd2f2" stroke-width="2.25" stroke-linecap="round" fill="none"/><path d="M414 440.62L407.9 442.97" stroke="#1fd2f2" stroke-width="2.81" stroke-linecap="round" fill="none"/><path d="M414 440.62L407.9 442.97" stroke="#35e24a" stroke-width="1.41" stroke-linecap="round" fill="none"/><path d="M419.15 439.69L419.62 441.09" stroke="#1fd2f2" stroke-width="1.31" stroke-linecap="round" fill="none"/><path d="M432.75 439.5L428.53 442.5" stroke="#1fd2f2" stroke-width="2.81" stroke-linecap="round" fill="none"/><path d="M432.75 439.5L428.53 442.5" stroke="#35e24a" stroke-width="1.41" stroke-linecap="round" fill="none"/><ellipse cx="335.25" cy="414.37" rx="2.44" ry="2.06" fill="#1fd2f2"/><ellipse cx="335.25" cy="414.37" rx="1.66" ry="1.4" fill="#35e24a"/><ellipse cx="333.84" cy="420.47" rx="2.44" ry="3.37" fill="#1fd2f2"/><ellipse cx="333.84" cy="420.47" rx="1.66" ry="2.29" fill="#35e24a"/><ellipse cx="352.12" cy="414.37" rx="2.62" ry="2.81" fill="#1fd2f2"/><ellipse cx="352.12" cy="414.37" rx="1.78" ry="1.91" fill="#35e24a"/><ellipse cx="352.12" cy="414.37" rx="1.21" ry="1.29" fill="#f2e61e"/><ellipse cx="349.31" cy="424.22" rx="2.81" ry="2.81" fill="#1fd2f2"/><ellipse cx="349.31" cy="424.22" rx="1.91" ry="1.91" fill="#35e24a"/><ellipse cx="354.47" cy="426.09" rx="0.94" ry="0.94" fill="#1fd2f2"/><ellipse cx="369" cy="414.84" rx="2.81" ry="2.62" fill="#1fd2f2"/><ellipse cx="369" cy="414.84" rx="1.91" ry="1.78" fill="#35e24a"/><ellipse cx="369" cy="414.84" rx="1.29" ry="1.21" fill="#f2e61e"/><ellipse cx="369" cy="414.84" rx="0.96" ry="0.89" fill="#f01a12"/><ellipse cx="368.53" cy="425.16" rx="1.69" ry="2.62" fill="#1fd2f2"/><ellipse cx="368.53" cy="425.16" rx="1.15" ry="1.78" fill="#35e24a"/><ellipse cx="372.75" cy="425.16" rx="0.75" ry="0.75" fill="#1fd2f2"/><ellipse cx="389.62" cy="415.78" rx="2.44" ry="2.06" fill="#1fd2f2"/><ellipse cx="389.62" cy="424.22" rx="3.75" ry="5.81" fill="#1fd2f2"/><ellipse cx="411.18" cy="414.84" rx="2.25" ry="1.69" fill="#1fd2f2"/><ellipse cx="411.18" cy="414.84" rx="1.53" ry="1.15" fill="#35e24a"/><ellipse cx="412.59" cy="427.03" rx="1.5" ry="1.87" fill="#1fd2f2"/><ellipse cx="408.84" cy="420.94" rx="0.94" ry="1.31" fill="#1fd2f2"/><ellipse cx="427.59" cy="415.78" rx="2.06" ry="1.31" fill="#1fd2f2"/><ellipse cx="427.12" cy="426.09" rx="3.26" ry="2.51" fill="#2a1cf4" opacity="0.8"/><ellipse cx="427.12" cy="426.09" rx="2.06" ry="1.31" fill="#1fd2f2"/><ellipse cx="327.75" cy="437.81" rx="2.06" ry="2.25" fill="#1fd2f2"/><ellipse cx="327.75" cy="437.81" rx="1.4" ry="1.53" fill="#35e24a"/><ellipse cx="327.75" cy="437.81" rx="0.95" ry="1.03" fill="#f2e61e"/><ellipse cx="327.75" cy="437.81" rx="0.7" ry="0.76" fill="#f01a12"/><ellipse cx="331.03" cy="441.56" rx="1.5" ry="2.81" fill="#1fd2f2" transform="rotate(-30 331.03 441.56)"/><ellipse cx="338.06" cy="439.22" rx="2.62" ry="2.81" fill="#1fd2f2"/><ellipse cx="338.06" cy="439.22" rx="1.78" ry="1.91" fill="#35e24a"/><ellipse cx="338.06" cy="439.22" rx="1.21" ry="1.29" fill="#f2e61e"/><ellipse cx="338.06" cy="439.22" rx="0.89" ry="0.96" fill="#f01a12"/><ellipse cx="344.16" cy="437.81" rx="2.34" ry="3.28" fill="#1fd2f2"/><ellipse cx="344.16" cy="437.81" rx="1.59" ry="2.23" fill="#35e24a"/><ellipse cx="349.31" cy="442.5" rx="4.69" ry="3.94" fill="#1fd2f2"/><ellipse cx="349.31" cy="442.5" rx="3.19" ry="2.68" fill="#35e24a"/><ellipse cx="356.34" cy="439.69" rx="1.69" ry="2.62" fill="#1fd2f2"/><ellipse cx="356.34" cy="439.69" rx="1.15" ry="1.78" fill="#35e24a"/><ellipse cx="361.97" cy="439.22" rx="3" ry="3.28" fill="#1fd2f2"/><ellipse cx="361.97" cy="439.22" rx="2.04" ry="2.23" fill="#35e24a"/><ellipse cx="361.97" cy="439.22" rx="1.38" ry="1.51" fill="#f2e61e"/><ellipse cx="361.97" cy="439.22" rx="1.02" ry="1.12" fill="#f01a12"/><ellipse cx="368.06" cy="443.44" rx="3.75" ry="3.56" fill="#1fd2f2"/><ellipse cx="373.69" cy="439.69" rx="2.81" ry="2.81" fill="#1fd2f2"/><ellipse cx="373.69" cy="439.69" rx="1.91" ry="1.91" fill="#35e24a"/><ellipse cx="373.69" cy="439.69" rx="1.29" ry="1.29" fill="#f2e61e"/><ellipse cx="373.69" cy="439.69" rx="0.96" ry="0.96" fill="#f01a12"/><ellipse cx="382.12" cy="439.22" rx="1.87" ry="2.81" fill="#1fd2f2"/><ellipse cx="382.12" cy="439.22" rx="1.27" ry="1.91" fill="#35e24a"/><ellipse cx="391.5" cy="441.09" rx="4.69" ry="4.5" fill="#1fd2f2" transform="rotate(35 391.5 441.09)"/><ellipse cx="391.5" cy="441.09" rx="3.19" ry="3.06" fill="#35e24a" transform="rotate(35 391.5 441.09)"/><ellipse cx="394.78" cy="439.22" rx="1.87" ry="1.87" fill="#1fd2f2"/><ellipse cx="394.78" cy="439.22" rx="1.27" ry="1.27" fill="#35e24a"/><ellipse cx="394.78" cy="439.22" rx="0.86" ry="0.86" fill="#f2e61e"/><ellipse cx="394.78" cy="439.22" rx="0.64" ry="0.64" fill="#f01a12"/><ellipse cx="400.87" cy="437.34" rx="1.87" ry="2.81" fill="#1fd2f2"/><ellipse cx="400.87" cy="437.34" rx="1.27" ry="1.91" fill="#35e24a"/><ellipse cx="400.87" cy="437.34" rx="0.86" ry="1.29" fill="#f2e61e"/><ellipse cx="400.87" cy="437.34" rx="0.64" ry="0.96" fill="#f01a12"/><ellipse cx="404.62" cy="444.84" rx="1.41" ry="2.34" fill="#1fd2f2"/><ellipse cx="411.18" cy="441.09" rx="4.22" ry="2.81" fill="#1fd2f2" transform="rotate(25 411.18 441.09)"/><ellipse cx="411.18" cy="441.09" rx="2.87" ry="1.91" fill="#35e24a" transform="rotate(25 411.18 441.09)"/><ellipse cx="414" cy="440.62" rx="1.69" ry="1.69" fill="#1fd2f2"/><ellipse cx="414" cy="440.62" rx="1.15" ry="1.15" fill="#35e24a"/><ellipse cx="414" cy="440.62" rx="0.78" ry="0.78" fill="#f2e61e"/><ellipse cx="414" cy="440.62" rx="0.57" ry="0.57" fill="#f01a12"/><ellipse cx="419.15" cy="439.69" rx="1.12" ry="2.06" fill="#1fd2f2"/><ellipse cx="430.4" cy="440.62" rx="3.75" ry="3" fill="#1fd2f2" transform="rotate(25 430.4 440.62)"/><ellipse cx="430.4" cy="440.62" rx="2.55" ry="2.04" fill="#35e24a" transform="rotate(25 430.4 440.62)"/><ellipse cx="432.75" cy="439.22" rx="1.12" ry="1.12" fill="#1fd2f2"/><ellipse cx="432.75" cy="439.22" rx="0.76" ry="0.76" fill="#35e24a"/><ellipse cx="432.75" cy="439.22" rx="0.52" ry="0.52" fill="#f2e61e"/><ellipse cx="432.75" cy="439.22" rx="0.38" ry="0.38" fill="#f01a12"/></g></g><clipPath id="cL13"><rect x="438.3" y="408.9" width="90.51" height="41"/></clipPath><g clip-path="url(#cL13)"><rect x="438.3" y="408.9" width="90.51" height="41" fill="#7a12e8"/><g filter="url(#sb)"><g filter="url(#sb2)"><ellipse cx="448.66" cy="423.66" rx="7.83" ry="12.3" fill="#2a1cf4" opacity="1"/><ellipse cx="448.66" cy="443.34" rx="11.65" ry="8.2" fill="#2a1cf4" opacity="1"/><ellipse cx="465.53" cy="423.66" rx="7.83" ry="12.3" fill="#2a1cf4" opacity="1"/><ellipse cx="465.53" cy="443.34" rx="11.65" ry="8.2" fill="#2a1cf4" opacity="1"/><ellipse cx="483.34" cy="423.66" rx="7.83" ry="12.3" fill="#2a1cf4" opacity="1"/><ellipse cx="483.34" cy="443.34" rx="11.65" ry="8.2" fill="#2a1cf4" opacity="1"/><ellipse cx="503.03" cy="423.66" rx="7.83" ry="12.3" fill="#2a1cf4" opacity="1"/><ellipse cx="503.03" cy="443.34" rx="11.65" ry="8.2" fill="#2a1cf4" opacity="1"/><ellipse cx="520.37" cy="423.66" rx="7.83" ry="12.3" fill="#2a1cf4" opacity="1"/><ellipse cx="520.37" cy="443.34" rx="11.65" ry="8.2" fill="#2a1cf4" opacity="1"/></g><ellipse cx="449.12" cy="421.87" rx="7.03" ry="12.19" fill="#1fd2f2"/><ellipse cx="447.72" cy="443.44" rx="8.44" ry="6.09" fill="#1fd2f2"/><ellipse cx="448.35" cy="420.64" rx="3.61" ry="6.39" fill="#35e24a"/><ellipse cx="450.67" cy="426.51" rx="2.06" ry="3.09" fill="#35e24a"/><ellipse cx="446.73" cy="442.93" rx="4.59" ry="2.62" fill="#35e24a"/><ellipse cx="449.69" cy="445.33" rx="2.62" ry="1.27" fill="#35e24a"/><ellipse cx="448.66" cy="435.47" rx="5.44" ry="3.19" fill="#2a1cf4" opacity="0.95"/><ellipse cx="449.59" cy="416.72" rx="3.09" ry="3.84" fill="#f2e61e"/><ellipse cx="449.59" cy="416.72" rx="2.25" ry="3" fill="#f01a12"/><ellipse cx="452.87" cy="440.62" rx="2.53" ry="2.91" fill="#f2e61e"/><ellipse cx="452.87" cy="440.62" rx="1.69" ry="2.06" fill="#f01a12"/><ellipse cx="440.69" cy="437.81" rx="1.97" ry="2.34" fill="#f2e61e"/><ellipse cx="440.69" cy="437.81" rx="1.12" ry="1.5" fill="#f01a12"/><ellipse cx="465.53" cy="423.75" rx="8.25" ry="15" fill="#1fd2f2"/><ellipse cx="465.06" cy="442.5" rx="8.44" ry="7.5" fill="#1fd2f2"/><ellipse cx="464.57" cy="422.17" rx="4.46" ry="8.14" fill="#35e24a"/><ellipse cx="467.44" cy="429.66" rx="2.55" ry="3.94" fill="#35e24a"/><ellipse cx="464.08" cy="441.82" rx="4.59" ry="3.49" fill="#35e24a"/><ellipse cx="467.03" cy="445.03" rx="2.62" ry="1.69" fill="#35e24a"/><ellipse cx="465.53" cy="435.47" rx="5.44" ry="3.19" fill="#2a1cf4" opacity="0.95"/><ellipse cx="465.53" cy="416.72" rx="3.47" ry="3.66" fill="#f2e61e"/><ellipse cx="465.53" cy="416.72" rx="2.62" ry="2.81" fill="#f01a12"/><ellipse cx="466.47" cy="427.5" rx="4.03" ry="3.09" fill="#f2e61e"/><ellipse cx="466.47" cy="427.5" rx="3.19" ry="2.25" fill="#f01a12"/><ellipse cx="461.78" cy="440.62" rx="4.41" ry="5.53" fill="#f2e61e"/><ellipse cx="461.78" cy="440.62" rx="3.56" ry="4.69" fill="#f01a12"/><ellipse cx="471.62" cy="441.09" rx="2.16" ry="3.28" fill="#f2e61e"/><ellipse cx="471.62" cy="441.09" rx="1.31" ry="2.44" fill="#f01a12"/><ellipse cx="483.81" cy="422.81" rx="7.03" ry="10.31" fill="#1fd2f2"/><ellipse cx="483.34" cy="443.44" rx="8.44" ry="6.09" fill="#1fd2f2"/><ellipse cx="483.04" cy="421.8" rx="3.61" ry="5.23" fill="#35e24a"/><ellipse cx="485.36" cy="426.61" rx="2.06" ry="2.53" fill="#35e24a"/><ellipse cx="482.36" cy="442.93" rx="4.59" ry="2.62" fill="#35e24a"/><ellipse cx="485.31" cy="445.33" rx="2.62" ry="1.27" fill="#35e24a"/><ellipse cx="483.34" cy="435.47" rx="5.44" ry="3.19" fill="#2a1cf4" opacity="0.95"/><ellipse cx="483.34" cy="416.72" rx="3.47" ry="3.47" fill="#f2e61e"/><ellipse cx="483.34" cy="416.72" rx="2.62" ry="2.62" fill="#f01a12"/><ellipse cx="478.19" cy="440.62" rx="2.91" ry="3.28" fill="#f2e61e"/><ellipse cx="478.19" cy="440.62" rx="2.06" ry="2.44" fill="#f01a12"/><ellipse cx="489.44" cy="439.5" rx="1.97" ry="2.16" fill="#f2e61e"/><ellipse cx="489.44" cy="439.5" rx="1.12" ry="1.31" fill="#f01a12"/><ellipse cx="503.03" cy="423.75" rx="8.25" ry="15" fill="#1fd2f2"/><ellipse cx="501.62" cy="443.44" rx="8.44" ry="6.56" fill="#1fd2f2"/><ellipse cx="502.07" cy="422.17" rx="4.46" ry="8.14" fill="#35e24a"/><ellipse cx="504.94" cy="429.66" rx="2.55" ry="3.94" fill="#35e24a"/><ellipse cx="500.64" cy="442.87" rx="4.59" ry="2.91" fill="#35e24a"/><ellipse cx="503.59" cy="445.55" rx="2.62" ry="1.41" fill="#35e24a"/><ellipse cx="503.03" cy="435.47" rx="5.44" ry="3.19" fill="#2a1cf4" opacity="0.95"/><ellipse cx="503.03" cy="417.19" rx="3.66" ry="3.66" fill="#f2e61e"/><ellipse cx="503.03" cy="417.19" rx="2.81" ry="2.81" fill="#f01a12"/><ellipse cx="505.84" cy="429.37" rx="3.28" ry="2.91" fill="#f2e61e"/><ellipse cx="505.84" cy="429.37" rx="2.44" ry="2.06" fill="#f01a12"/><ellipse cx="499.28" cy="427.03" rx="2.16" ry="3.09" fill="#f2e61e"/><ellipse cx="499.28" cy="427.03" rx="1.31" ry="2.25" fill="#f01a12"/><ellipse cx="504.9" cy="441.09" rx="4.59" ry="3.28" fill="#f2e61e"/><ellipse cx="504.9" cy="441.09" rx="3.75" ry="2.44" fill="#f01a12"/><ellipse cx="494.59" cy="437.62" rx="1.78" ry="2.16" fill="#f2e61e"/><ellipse cx="494.59" cy="437.62" rx="0.94" ry="1.31" fill="#f01a12"/><ellipse cx="520.37" cy="422.81" rx="7.31" ry="12.19" fill="#1fd2f2"/><ellipse cx="518.97" cy="441.56" rx="7.5" ry="7.03" fill="#1fd2f2"/><ellipse cx="519.56" cy="421.57" rx="3.81" ry="6.39" fill="#35e24a"/><ellipse cx="522" cy="427.45" rx="2.17" ry="3.09" fill="#35e24a"/><ellipse cx="518.12" cy="440.94" rx="3.94" ry="3.2" fill="#35e24a"/><ellipse cx="520.65" cy="443.88" rx="2.25" ry="1.55" fill="#35e24a"/><ellipse cx="520.37" cy="435.47" rx="5.44" ry="3.19" fill="#2a1cf4" opacity="0.95"/><ellipse cx="521.31" cy="417.19" rx="3.28" ry="3.66" fill="#f2e61e"/><ellipse cx="521.31" cy="417.19" rx="2.44" ry="2.81" fill="#f01a12"/><ellipse cx="522.72" cy="423.28" rx="2.16" ry="3.28" fill="#f2e61e"/><ellipse cx="522.72" cy="423.28" rx="1.31" ry="2.44" fill="#f01a12"/><ellipse cx="515.69" cy="439.69" rx="4.22" ry="5.16" fill="#f2e61e"/><ellipse cx="515.69" cy="439.69" rx="3.37" ry="4.31" fill="#f01a12"/><ellipse cx="525.06" cy="438.28" rx="1.97" ry="2.53" fill="#f2e61e"/><ellipse cx="525.06" cy="438.28" rx="1.12" ry="1.69" fill="#f01a12"/></g></g></g><g id="panelR"><clipPath id="cR00"><rect x="732.2" y="372" width="111.6" height="42.3"/></clipPath><g clip-path="url(#cR00)"><rect x="732.2" y="372" width="111.6" height="42.3" fill="#222"/><g filter="url(#sb)"><path d="M741.5 410.07V414.3M736.61 409.57L733.02 414.09M746.39 409.57L749.98 414.09" stroke="#a0a0a0" stroke-width="0.9" fill="none"/><use href="#m2" transform="translate(741.5 372) scale(16.3 42.3)" fill="url(#mg2)"/><path d="M761.38 410.07V414.3M756.49 409.57L752.9 414.09M766.27 409.57L769.85 414.09" stroke="#a0a0a0" stroke-width="0.9" fill="none"/><use href="#m2" transform="translate(761.38 372) scale(16.3 42.3)" fill="url(#mg2)"/><path d="M780.13 410.07V414.3M775.24 409.57L771.65 414.09M785.02 409.57L788.6 414.09" stroke="#a0a0a0" stroke-width="0.9" fill="none"/><use href="#m2" transform="translate(780.13 372) scale(16.3 42.3)" fill="url(#mg2)"/><path d="M798.32 410.07V414.3M793.43 409.57L789.84 414.09M803.21 409.57L806.79 414.09" stroke="#a0a0a0" stroke-width="0.9" fill="none"/><use href="#m2" transform="translate(798.32 372) scale(16.3 42.3)" fill="url(#mg2)"/><path d="M817.07 410.07V414.3M812.18 409.57L808.59 414.09M821.96 409.57L825.54 414.09" stroke="#a0a0a0" stroke-width="0.9" fill="none"/><use href="#m2" transform="translate(817.07 372) scale(16.3 42.3)" fill="url(#mg2)"/><path d="M834.88 410.07V414.3M829.99 409.57L826.41 414.09M839.77 409.57L843.36 414.09" stroke="#a0a0a0" stroke-width="0.9" fill="none"/><use href="#m2" transform="translate(834.88 372) scale(16.3 42.3)" fill="url(#mg2)"/><ellipse cx="743" cy="394.25" rx="3" ry="5.63" fill="#5a12e6" opacity="0.35"/><path d="M742.5 396.2h.01M742.5 393.0h.01M741.2 393.5h.01M745.0 395.7h.01M744.9 395.1h.01M743.8 395.0h.01M740.6 396.6h.01M744.0 396.1h.01M741.0 390.3h.01M741.3 392.6h.01M743.6 394.1h.01M744.0 391.9h.01M743.6 395.8h.01" stroke="#5a12e6" stroke-width="1.3" stroke-linecap="round" fill="none"/><ellipse cx="781.44" cy="377.38" rx="1.5" ry="2.63" fill="#5a12e6" opacity="0.35"/><path d="M781.0 379.6h.01M781.9 379.2h.01M780.9 376.1h.01" stroke="#5a12e6" stroke-width="1.3" stroke-linecap="round" fill="none"/><ellipse cx="817.07" cy="377.38" rx="1.31" ry="1.13" fill="#5a12e6" opacity="0.35"/><path d="M816.8 377.3h.01" stroke="#5a12e6" stroke-width="1.3" stroke-linecap="round" fill="none"/><ellipse cx="802.07" cy="396.13" rx="1.5" ry="2.63" fill="#5a12e6" opacity="0.35"/><path d="M802.7 396.6h.01M801.7 394.6h.01" stroke="#5a12e6" stroke-width="1.3" stroke-linecap="round" fill="none"/><ellipse cx="761.75" cy="407.38" rx="4.88" ry="3" fill="#5a12e6" opacity="0.35"/><path d="M760.3 409.5h.01M759.2 407.9h.01M762.9 405.0h.01M761.9 409.6h.01M757.2 406.9h.01" stroke="#5a12e6" stroke-width="1.3" stroke-linecap="round" fill="none"/><ellipse cx="835.82" cy="385.81" rx="3.75" ry="1.88" fill="#5a12e6" opacity="0.35"/><path d="M835.6 384.8h.01M837.1 385.7h.01" stroke="#5a12e6" stroke-width="1.3" stroke-linecap="round" fill="none"/><ellipse cx="741.5" cy="410.19" rx="3.35" ry="3.73" fill="#d9c4ff" opacity="0.85"/><ellipse cx="741.5" cy="410.19" rx="2.25" ry="2.63" fill="#5a12e6"/><ellipse cx="764.56" cy="396.13" rx="2.04" ry="2.04" fill="#d9c4ff" opacity="0.85"/><ellipse cx="764.56" cy="396.13" rx="0.94" ry="0.94" fill="#5a12e6"/><ellipse cx="768.32" cy="404.56" rx="2.23" ry="2.23" fill="#d9c4ff" opacity="0.85"/><ellipse cx="768.32" cy="404.56" rx="1.13" ry="1.13" fill="#5a12e6"/><ellipse cx="782.94" cy="391.44" rx="3.54" ry="3.54" fill="#d9c4ff" opacity="0.85"/><ellipse cx="782.94" cy="391.44" rx="2.44" ry="2.44" fill="#5a12e6"/><ellipse cx="777.13" cy="405.5" rx="3.35" ry="4.1" fill="#d9c4ff" opacity="0.85"/><ellipse cx="777.13" cy="405.5" rx="2.25" ry="3" fill="#5a12e6"/><ellipse cx="784.25" cy="405.5" rx="3.35" ry="3.35" fill="#d9c4ff" opacity="0.85"/><ellipse cx="784.25" cy="405.5" rx="2.25" ry="2.25" fill="#5a12e6"/><ellipse cx="780.5" cy="408.32" rx="3.73" ry="2.98" fill="#d9c4ff" opacity="0.85"/><ellipse cx="780.5" cy="408.32" rx="2.63" ry="1.88" fill="#5a12e6"/><ellipse cx="794" cy="406.44" rx="3.35" ry="2.98" fill="#d9c4ff" opacity="0.85"/><ellipse cx="794" cy="406.44" rx="2.25" ry="1.88" fill="#5a12e6"/><ellipse cx="814.63" cy="396.13" rx="2.98" ry="2.79" fill="#d9c4ff" opacity="0.85"/><ellipse cx="814.63" cy="396.13" rx="1.88" ry="1.69" fill="#5a12e6"/><ellipse cx="834.88" cy="392.38" rx="4.48" ry="4.1" fill="#d9c4ff" opacity="0.85"/><ellipse cx="834.88" cy="392.38" rx="3.38" ry="3" fill="#5a12e6"/><ellipse cx="836.76" cy="407.75" rx="4.1" ry="2.98" fill="#d9c4ff" opacity="0.85"/><ellipse cx="836.76" cy="407.75" rx="3" ry="1.88" fill="#5a12e6"/><ellipse cx="834.88" cy="375.88" rx="2.98" ry="2.98" fill="#d9c4ff" opacity="0.85"/><ellipse cx="834.88" cy="375.88" rx="1.88" ry="1.88" fill="#5a12e6"/><ellipse cx="832.44" cy="411.13" rx="2.6" ry="2.23" fill="#d9c4ff" opacity="0.85"/><ellipse cx="832.44" cy="411.13" rx="1.5" ry="1.13" fill="#5a12e6"/></g></g><clipPath id="cR01"><rect x="846" y="372" width="111.1" height="42.3"/></clipPath><g clip-path="url(#cR01)"><rect x="846" y="372" width="111.1" height="42.3" fill="#222"/><g filter="url(#sb)"><path d="M854.01 410.07V414.3M849.12 409.57L845.53 414.09M858.9 409.57L862.48 414.09" stroke="#a0a0a0" stroke-width="0.9" fill="none"/><use href="#m2" transform="translate(854.01 372) scale(16.3 42.3)" fill="url(#mg2)"/><path d="M872.76 410.07V414.3M867.87 409.57L864.28 414.09M877.65 409.57L881.24 414.09" stroke="#a0a0a0" stroke-width="0.9" fill="none"/><use href="#m2" transform="translate(872.76 372) scale(16.3 42.3)" fill="url(#mg2)"/><path d="M890.76 410.07V414.3M885.87 409.57L882.28 414.09M895.65 409.57L899.24 414.09" stroke="#a0a0a0" stroke-width="0.9" fill="none"/><use href="#m2" transform="translate(890.76 372) scale(16.3 42.3)" fill="url(#mg2)"/><path d="M908.39 410.07V414.3M903.5 409.57L899.91 414.09M913.28 409.57L916.86 414.09" stroke="#a0a0a0" stroke-width="0.9" fill="none"/><use href="#m2" transform="translate(908.39 372) scale(16.3 42.3)" fill="url(#mg2)"/><path d="M926.39 410.07V414.3M921.5 409.57L917.91 414.09M931.28 409.57L934.86 414.09" stroke="#a0a0a0" stroke-width="0.9" fill="none"/><use href="#m2" transform="translate(926.39 372) scale(16.3 42.3)" fill="url(#mg2)"/><path d="M945.51 410.07V414.3M940.62 409.57L937.04 414.09M950.4 409.57L953.99 414.09" stroke="#a0a0a0" stroke-width="0.9" fill="none"/><use href="#m2" transform="translate(945.51 372) scale(16.3 42.3)" fill="url(#mg2)"/><ellipse cx="908.39" cy="384.88" rx="4.88" ry="7.5" fill="#5a12e6" opacity="0.35"/><path d="M904.7 388.1h.01M910.4 389.2h.01M912.3 386.4h.01M908.7 379.2h.01M910.3 381.9h.01M907.1 379.4h.01M905.5 382.4h.01M910.9 378.7h.01M904.5 385.9h.01M912.2 387.2h.01M905.5 378.9h.01M909.5 381.3h.01M905.4 388.9h.01M911.7 385.6h.01M909.2 387.1h.01M912.4 387.3h.01M910.1 387.6h.01M904.9 389.3h.01M911.2 387.3h.01M904.0 382.7h.01M910.3 378.6h.01M907.8 389.6h.01M905.5 390.3h.01M910.2 384.1h.01M909.4 388.1h.01M908.7 390.1h.01M906.3 382.8h.01M911.5 385.0h.01M905.9 389.0h.01M912.3 383.1h.01M904.6 384.3h.01M907.9 383.3h.01M911.9 381.0h.01M911.5 380.1h.01M906.0 387.8h.01M911.5 388.5h.01M909.6 385.6h.01M908.9 387.8h.01M907.8 386.3h.01M910.3 384.9h.01M910.7 387.6h.01M912.9 386.0h.01" stroke="#5a12e6" stroke-width="1.3" stroke-linecap="round" fill="none"/><ellipse cx="907.64" cy="405.5" rx="7.5" ry="4.88" fill="#5a12e6" opacity="0.35"/><path d="M905.5 404.3h.01M907.6 408.4h.01M905.9 406.8h.01M912.0 401.6h.01M902.5 406.2h.01M909.7 406.3h.01M905.5 407.6h.01M909.1 403.8h.01M914.9 406.2h.01M904.8 405.2h.01M906.4 405.3h.01M900.3 404.7h.01M911.7 402.4h.01M907.3 408.4h.01M910.9 409.2h.01M901.2 404.6h.01M905.9 407.5h.01M910.4 401.0h.01M911.7 402.0h.01M910.3 401.7h.01M908.4 409.0h.01M906.9 406.2h.01M911.5 406.0h.01M907.3 409.6h.01M912.5 404.6h.01M914.5 403.6h.01M912.0 404.7h.01M908.3 407.8h.01M908.8 407.6h.01M902.6 402.3h.01M910.4 402.7h.01M903.8 401.9h.01M912.9 407.5h.01M913.2 403.2h.01M907.6 402.1h.01M910.5 409.4h.01M904.3 409.3h.01M912.3 405.0h.01M901.7 408.3h.01M907.1 403.5h.01M909.7 406.9h.01M913.2 403.0h.01M911.8 409.0h.01M913.7 405.0h.01M904.4 408.4h.01M908.2 405.9h.01M913.6 404.8h.01" stroke="#5a12e6" stroke-width="1.3" stroke-linecap="round" fill="none"/><ellipse cx="926.39" cy="394.25" rx="6.38" ry="16.88" fill="#5a12e6" opacity="0.35"/><path d="M920.3 391.5h.01M920.9 400.6h.01M927.7 387.4h.01M926.3 403.4h.01M926.7 407.2h.01M926.1 405.2h.01M930.5 406.1h.01M923.8 403.3h.01M921.1 386.2h.01M921.0 402.0h.01M921.7 394.1h.01M925.5 393.9h.01M923.9 396.9h.01M932.1 394.6h.01M928.4 404.5h.01M925.6 381.8h.01M924.3 405.0h.01M921.1 389.2h.01M930.1 402.1h.01M926.4 403.1h.01M927.0 382.3h.01M921.2 388.7h.01M930.0 388.4h.01M922.9 386.5h.01M921.1 393.2h.01M921.9 397.9h.01M920.3 396.5h.01M924.5 379.2h.01M929.4 391.2h.01M920.6 388.3h.01M927.7 389.0h.01M929.4 402.0h.01M929.2 397.9h.01M931.1 400.4h.01M927.7 378.6h.01M929.4 406.0h.01M925.1 388.9h.01M931.0 383.1h.01M927.6 410.4h.01M922.8 401.3h.01M932.2 393.3h.01M928.6 403.7h.01M922.7 393.3h.01M927.6 403.2h.01M926.2 391.9h.01M922.4 390.5h.01M930.0 395.4h.01M923.1 385.8h.01M932.2 400.8h.01M927.9 378.1h.01M929.0 399.6h.01M931.8 397.9h.01M926.1 400.3h.01M921.0 401.8h.01M927.7 386.5h.01M930.0 407.3h.01M921.6 388.2h.01M927.7 396.4h.01M924.8 384.1h.01M931.9 401.4h.01M922.6 383.0h.01M931.5 402.1h.01M931.8 400.6h.01M922.8 397.1h.01M920.6 388.9h.01M926.1 400.3h.01M923.3 392.9h.01M928.4 398.6h.01M929.1 396.6h.01M925.1 402.9h.01M926.6 385.2h.01M923.7 394.2h.01M925.9 396.1h.01M926.4 396.3h.01M925.9 381.8h.01M928.0 405.0h.01M928.3 392.1h.01M928.1 384.2h.01M920.6 394.7h.01M922.8 401.7h.01M924.0 378.8h.01M923.2 407.1h.01M925.0 381.3h.01M923.3 399.9h.01M928.6 396.3h.01M931.3 400.5h.01M926.3 401.1h.01M931.4 402.1h.01M930.0 384.2h.01M925.8 402.4h.01M925.2 405.3h.01M928.7 403.7h.01M925.9 410.7h.01M931.0 392.1h.01M926.6 410.8h.01M925.0 403.6h.01M930.3 394.3h.01M921.9 396.2h.01M927.8 405.7h.01M929.7 394.5h.01M929.8 400.0h.01M927.3 394.9h.01M925.4 401.9h.01M922.4 388.0h.01M926.4 380.6h.01M925.1 378.8h.01M923.6 400.4h.01M928.8 393.6h.01M925.6 380.9h.01M932.0 398.4h.01M930.3 385.9h.01M925.8 379.1h.01M929.3 403.6h.01M920.6 393.8h.01M928.3 379.8h.01M921.2 386.2h.01M924.2 381.4h.01M926.5 397.2h.01M929.0 401.8h.01M931.0 403.7h.01M921.7 389.4h.01M922.7 384.3h.01M926.0 394.3h.01M928.0 380.3h.01M921.7 394.0h.01" stroke="#5a12e6" stroke-width="1.3" stroke-linecap="round" fill="none"/><ellipse cx="945.51" cy="392.38" rx="6.38" ry="11.25" fill="#5a12e6" opacity="0.35"/><path d="M944.6 389.9h.01M945.2 386.7h.01M948.4 395.0h.01M945.1 387.3h.01M945.1 381.3h.01M941.6 392.6h.01M940.3 393.6h.01M946.0 383.6h.01M944.4 389.9h.01M947.4 396.9h.01M945.4 386.2h.01M944.9 391.9h.01M948.6 394.5h.01M943.0 384.1h.01M944.0 387.0h.01M941.2 391.6h.01M943.4 393.2h.01M947.7 389.3h.01M951.6 390.9h.01M949.8 393.2h.01M948.2 382.4h.01M942.4 394.2h.01M947.1 403.0h.01M946.7 400.7h.01M948.4 398.7h.01M947.7 391.2h.01M947.5 385.1h.01M949.6 386.2h.01M946.2 403.0h.01M944.5 392.5h.01M950.0 392.6h.01M942.2 394.3h.01M947.9 397.5h.01M943.2 401.8h.01M951.0 392.5h.01M946.7 389.1h.01M950.3 388.1h.01M948.3 388.9h.01M942.7 397.4h.01M950.4 392.3h.01M942.8 398.0h.01M945.3 394.8h.01M950.2 398.5h.01M944.1 403.0h.01M945.5 398.2h.01M942.7 392.0h.01M941.2 400.2h.01M949.8 385.6h.01M941.4 384.5h.01M949.9 389.3h.01M945.2 389.9h.01M945.0 384.9h.01M945.6 383.3h.01M945.2 394.8h.01M947.6 390.6h.01M941.8 393.5h.01M943.9 401.6h.01M948.7 391.5h.01M943.6 387.3h.01M941.8 389.9h.01M946.8 396.3h.01M947.1 402.7h.01M942.5 392.5h.01M950.8 386.1h.01M943.2 393.7h.01M946.2 395.5h.01M944.5 395.2h.01M945.7 398.1h.01M940.1 387.9h.01M945.5 385.1h.01M941.6 396.6h.01M942.9 396.9h.01M948.6 394.6h.01M947.7 391.6h.01" stroke="#5a12e6" stroke-width="1.3" stroke-linecap="round" fill="none"/><ellipse cx="947.39" cy="405.5" rx="7.5" ry="5.25" fill="#5a12e6" opacity="0.35"/><path d="M941.4 405.4h.01M949.7 403.7h.01M946.9 408.1h.01M943.3 407.6h.01M954.0 404.1h.01M948.2 404.9h.01M953.6 406.4h.01M951.5 403.3h.01M947.3 405.5h.01M941.8 408.7h.01M950.6 401.2h.01M951.1 405.0h.01M949.7 406.8h.01M941.3 404.9h.01M953.3 403.9h.01M943.4 401.8h.01M942.0 406.5h.01M953.8 406.6h.01M948.2 410.5h.01M944.9 403.2h.01M950.0 407.4h.01M943.3 402.2h.01M948.9 406.4h.01M941.7 404.9h.01M944.7 407.1h.01M946.8 405.2h.01M945.8 408.9h.01M953.2 404.4h.01M951.2 403.1h.01M947.7 408.1h.01M953.5 404.4h.01M947.0 406.2h.01M941.2 405.5h.01M944.1 406.8h.01M943.8 401.1h.01M947.6 406.5h.01M944.8 408.4h.01M946.0 403.4h.01M949.3 401.2h.01M944.0 405.4h.01" stroke="#5a12e6" stroke-width="1.3" stroke-linecap="round" fill="none"/><ellipse cx="890.76" cy="390.5" rx="4.88" ry="5.63" fill="#5a12e6" opacity="0.35"/><path d="M893.4 389.9h.01M891.8 388.1h.01M891.5 395.3h.01M889.4 395.8h.01M888.7 390.6h.01M891.3 394.1h.01M888.4 385.8h.01M892.6 393.3h.01M891.9 395.9h.01M891.5 391.5h.01" stroke="#5a12e6" stroke-width="1.3" stroke-linecap="round" fill="none"/><ellipse cx="853.26" cy="387.69" rx="2.6" ry="3.73" fill="#d9c4ff" opacity="0.85"/><ellipse cx="853.26" cy="387.69" rx="1.5" ry="2.63" fill="#5a12e6"/><ellipse cx="856.45" cy="405.5" rx="4.1" ry="3.54" fill="#d9c4ff" opacity="0.85"/><ellipse cx="856.45" cy="405.5" rx="3" ry="2.44" fill="#5a12e6"/><ellipse cx="872.76" cy="377.38" rx="2.98" ry="4.1" fill="#d9c4ff" opacity="0.85"/><ellipse cx="872.76" cy="377.38" rx="1.88" ry="3" fill="#5a12e6"/><ellipse cx="871.45" cy="388.63" rx="2.6" ry="2.98" fill="#d9c4ff" opacity="0.85"/><ellipse cx="871.45" cy="388.63" rx="1.5" ry="1.88" fill="#5a12e6"/><ellipse cx="876.13" cy="397.06" rx="4.1" ry="4.48" fill="#d9c4ff" opacity="0.85"/><ellipse cx="876.13" cy="397.06" rx="3" ry="3.38" fill="#5a12e6"/><ellipse cx="869.01" cy="405.5" rx="4.85" ry="4.1" fill="#d9c4ff" opacity="0.85"/><ellipse cx="869.01" cy="405.5" rx="3.75" ry="3" fill="#5a12e6"/><ellipse cx="876.13" cy="406.44" rx="5.23" ry="4.48" fill="#d9c4ff" opacity="0.85"/><ellipse cx="876.13" cy="406.44" rx="4.13" ry="3.38" fill="#5a12e6"/><ellipse cx="872.38" cy="409.63" rx="5.23" ry="3.35" fill="#d9c4ff" opacity="0.85"/><ellipse cx="872.38" cy="409.63" rx="4.13" ry="2.25" fill="#5a12e6"/><ellipse cx="890.76" cy="379.25" rx="4.1" ry="5.98" fill="#d9c4ff" opacity="0.85"/><ellipse cx="890.76" cy="379.25" rx="3" ry="4.88" fill="#5a12e6"/><ellipse cx="892.07" cy="387.69" rx="3.35" ry="3.73" fill="#d9c4ff" opacity="0.85"/><ellipse cx="892.07" cy="387.69" rx="2.25" ry="2.63" fill="#5a12e6"/><ellipse cx="889.64" cy="397.63" rx="4.85" ry="4.1" fill="#d9c4ff" opacity="0.85"/><ellipse cx="889.64" cy="397.63" rx="3.75" ry="3" fill="#5a12e6"/><ellipse cx="887.01" cy="405.5" rx="4.48" ry="4.48" fill="#d9c4ff" opacity="0.85"/><ellipse cx="887.01" cy="405.5" rx="3.38" ry="3.38" fill="#5a12e6"/><ellipse cx="893.95" cy="405.5" rx="4.48" ry="4.48" fill="#d9c4ff" opacity="0.85"/><ellipse cx="893.95" cy="405.5" rx="3.38" ry="3.38" fill="#5a12e6"/><ellipse cx="890.2" cy="409.63" rx="5.23" ry="3.73" fill="#d9c4ff" opacity="0.85"/><ellipse cx="890.2" cy="409.63" rx="4.13" ry="2.63" fill="#5a12e6"/><ellipse cx="909.51" cy="397.06" rx="4.48" ry="3.73" fill="#d9c4ff" opacity="0.85"/><ellipse cx="909.51" cy="397.06" rx="3.38" ry="2.63" fill="#5a12e6"/><ellipse cx="904.26" cy="406.44" rx="3.73" ry="3.35" fill="#d9c4ff" opacity="0.85"/><ellipse cx="904.26" cy="406.44" rx="2.63" ry="2.25" fill="#5a12e6"/><ellipse cx="911.39" cy="407.38" rx="4.48" ry="3.35" fill="#d9c4ff" opacity="0.85"/><ellipse cx="911.39" cy="407.38" rx="3.38" ry="2.25" fill="#5a12e6"/><ellipse cx="927.14" cy="376.44" rx="3.73" ry="4.1" fill="#d9c4ff" opacity="0.85"/><ellipse cx="927.14" cy="376.44" rx="2.63" ry="3" fill="#5a12e6"/><ellipse cx="930.51" cy="398.94" rx="3.35" ry="2.98" fill="#d9c4ff" opacity="0.85"/><ellipse cx="930.51" cy="398.94" rx="2.25" ry="1.88" fill="#5a12e6"/><ellipse cx="945.51" cy="377.38" rx="3.73" ry="3.73" fill="#d9c4ff" opacity="0.85"/><ellipse cx="945.51" cy="377.38" rx="2.63" ry="2.63" fill="#5a12e6"/><ellipse cx="950.2" cy="386.75" rx="3.73" ry="6.35" fill="#d9c4ff" opacity="0.85"/><ellipse cx="950.2" cy="386.75" rx="2.63" ry="5.25" fill="#5a12e6"/><ellipse cx="943.64" cy="407.75" rx="4.85" ry="4.48" fill="#d9c4ff" opacity="0.85"/><ellipse cx="943.64" cy="407.75" rx="3.75" ry="3.38" fill="#5a12e6"/><ellipse cx="952.08" cy="406.44" rx="4.85" ry="5.23" fill="#d9c4ff" opacity="0.85"/><ellipse cx="952.08" cy="406.44" rx="3.75" ry="4.13" fill="#5a12e6"/><ellipse cx="947.76" cy="410.19" rx="5.23" ry="3.35" fill="#d9c4ff" opacity="0.85"/><ellipse cx="947.76" cy="410.19" rx="4.13" ry="2.25" fill="#5a12e6"/></g></g><clipPath id="cR10"><rect x="732.2" y="416.5" width="111.6" height="42.3"/></clipPath><g clip-path="url(#cR10)"><rect x="732.2" y="416.5" width="111.6" height="42.3" fill="#222"/><g filter="url(#sb)"><path d="M741.5 454.57V458.8M736.61 454.07L733.02 458.59M746.39 454.07L749.98 458.59" stroke="#a0a0a0" stroke-width="0.9" fill="none"/><use href="#m2" transform="translate(741.5 416.5) scale(16.3 42.3)" fill="url(#mg2)"/><path d="M758.94 454.57V458.8M754.05 454.07L750.46 458.59M763.83 454.07L767.42 458.59" stroke="#a0a0a0" stroke-width="0.9" fill="none"/><use href="#m2" transform="translate(758.94 416.5) scale(16.3 42.3)" fill="url(#mg2)"/><path d="M776.38 454.57V458.8M771.49 454.07L767.9 458.59M781.27 454.07L784.85 458.59" stroke="#a0a0a0" stroke-width="0.9" fill="none"/><use href="#m2" transform="translate(776.38 416.5) scale(16.3 42.3)" fill="url(#mg2)"/><path d="M793.63 454.57V458.8M788.74 454.07L785.15 458.59M798.52 454.07L802.11 458.59" stroke="#a0a0a0" stroke-width="0.9" fill="none"/><use href="#m2" transform="translate(793.63 416.5) scale(16.3 42.3)" fill="url(#mg2)"/><path d="M812.38 454.57V458.8M807.49 454.07L803.9 458.59M817.27 454.07L820.86 458.59" stroke="#a0a0a0" stroke-width="0.9" fill="none"/><use href="#m2" transform="translate(812.38 416.5) scale(16.3 42.3)" fill="url(#mg2)"/><path d="M833.01 454.57V458.8M828.12 454.07L824.53 458.59M837.9 454.07L841.48 458.59" stroke="#a0a0a0" stroke-width="0.9" fill="none"/><use href="#m2" transform="translate(833.01 416.5) scale(16.3 42.3)" fill="url(#mg2)"/><ellipse cx="813.32" cy="454.63" rx="2.25" ry="1.13" fill="#5a12e6" opacity="0.35"/><path d="M814.6 454.9h.01" stroke="#5a12e6" stroke-width="1.3" stroke-linecap="round" fill="none"/><ellipse cx="795.5" cy="440.19" rx="1.13" ry="1.88" fill="#5a12e6" opacity="0.35"/><path d="M796.4 439.1h.01" stroke="#5a12e6" stroke-width="1.3" stroke-linecap="round" fill="none"/><ellipse cx="775.82" cy="448.63" rx="5.63" ry="3.75" fill="#5a12e6" opacity="0.35"/><path d="M775.2 444.9h.01M778.7 447.7h.01M778.0 452.0h.01M775.8 448.0h.01M774.0 446.6h.01M773.5 450.2h.01M776.0 448.8h.01M775.2 450.8h.01M777.7 448.3h.01M778.3 448.2h.01" stroke="#5a12e6" stroke-width="1.3" stroke-linecap="round" fill="none"/><ellipse cx="741.13" cy="451.44" rx="5.23" ry="3.73" fill="#d9c4ff" opacity="0.85"/><ellipse cx="741.13" cy="451.44" rx="4.13" ry="2.63" fill="#5a12e6"/><ellipse cx="759.88" cy="422" rx="2.79" ry="2.98" fill="#d9c4ff" opacity="0.85"/><ellipse cx="759.88" cy="422" rx="1.69" ry="1.88" fill="#5a12e6"/><ellipse cx="758.94" cy="450.51" rx="5.23" ry="4.1" fill="#d9c4ff" opacity="0.85"/><ellipse cx="758.94" cy="450.51" rx="4.13" ry="3" fill="#5a12e6"/><ellipse cx="777.13" cy="422.38" rx="2.98" ry="3.35" fill="#d9c4ff" opacity="0.85"/><ellipse cx="777.13" cy="422.38" rx="1.88" ry="2.25" fill="#5a12e6"/><ellipse cx="775.82" cy="451.44" rx="5.98" ry="4.48" fill="#d9c4ff" opacity="0.85"/><ellipse cx="775.82" cy="451.44" rx="4.88" ry="3.38" fill="#5a12e6"/><ellipse cx="790.82" cy="449.57" rx="3.73" ry="3.73" fill="#d9c4ff" opacity="0.85"/><ellipse cx="790.82" cy="449.57" rx="2.63" ry="2.63" fill="#5a12e6"/><ellipse cx="834.32" cy="420.5" rx="2.79" ry="2.98" fill="#d9c4ff" opacity="0.85"/><ellipse cx="834.32" cy="420.5" rx="1.69" ry="1.88" fill="#5a12e6"/></g></g><clipPath id="cR11"><rect x="846" y="416.5" width="111.1" height="42.3"/></clipPath><g clip-path="url(#cR11)"><rect x="846" y="416.5" width="111.1" height="42.3" fill="#222"/><g filter="url(#sb)"><path d="M854.01 454.57V458.8M849.12 454.07L845.53 458.59M858.9 454.07L862.48 458.59" stroke="#a0a0a0" stroke-width="0.9" fill="none"/><use href="#m2" transform="translate(854.01 416.5) scale(16.3 42.3)" fill="url(#mg2)"/><path d="M872.38 454.57V458.8M867.49 454.07L863.91 458.59M877.27 454.07L880.86 458.59" stroke="#a0a0a0" stroke-width="0.9" fill="none"/><use href="#m2" transform="translate(872.38 416.5) scale(16.3 42.3)" fill="url(#mg2)"/><path d="M889.64 454.57V458.8M884.75 454.07L881.16 458.59M894.53 454.07L898.11 458.59" stroke="#a0a0a0" stroke-width="0.9" fill="none"/><use href="#m2" transform="translate(889.64 416.5) scale(16.3 42.3)" fill="url(#mg2)"/><path d="M908.39 454.57V458.8M903.5 454.07L899.91 458.59M913.28 454.07L916.86 458.59" stroke="#a0a0a0" stroke-width="0.9" fill="none"/><use href="#m2" transform="translate(908.39 416.5) scale(16.3 42.3)" fill="url(#mg2)"/><path d="M927.7 454.57V458.8M922.81 454.07L919.22 458.59M932.59 454.07L936.18 458.59" stroke="#a0a0a0" stroke-width="0.9" fill="none"/><use href="#m2" transform="translate(927.7 416.5) scale(16.3 42.3)" fill="url(#mg2)"/><path d="M946.45 454.57V458.8M941.56 454.07L937.98 458.59M951.34 454.07L954.93 458.59" stroke="#a0a0a0" stroke-width="0.9" fill="none"/><use href="#m2" transform="translate(946.45 416.5) scale(16.3 42.3)" fill="url(#mg2)"/><ellipse cx="854.01" cy="422.38" rx="3.73" ry="4.85" fill="#d9c4ff" opacity="0.85"/><ellipse cx="854.01" cy="422.38" rx="2.63" ry="3.75" fill="#5a12e6"/><ellipse cx="858.7" cy="440.19" rx="4.1" ry="4.48" fill="#d9c4ff" opacity="0.85"/><ellipse cx="858.7" cy="440.19" rx="3" ry="3.38" fill="#5a12e6"/><ellipse cx="852.7" cy="451.44" rx="7.1" ry="5.98" fill="#d9c4ff" opacity="0.85"/><ellipse cx="852.7" cy="451.44" rx="6" ry="4.88" fill="#5a12e6"/><ellipse cx="872.38" cy="420.5" rx="2.6" ry="3.35" fill="#d9c4ff" opacity="0.85"/><ellipse cx="872.38" cy="420.5" rx="1.5" ry="2.25" fill="#5a12e6"/><ellipse cx="875.57" cy="440.19" rx="2.6" ry="2.6" fill="#d9c4ff" opacity="0.85"/><ellipse cx="875.57" cy="440.19" rx="1.5" ry="1.5" fill="#5a12e6"/><ellipse cx="872.38" cy="450.51" rx="5.6" ry="4.1" fill="#d9c4ff" opacity="0.85"/><ellipse cx="872.38" cy="450.51" rx="4.5" ry="3" fill="#5a12e6"/><ellipse cx="890.2" cy="421.44" rx="3.35" ry="4.1" fill="#d9c4ff" opacity="0.85"/><ellipse cx="890.2" cy="421.44" rx="2.25" ry="3" fill="#5a12e6"/><ellipse cx="893.01" cy="441.13" rx="3.35" ry="4.1" fill="#d9c4ff" opacity="0.85"/><ellipse cx="893.01" cy="441.13" rx="2.25" ry="3" fill="#5a12e6"/><ellipse cx="891.14" cy="450.13" rx="4.85" ry="4.1" fill="#d9c4ff" opacity="0.85"/><ellipse cx="891.14" cy="450.13" rx="3.75" ry="3" fill="#5a12e6"/><ellipse cx="908.95" cy="421.44" rx="2.6" ry="3.35" fill="#d9c4ff" opacity="0.85"/><ellipse cx="908.95" cy="421.44" rx="1.5" ry="2.25" fill="#5a12e6"/><ellipse cx="911.39" cy="441.69" rx="4.1" ry="4.1" fill="#d9c4ff" opacity="0.85"/><ellipse cx="911.39" cy="441.69" rx="3" ry="3" fill="#5a12e6"/><ellipse cx="905.2" cy="450.51" rx="5.6" ry="4.85" fill="#d9c4ff" opacity="0.85"/><ellipse cx="905.2" cy="450.51" rx="4.5" ry="3.75" fill="#5a12e6"/><ellipse cx="928.26" cy="420.5" rx="2.23" ry="3.73" fill="#d9c4ff" opacity="0.85"/><ellipse cx="928.26" cy="420.5" rx="1.13" ry="2.63" fill="#5a12e6"/><ellipse cx="932.01" cy="442.63" rx="2.6" ry="2.6" fill="#d9c4ff" opacity="0.85"/><ellipse cx="932.01" cy="442.63" rx="1.5" ry="1.5" fill="#5a12e6"/><ellipse cx="924.51" cy="451.82" rx="2.6" ry="2.98" fill="#d9c4ff" opacity="0.85"/><ellipse cx="924.51" cy="451.82" rx="1.5" ry="1.88" fill="#5a12e6"/><ellipse cx="947.39" cy="419.57" rx="3.35" ry="2.98" fill="#d9c4ff" opacity="0.85"/><ellipse cx="947.39" cy="419.57" rx="2.25" ry="1.88" fill="#5a12e6"/><ellipse cx="950.58" cy="428" rx="2.6" ry="3.73" fill="#d9c4ff" opacity="0.85"/><ellipse cx="950.58" cy="428" rx="1.5" ry="2.63" fill="#5a12e6"/><ellipse cx="946.45" cy="450.51" rx="6.73" ry="6.35" fill="#d9c4ff" opacity="0.85"/><ellipse cx="946.45" cy="450.51" rx="5.63" ry="5.25" fill="#5a12e6"/><ellipse cx="952.08" cy="445.82" rx="4.1" ry="6.73" fill="#d9c4ff" opacity="0.85"/><ellipse cx="952.08" cy="445.82" rx="3" ry="5.63" fill="#5a12e6"/></g></g><clipPath id="cR02"><rect x="959" y="372" width="111.1" height="42.3"/></clipPath><g clip-path="url(#cR02)"><rect x="959" y="372" width="111.1" height="42.3" fill="#222"/><g filter="url(#sb)"><path d="M968.75 410.07V414.3M963.86 409.57L960.28 414.09M973.64 409.57L977.23 414.09" stroke="#a0a0a0" stroke-width="0.9" fill="none"/><use href="#m2" transform="translate(968.75 372) scale(16.3 42.3)" fill="url(#mg2)"/><path d="M986.56 410.07V414.3M981.67 409.57L978.09 414.09M991.45 409.57L995.04 414.09" stroke="#a0a0a0" stroke-width="0.9" fill="none"/><use href="#m2" transform="translate(986.56 372) scale(16.3 42.3)" fill="url(#mg2)"/><path d="M1023.13 410.07V414.3M1018.24 409.57L1014.65 414.09M1028.02 409.57L1031.61 414.09" stroke="#a0a0a0" stroke-width="0.9" fill="none"/><use href="#m2" transform="translate(1023.13 372) scale(16.3 42.3)" fill="url(#mg2)"/><ellipse cx="965.94" cy="382.06" rx="1.5" ry="0.94" fill="#5a12e6" opacity="0.35"/><path d="M965.1 382.7h.01" stroke="#5a12e6" stroke-width="1.3" stroke-linecap="round" fill="none"/><ellipse cx="965.94" cy="396.13" rx="4.1" ry="3.35" fill="#d9c4ff" opacity="0.85"/><ellipse cx="965.94" cy="396.13" rx="3" ry="2.25" fill="#5a12e6"/><ellipse cx="972.88" cy="398" rx="2.98" ry="3.35" fill="#d9c4ff" opacity="0.85"/><ellipse cx="972.88" cy="398" rx="1.88" ry="2.25" fill="#5a12e6"/><ellipse cx="965.94" cy="402.69" rx="4.1" ry="3.35" fill="#d9c4ff" opacity="0.85"/><ellipse cx="965.94" cy="402.69" rx="3" ry="2.25" fill="#5a12e6"/><ellipse cx="987.5" cy="379.25" rx="4.1" ry="4.48" fill="#d9c4ff" opacity="0.85"/><ellipse cx="987.5" cy="379.25" rx="3" ry="3.38" fill="#5a12e6"/><ellipse cx="990.32" cy="395.19" rx="4.85" ry="5.6" fill="#d9c4ff" opacity="0.85"/><ellipse cx="990.32" cy="395.19" rx="3.75" ry="4.5" fill="#5a12e6"/><ellipse cx="983.75" cy="403.63" rx="5.23" ry="4.85" fill="#d9c4ff" opacity="0.85"/><ellipse cx="983.75" cy="403.63" rx="4.13" ry="3.75" fill="#5a12e6"/><ellipse cx="988.44" cy="405.5" rx="5.98" ry="4.1" fill="#d9c4ff" opacity="0.85"/><ellipse cx="988.44" cy="405.5" rx="4.88" ry="3" fill="#5a12e6"/><ellipse cx="1022.19" cy="379.25" rx="3.73" ry="3.73" fill="#d9c4ff" opacity="0.85"/><ellipse cx="1022.19" cy="379.25" rx="2.63" ry="2.63" fill="#5a12e6"/><ellipse cx="1019.38" cy="404" rx="3.35" ry="3.73" fill="#d9c4ff" opacity="0.85"/><ellipse cx="1019.38" cy="404" rx="2.25" ry="2.63" fill="#5a12e6"/><ellipse cx="1026.5" cy="396.5" rx="2.23" ry="2.23" fill="#d9c4ff" opacity="0.85"/><ellipse cx="1026.5" cy="396.5" rx="1.13" ry="1.13" fill="#5a12e6"/><use href="#m" transform="translate(1003.44 371.5) scale(17.3 43.3)" fill="#6a14f0"/><use href="#m" transform="translate(1040.94 371.5) scale(17.3 43.3)" fill="#6a14f0"/><use href="#m" transform="translate(1058.76 371.5) scale(17.3 43.3)" fill="#6a14f0"/><ellipse cx="1038.13" cy="389" rx="3.75" ry="2.25" fill="#eadcff" opacity="0.9"/><ellipse cx="1044.69" cy="402.69" rx="2.25" ry="4.13" fill="#d8c0ff" opacity="0.7"/><ellipse cx="1058.38" cy="390.88" rx="5.63" ry="1.88" fill="#eadcff" opacity="0.9"/><ellipse cx="1065.51" cy="399.88" rx="1.31" ry="4.88" fill="#e0ccff" opacity="0.8"/></g></g><clipPath id="cR03"><rect x="1072.3" y="372" width="110.8" height="42.3"/></clipPath><g clip-path="url(#cR03)"><rect x="1072.3" y="372" width="110.8" height="42.3" fill="#222"/><g filter="url(#sb)"><rect x="1091.01" y="372" width="93.76" height="42.3" fill="#7412e6"/><g filter="url(#sb2)"><path d="M1088.57 372L1098.32 372L1093.45 393.15Z" fill="#2c0c58" opacity="0.55"/><path d="M1107.32 372L1117.07 372L1112.2 393.15Z" fill="#2c0c58" opacity="0.55"/><path d="M1125.14 372L1134.89 372L1130.01 393.15Z" fill="#2c0c58" opacity="0.55"/><path d="M1142.95 372L1152.7 372L1147.82 393.15Z" fill="#2c0c58" opacity="0.55"/><path d="M1160.76 372L1170.51 372L1165.64 393.15Z" fill="#2c0c58" opacity="0.55"/><ellipse cx="1102.82" cy="395.19" rx="7.5" ry="18.75" fill="#5410f4" opacity="0.85"/><ellipse cx="1121.57" cy="395.19" rx="7.5" ry="18.75" fill="#5410f4" opacity="0.85"/><ellipse cx="1139.39" cy="395.19" rx="7.5" ry="18.75" fill="#5410f4" opacity="0.85"/><ellipse cx="1156.26" cy="395.19" rx="7.5" ry="18.75" fill="#5410f4" opacity="0.85"/><ellipse cx="1174.08" cy="395.19" rx="7.5" ry="18.75" fill="#5410f4" opacity="0.85"/><ellipse cx="1119.89" cy="388.06" rx="6.38" ry="2.25" fill="#b070f4" opacity="0.38"/><ellipse cx="1137.7" cy="390.13" rx="8.25" ry="2.63" fill="#b070f4" opacity="0.38"/><ellipse cx="1137.51" cy="408.69" rx="10.88" ry="3" fill="#b070f4" opacity="0.38"/><ellipse cx="1153.08" cy="388.06" rx="5.63" ry="2.06" fill="#b070f4" opacity="0.38"/><ellipse cx="1174.45" cy="388.63" rx="5.25" ry="1.88" fill="#b070f4" opacity="0.38"/><ellipse cx="1172.2" cy="407.75" rx="5.25" ry="2.63" fill="#b070f4" opacity="0.38"/></g><use href="#m2" transform="translate(1081.26 372) scale(17.3 42.3)" fill="#6612f0"/><ellipse cx="1081.26" cy="384.5" rx="5.63" ry="6.75" fill="#dccdf2" opacity="0.92"/><ellipse cx="1081.26" cy="383" rx="3" ry="2.63" fill="#6414e8"/><ellipse cx="1102.82" cy="381.5" rx="3.68" ry="3.68" fill="#2a1cff" opacity="0.9"/><ellipse cx="1102.82" cy="381.5" rx="1.69" ry="1.69" fill="#2a62ff"/><ellipse cx="1102.82" cy="381.5" rx="0.94" ry="0.94" fill="#5cd8ff"/><ellipse cx="1106.57" cy="398" rx="4.05" ry="4.05" fill="#2a1cff" opacity="0.9"/><ellipse cx="1106.57" cy="398" rx="2.03" ry="2.03" fill="#2a62ff"/><ellipse cx="1106.57" cy="398" rx="1.13" ry="1.13" fill="#5cd8ff"/><ellipse cx="1122.14" cy="378.31" rx="3.08" ry="3.08" fill="#2a1cf4"/><ellipse cx="1122.14" cy="378.31" rx="1.88" ry="1.88" fill="#1fd2f2"/><ellipse cx="1122.14" cy="378.31" rx="1.28" ry="1.28" fill="#35e24a"/><ellipse cx="1121.57" cy="397.06" rx="3.08" ry="3.08" fill="#2a1cf4"/><ellipse cx="1121.57" cy="397.06" rx="1.88" ry="1.88" fill="#1fd2f2"/><ellipse cx="1139.39" cy="380.19" rx="3.83" ry="3.83" fill="#2a1cf4"/><ellipse cx="1139.39" cy="380.19" rx="2.63" ry="2.63" fill="#1fd2f2"/><ellipse cx="1139.39" cy="380.19" rx="1.79" ry="1.79" fill="#35e24a"/><ellipse cx="1139.39" cy="380.19" rx="1.21" ry="1.21" fill="#f2e61e"/><ellipse cx="1155.33" cy="378.31" rx="3.86" ry="3.68" fill="#2a1cff" opacity="0.9"/><ellipse cx="1155.33" cy="378.31" rx="1.86" ry="1.69" fill="#2a62ff"/><ellipse cx="1155.33" cy="378.31" rx="1.03" ry="0.94" fill="#5cd8ff"/><ellipse cx="1173.7" cy="379.63" rx="3.64" ry="3.26" fill="#2a1cf4"/><ellipse cx="1173.7" cy="379.63" rx="2.44" ry="2.06" fill="#1fd2f2"/></g></g><clipPath id="cR12"><rect x="959" y="416.5" width="111.1" height="42.3"/></clipPath><g clip-path="url(#cR12)"><rect x="959" y="416.5" width="111.1" height="42.3" fill="#222"/><g filter="url(#sb)"><path d="M966.88 454.57V458.8M961.99 454.07L958.4 458.59M971.77 454.07L975.35 458.59" stroke="#a0a0a0" stroke-width="0.9" fill="none"/><use href="#m2" transform="translate(966.88 416.5) scale(16.3 42.3)" fill="url(#mg2)"/><path d="M985.63 454.57V458.8M980.74 454.07L977.15 458.59M990.52 454.07L994.1 458.59" stroke="#a0a0a0" stroke-width="0.9" fill="none"/><use href="#m2" transform="translate(985.63 416.5) scale(16.3 42.3)" fill="url(#mg2)"/><path d="M1003.44 454.57V458.8M998.55 454.07L994.96 458.59M1008.33 454.07L1011.92 458.59" stroke="#a0a0a0" stroke-width="0.9" fill="none"/><use href="#m2" transform="translate(1003.44 416.5) scale(16.3 42.3)" fill="url(#mg2)"/><path d="M1022.19 454.57V458.8M1017.3 454.07L1013.72 458.59M1027.08 454.07L1030.67 458.59" stroke="#a0a0a0" stroke-width="0.9" fill="none"/><use href="#m2" transform="translate(1022.19 416.5) scale(16.3 42.3)" fill="url(#mg2)"/><path d="M1040.01 454.57V458.8M1035.12 454.07L1031.53 458.59M1044.9 454.07L1048.48 458.59" stroke="#a0a0a0" stroke-width="0.9" fill="none"/><use href="#m2" transform="translate(1040.01 416.5) scale(16.3 42.3)" fill="url(#mg2)"/><path d="M1060.63 454.57V458.8M1055.74 454.07L1052.16 458.59M1065.52 454.07L1069.11 458.59" stroke="#a0a0a0" stroke-width="0.9" fill="none"/><use href="#m2" transform="translate(1060.63 416.5) scale(16.3 42.3)" fill="url(#mg2)"/><ellipse cx="984.69" cy="430.82" rx="1.5" ry="1.5" fill="#5a12e6" opacity="0.35"/><path d="M985.1 429.9h.01" stroke="#5a12e6" stroke-width="1.3" stroke-linecap="round" fill="none"/><ellipse cx="966.5" cy="420.13" rx="3.73" ry="3.73" fill="#d9c4ff" opacity="0.85"/><ellipse cx="966.5" cy="420.13" rx="2.63" ry="2.63" fill="#5a12e6"/><ellipse cx="970.25" cy="437.75" rx="3.35" ry="3.73" fill="#d9c4ff" opacity="0.85"/><ellipse cx="970.25" cy="437.75" rx="2.25" ry="2.63" fill="#5a12e6"/><ellipse cx="963.13" cy="450.51" rx="3.35" ry="3.35" fill="#d9c4ff" opacity="0.85"/><ellipse cx="963.13" cy="450.51" rx="2.25" ry="2.25" fill="#5a12e6"/><ellipse cx="968.75" cy="450.13" rx="3.35" ry="3.35" fill="#d9c4ff" opacity="0.85"/><ellipse cx="968.75" cy="450.13" rx="2.25" ry="2.25" fill="#5a12e6"/><ellipse cx="987.5" cy="420.5" rx="2.98" ry="3.73" fill="#d9c4ff" opacity="0.85"/><ellipse cx="987.5" cy="420.5" rx="1.88" ry="2.63" fill="#5a12e6"/><ellipse cx="1022.19" cy="420.5" rx="2.6" ry="3.73" fill="#d9c4ff" opacity="0.85"/><ellipse cx="1022.19" cy="420.5" rx="1.5" ry="2.63" fill="#5a12e6"/><ellipse cx="1025" cy="441.13" rx="4.48" ry="4.85" fill="#d9c4ff" opacity="0.85"/><ellipse cx="1025" cy="441.13" rx="3.38" ry="3.75" fill="#5a12e6"/><ellipse cx="1022.19" cy="451.44" rx="6.73" ry="5.6" fill="#d9c4ff" opacity="0.85"/><ellipse cx="1022.19" cy="451.44" rx="5.63" ry="4.5" fill="#5a12e6"/><ellipse cx="1040.94" cy="419" rx="2.98" ry="2.6" fill="#d9c4ff" opacity="0.85"/><ellipse cx="1040.94" cy="419" rx="1.88" ry="1.5" fill="#5a12e6"/><ellipse cx="1038.13" cy="442.63" rx="6.35" ry="5.98" fill="#d9c4ff" opacity="0.85"/><ellipse cx="1038.13" cy="442.63" rx="5.25" ry="4.88" fill="#5a12e6"/></g></g><clipPath id="cR13"><rect x="1072.3" y="416.5" width="110.8" height="42.3"/></clipPath><g clip-path="url(#cR13)"><rect x="1072.3" y="416.5" width="110.8" height="42.3" fill="#222"/><g filter="url(#sb)"><path d="M1080.32 454.57V458.8M1075.43 454.07L1071.84 458.59M1085.21 454.07L1088.8 458.59" stroke="#a0a0a0" stroke-width="0.9" fill="none"/><use href="#m2" transform="translate(1080.32 416.5) scale(16.3 42.3)" fill="url(#mg2)"/><path d="M1099.07 454.57V458.8M1094.18 454.07L1090.6 458.59M1103.96 454.07L1107.55 458.59" stroke="#a0a0a0" stroke-width="0.9" fill="none"/><use href="#m2" transform="translate(1099.07 416.5) scale(16.3 42.3)" fill="url(#mg2)"/><path d="M1117.82 454.57V458.8M1112.93 454.07L1109.35 458.59M1122.71 454.07L1126.3 458.59" stroke="#a0a0a0" stroke-width="0.9" fill="none"/><use href="#m2" transform="translate(1117.82 416.5) scale(16.3 42.3)" fill="url(#mg2)"/><path d="M1137.51 454.57V458.8M1132.62 454.07L1129.04 458.59M1142.4 454.07L1145.99 458.59" stroke="#a0a0a0" stroke-width="0.9" fill="none"/><use href="#m2" transform="translate(1137.51 416.5) scale(16.3 42.3)" fill="url(#mg2)"/><path d="M1155.33 454.57V458.8M1150.44 454.07L1146.85 458.59M1160.22 454.07L1163.8 458.59" stroke="#a0a0a0" stroke-width="0.9" fill="none"/><use href="#m2" transform="translate(1155.33 416.5) scale(16.3 42.3)" fill="url(#mg2)"/><path d="M1175.01 454.57V458.8M1170.12 454.07L1166.54 458.59M1179.9 454.07L1183.49 458.59" stroke="#a0a0a0" stroke-width="0.9" fill="none"/><use href="#m2" transform="translate(1175.01 416.5) scale(16.3 42.3)" fill="url(#mg2)"/><ellipse cx="1175.01" cy="430.82" rx="2.63" ry="3" fill="#5a12e6" opacity="0.35"/><path d="M1176.7 431.4h.01M1173.3 432.9h.01M1175.6 432.5h.01M1175.4 430.5h.01M1173.0 432.3h.01M1175.1 430.2h.01M1175.7 431.0h.01M1176.2 430.1h.01" stroke="#5a12e6" stroke-width="1.3" stroke-linecap="round" fill="none"/><ellipse cx="1139.01" cy="422.38" rx="4.48" ry="5.23" fill="#d9c4ff" opacity="0.85"/><ellipse cx="1139.01" cy="422.38" rx="3.38" ry="4.13" fill="#5a12e6"/><ellipse cx="1175.95" cy="424.25" rx="3.35" ry="2.98" fill="#d9c4ff" opacity="0.85"/><ellipse cx="1175.95" cy="424.25" rx="2.25" ry="1.88" fill="#5a12e6"/></g></g><clipPath id="cR20"><rect x="732.2" y="461.1" width="111.6" height="42.3"/></clipPath><g clip-path="url(#cR20)"><rect x="732.2" y="461.1" width="111.6" height="42.3" fill="#222"/><g filter="url(#sb)"><path d="M741.13 499.17V503.4M736.24 498.67L732.65 503.19M746.02 498.67L749.6 503.19" stroke="#a0a0a0" stroke-width="0.9" fill="none"/><use href="#m2" transform="translate(741.13 461.1) scale(16.3 42.3)" fill="url(#mg2)"/><path d="M761.38 499.17V503.4M756.49 498.67L752.9 503.19M766.27 498.67L769.85 503.19" stroke="#a0a0a0" stroke-width="0.9" fill="none"/><use href="#m2" transform="translate(761.38 461.1) scale(16.3 42.3)" fill="url(#mg2)"/><path d="M780.5 499.17V503.4M775.61 498.67L772.03 503.19M785.39 498.67L788.98 503.19" stroke="#a0a0a0" stroke-width="0.9" fill="none"/><use href="#m2" transform="translate(780.5 461.1) scale(16.3 42.3)" fill="url(#mg2)"/><path d="M799.25 499.17V503.4M794.36 498.67L790.78 503.19M804.14 498.67L807.73 503.19" stroke="#a0a0a0" stroke-width="0.9" fill="none"/><use href="#m2" transform="translate(799.25 461.1) scale(16.3 42.3)" fill="url(#mg2)"/><path d="M817.63 499.17V503.4M812.74 498.67L809.15 503.19M822.52 498.67L826.11 503.19" stroke="#a0a0a0" stroke-width="0.9" fill="none"/><use href="#m2" transform="translate(817.63 461.1) scale(16.3 42.3)" fill="url(#mg2)"/><path d="M835.26 499.17V503.4M830.37 498.67L826.78 503.19M840.15 498.67L843.73 503.19" stroke="#a0a0a0" stroke-width="0.9" fill="none"/><use href="#m2" transform="translate(835.26 461.1) scale(16.3 42.3)" fill="url(#mg2)"/><ellipse cx="742.06" cy="484.63" rx="1.5" ry="1.13" fill="#5a12e6" opacity="0.35"/><path d="M742.0 483.6h.01" stroke="#5a12e6" stroke-width="1.3" stroke-linecap="round" fill="none"/><ellipse cx="741.13" cy="499.07" rx="1.13" ry="1.88" fill="#5a12e6" opacity="0.35"/><path d="M740.8 499.9h.01M742.0 498.7h.01" stroke="#5a12e6" stroke-width="1.3" stroke-linecap="round" fill="none"/><ellipse cx="756.13" cy="494.38" rx="1.5" ry="1.5" fill="#5a12e6" opacity="0.35"/><path d="M756.0 495.6h.01M755.8 495.1h.01" stroke="#5a12e6" stroke-width="1.3" stroke-linecap="round" fill="none"/><ellipse cx="762.69" cy="495.32" rx="3" ry="2.25" fill="#5a12e6" opacity="0.35"/><path d="M765.3 495.4h.01M764.8 494.4h.01M763.1 495.2h.01M762.9 496.9h.01" stroke="#5a12e6" stroke-width="1.3" stroke-linecap="round" fill="none"/><ellipse cx="777.13" cy="495.32" rx="1.5" ry="1.5" fill="#5a12e6" opacity="0.35"/><path d="M778.5 494.9h.01M776.6 495.8h.01" stroke="#5a12e6" stroke-width="1.3" stroke-linecap="round" fill="none"/><ellipse cx="796.44" cy="478.44" rx="4.13" ry="3.75" fill="#5a12e6" opacity="0.35"/><path d="M793.8 479.6h.01M798.0 477.7h.01M797.6 475.4h.01M798.0 475.5h.01M794.6 477.1h.01M795.4 480.5h.01M796.7 477.4h.01M797.6 481.5h.01M796.5 479.4h.01M799.4 479.0h.01M794.6 481.7h.01M799.5 475.9h.01M796.3 479.5h.01M798.8 479.9h.01M795.8 476.0h.01M796.7 480.8h.01M794.0 476.3h.01M796.4 475.0h.01M795.7 477.3h.01M797.7 476.7h.01" stroke="#5a12e6" stroke-width="1.3" stroke-linecap="round" fill="none"/><ellipse cx="834.88" cy="484.06" rx="0.94" ry="0.94" fill="#5a12e6" opacity="0.35"/><path d="M834.4 483.8h.01" stroke="#5a12e6" stroke-width="1.3" stroke-linecap="round" fill="none"/><ellipse cx="835.82" cy="497.19" rx="2.25" ry="1.88" fill="#5a12e6" opacity="0.35"/><path d="M835.7 496.4h.01M835.8 498.1h.01" stroke="#5a12e6" stroke-width="1.3" stroke-linecap="round" fill="none"/><ellipse cx="817.63" cy="495.32" rx="3.75" ry="3" fill="#5a12e6" opacity="0.35"/><path d="M819.6 497.6h.01M815.7 494.5h.01M814.7 497.1h.01M815.8 495.2h.01M818.7 493.1h.01" stroke="#5a12e6" stroke-width="1.3" stroke-linecap="round" fill="none"/><ellipse cx="781.07" cy="480.31" rx="3.35" ry="2.98" fill="#d9c4ff" opacity="0.85"/><ellipse cx="781.07" cy="480.31" rx="2.25" ry="1.88" fill="#5a12e6"/><ellipse cx="795.5" cy="494.38" rx="4.85" ry="4.48" fill="#d9c4ff" opacity="0.85"/><ellipse cx="795.5" cy="494.38" rx="3.75" ry="3.38" fill="#5a12e6"/><ellipse cx="802.07" cy="494.75" rx="4.85" ry="4.1" fill="#d9c4ff" opacity="0.85"/><ellipse cx="802.07" cy="494.75" rx="3.75" ry="3" fill="#5a12e6"/><ellipse cx="798.88" cy="497.75" rx="4.48" ry="2.98" fill="#d9c4ff" opacity="0.85"/><ellipse cx="798.88" cy="497.75" rx="3.38" ry="1.88" fill="#5a12e6"/><ellipse cx="816.13" cy="495.32" rx="3.35" ry="3.35" fill="#d9c4ff" opacity="0.85"/><ellipse cx="816.13" cy="495.32" rx="2.25" ry="2.25" fill="#5a12e6"/></g></g><clipPath id="cR21"><rect x="846" y="461.1" width="111.1" height="42.3"/></clipPath><g clip-path="url(#cR21)"><rect x="846" y="461.1" width="111.1" height="42.3" fill="#222"/><g filter="url(#sb)"><path d="M856.45 499.17V503.4M851.56 498.67L847.97 503.19M861.34 498.67L864.92 503.19" stroke="#a0a0a0" stroke-width="0.9" fill="none"/><use href="#m2" transform="translate(856.45 461.1) scale(16.3 42.3)" fill="url(#mg2)"/><path d="M874.26 499.17V503.4M869.37 498.67L865.78 503.19M879.15 498.67L882.74 503.19" stroke="#a0a0a0" stroke-width="0.9" fill="none"/><use href="#m2" transform="translate(874.26 461.1) scale(16.3 42.3)" fill="url(#mg2)"/><path d="M893.01 499.17V503.4M888.12 498.67L884.53 503.19M897.9 498.67L901.49 503.19" stroke="#a0a0a0" stroke-width="0.9" fill="none"/><use href="#m2" transform="translate(893.01 461.1) scale(16.3 42.3)" fill="url(#mg2)"/><path d="M910.82 499.17V503.4M905.93 498.67L902.35 503.19M915.71 498.67L919.3 503.19" stroke="#a0a0a0" stroke-width="0.9" fill="none"/><use href="#m2" transform="translate(910.82 461.1) scale(16.3 42.3)" fill="url(#mg2)"/><path d="M929.58 499.17V503.4M924.69 498.67L921.1 503.19M934.47 498.67L938.05 503.19" stroke="#a0a0a0" stroke-width="0.9" fill="none"/><use href="#m2" transform="translate(929.58 461.1) scale(16.3 42.3)" fill="url(#mg2)"/><path d="M948.33 499.17V503.4M943.44 498.67L939.85 503.19M953.22 498.67L956.8 503.19" stroke="#a0a0a0" stroke-width="0.9" fill="none"/><use href="#m2" transform="translate(948.33 461.1) scale(16.3 42.3)" fill="url(#mg2)"/><ellipse cx="931.45" cy="473.75" rx="1.5" ry="1.5" fill="#5a12e6" opacity="0.35"/><path d="M931.9 473.7h.01M930.1 474.0h.01" stroke="#5a12e6" stroke-width="1.3" stroke-linecap="round" fill="none"/><ellipse cx="914.57" cy="477.88" rx="1.13" ry="1.13" fill="#5a12e6" opacity="0.35"/><path d="M915.2 477.0h.01" stroke="#5a12e6" stroke-width="1.3" stroke-linecap="round" fill="none"/><ellipse cx="857.01" cy="466.63" rx="4.1" ry="5.23" fill="#d9c4ff" opacity="0.85"/><ellipse cx="857.01" cy="466.63" rx="3" ry="4.13" fill="#5a12e6"/><ellipse cx="857.38" cy="474.69" rx="4.85" ry="3.73" fill="#d9c4ff" opacity="0.85"/><ellipse cx="857.38" cy="474.69" rx="3.75" ry="2.63" fill="#5a12e6"/><ellipse cx="858.32" cy="485" rx="5.6" ry="5.23" fill="#d9c4ff" opacity="0.85"/><ellipse cx="858.32" cy="485" rx="4.5" ry="4.13" fill="#5a12e6"/><ellipse cx="848.95" cy="487.81" rx="2.98" ry="3.73" fill="#d9c4ff" opacity="0.85"/><ellipse cx="848.95" cy="487.81" rx="1.88" ry="2.63" fill="#5a12e6"/><ellipse cx="852.7" cy="495.32" rx="4.48" ry="4.48" fill="#d9c4ff" opacity="0.85"/><ellipse cx="852.7" cy="495.32" rx="3.38" ry="3.38" fill="#5a12e6"/><ellipse cx="860.2" cy="495.32" rx="4.48" ry="4.48" fill="#d9c4ff" opacity="0.85"/><ellipse cx="860.2" cy="495.32" rx="3.38" ry="3.38" fill="#5a12e6"/><ellipse cx="856.45" cy="498.5" rx="4.85" ry="3.35" fill="#d9c4ff" opacity="0.85"/><ellipse cx="856.45" cy="498.5" rx="3.75" ry="2.25" fill="#5a12e6"/><ellipse cx="874.26" cy="465.88" rx="3.73" ry="4.85" fill="#d9c4ff" opacity="0.85"/><ellipse cx="874.26" cy="465.88" rx="2.63" ry="3.75" fill="#5a12e6"/><ellipse cx="870.88" cy="477.5" rx="3.73" ry="4.1" fill="#d9c4ff" opacity="0.85"/><ellipse cx="870.88" cy="477.5" rx="2.63" ry="3" fill="#5a12e6"/><ellipse cx="878.01" cy="474.69" rx="2.6" ry="2.98" fill="#d9c4ff" opacity="0.85"/><ellipse cx="878.01" cy="474.69" rx="1.5" ry="1.88" fill="#5a12e6"/><ellipse cx="876.13" cy="485.94" rx="4.1" ry="3.73" fill="#d9c4ff" opacity="0.85"/><ellipse cx="876.13" cy="485.94" rx="3" ry="2.63" fill="#5a12e6"/><ellipse cx="871.45" cy="494.38" rx="6.73" ry="4.48" fill="#d9c4ff" opacity="0.85"/><ellipse cx="871.45" cy="494.38" rx="5.63" ry="3.38" fill="#5a12e6"/><ellipse cx="878.95" cy="493.44" rx="4.1" ry="3.73" fill="#d9c4ff" opacity="0.85"/><ellipse cx="878.95" cy="493.44" rx="3" ry="2.63" fill="#5a12e6"/><ellipse cx="893.01" cy="468.13" rx="4.85" ry="5.23" fill="#d9c4ff" opacity="0.85"/><ellipse cx="893.01" cy="468.13" rx="3.75" ry="4.13" fill="#5a12e6"/><ellipse cx="894.89" cy="481.25" rx="4.85" ry="6.73" fill="#d9c4ff" opacity="0.85"/><ellipse cx="894.89" cy="481.25" rx="3.75" ry="5.63" fill="#5a12e6"/><ellipse cx="888.32" cy="494.75" rx="4.85" ry="4.85" fill="#d9c4ff" opacity="0.85"/><ellipse cx="888.32" cy="494.75" rx="3.75" ry="3.75" fill="#5a12e6"/><ellipse cx="896.76" cy="494.75" rx="4.85" ry="4.85" fill="#d9c4ff" opacity="0.85"/><ellipse cx="896.76" cy="494.75" rx="3.75" ry="3.75" fill="#5a12e6"/><ellipse cx="892.64" cy="498.13" rx="5.6" ry="3.35" fill="#d9c4ff" opacity="0.85"/><ellipse cx="892.64" cy="498.13" rx="4.5" ry="2.25" fill="#5a12e6"/><ellipse cx="910.26" cy="466.25" rx="4.48" ry="4.85" fill="#d9c4ff" opacity="0.85"/><ellipse cx="910.26" cy="466.25" rx="3.38" ry="3.75" fill="#5a12e6"/><ellipse cx="910.26" cy="485" rx="5.23" ry="4.48" fill="#d9c4ff" opacity="0.85"/><ellipse cx="910.26" cy="485" rx="4.13" ry="3.38" fill="#5a12e6"/><ellipse cx="907.07" cy="494.75" rx="4.85" ry="4.1" fill="#d9c4ff" opacity="0.85"/><ellipse cx="907.07" cy="494.75" rx="3.75" ry="3" fill="#5a12e6"/><ellipse cx="915.51" cy="494.75" rx="4.85" ry="4.1" fill="#d9c4ff" opacity="0.85"/><ellipse cx="915.51" cy="494.75" rx="3.75" ry="3" fill="#5a12e6"/><ellipse cx="911.39" cy="497.75" rx="5.23" ry="2.98" fill="#d9c4ff" opacity="0.85"/><ellipse cx="911.39" cy="497.75" rx="4.13" ry="1.88" fill="#5a12e6"/><ellipse cx="930.51" cy="466.25" rx="3.35" ry="4.48" fill="#d9c4ff" opacity="0.85"/><ellipse cx="930.51" cy="466.25" rx="2.25" ry="3.38" fill="#5a12e6"/><ellipse cx="934.26" cy="485" rx="4.48" ry="3.73" fill="#d9c4ff" opacity="0.85"/><ellipse cx="934.26" cy="485" rx="3.38" ry="2.63" fill="#5a12e6"/><ellipse cx="929.95" cy="495.32" rx="3.73" ry="3.73" fill="#d9c4ff" opacity="0.85"/><ellipse cx="929.95" cy="495.32" rx="2.63" ry="2.63" fill="#5a12e6"/><ellipse cx="949.26" cy="465.31" rx="3.35" ry="2.98" fill="#d9c4ff" opacity="0.85"/><ellipse cx="949.26" cy="465.31" rx="2.25" ry="1.88" fill="#5a12e6"/><ellipse cx="945.51" cy="471.88" rx="3.35" ry="2.6" fill="#d9c4ff" opacity="0.85"/><ellipse cx="945.51" cy="471.88" rx="2.25" ry="1.5" fill="#5a12e6"/><ellipse cx="950.2" cy="484.06" rx="6.35" ry="5.23" fill="#d9c4ff" opacity="0.85"/><ellipse cx="950.2" cy="484.06" rx="5.25" ry="4.13" fill="#5a12e6"/><ellipse cx="943.64" cy="491.56" rx="4.48" ry="5.98" fill="#d9c4ff" opacity="0.85"/><ellipse cx="943.64" cy="491.56" rx="3.38" ry="4.88" fill="#5a12e6"/><ellipse cx="946.45" cy="496.63" rx="3.73" ry="3.73" fill="#d9c4ff" opacity="0.85"/><ellipse cx="946.45" cy="496.63" rx="2.63" ry="2.63" fill="#5a12e6"/></g></g><clipPath id="cR30"><rect x="732.2" y="505.6" width="111.6" height="42.3"/></clipPath><g clip-path="url(#cR30)"><rect x="732.2" y="505.6" width="111.6" height="42.3" fill="#222"/><g filter="url(#sb)"><path d="M741.5 543.67V547.9M736.61 543.17L733.02 547.69M746.39 543.17L749.98 547.69" stroke="#a0a0a0" stroke-width="0.9" fill="none"/><use href="#m2" transform="translate(741.5 505.6) scale(16.3 42.3)" fill="url(#mg2)"/><path d="M759.88 543.67V547.9M754.99 543.17L751.4 547.69M764.77 543.17L768.35 547.69" stroke="#a0a0a0" stroke-width="0.9" fill="none"/><use href="#m2" transform="translate(759.88 505.6) scale(16.3 42.3)" fill="url(#mg2)"/><path d="M778.63 543.67V547.9M773.74 543.17L770.15 547.69M783.52 543.17L787.1 547.69" stroke="#a0a0a0" stroke-width="0.9" fill="none"/><use href="#m2" transform="translate(778.63 505.6) scale(16.3 42.3)" fill="url(#mg2)"/><path d="M797.38 543.67V547.9M792.49 543.17L788.9 547.69M802.27 543.17L805.86 547.69" stroke="#a0a0a0" stroke-width="0.9" fill="none"/><use href="#m2" transform="translate(797.38 505.6) scale(16.3 42.3)" fill="url(#mg2)"/><path d="M816.51 543.67V547.9M811.62 543.17L808.03 547.69M821.4 543.17L824.98 547.69" stroke="#a0a0a0" stroke-width="0.9" fill="none"/><use href="#m2" transform="translate(816.51 505.6) scale(16.3 42.3)" fill="url(#mg2)"/><path d="M833.94 543.67V547.9M829.05 543.17L825.47 547.69M838.83 543.17L842.42 547.69" stroke="#a0a0a0" stroke-width="0.9" fill="none"/><use href="#m2" transform="translate(833.94 505.6) scale(16.3 42.3)" fill="url(#mg2)"/><ellipse cx="758.94" cy="529.63" rx="1.13" ry="1.13" fill="#5a12e6" opacity="0.35"/><path d="M759.5 529.8h.01" stroke="#5a12e6" stroke-width="1.3" stroke-linecap="round" fill="none"/><ellipse cx="775.82" cy="528.13" rx="1.5" ry="1.5" fill="#5a12e6" opacity="0.35"/><path d="M776.3 528.6h.01M776.9 527.9h.01" stroke="#5a12e6" stroke-width="1.3" stroke-linecap="round" fill="none"/><ellipse cx="804.88" cy="536.57" rx="1.5" ry="1.5" fill="#5a12e6" opacity="0.35"/><path d="M805.7 536.2h.01M805.5 535.8h.01" stroke="#5a12e6" stroke-width="1.3" stroke-linecap="round" fill="none"/><ellipse cx="816.51" cy="523.44" rx="3" ry="2.25" fill="#5a12e6" opacity="0.35"/><path d="M816.3 525.4h.01M817.4 523.2h.01M814.6 522.4h.01M816.9 524.8h.01" stroke="#5a12e6" stroke-width="1.3" stroke-linecap="round" fill="none"/><ellipse cx="814.26" cy="539.01" rx="1.88" ry="1.88" fill="#5a12e6" opacity="0.35"/><path d="M814.8 539.7h.01M814.2 540.5h.01M813.8 538.3h.01" stroke="#5a12e6" stroke-width="1.3" stroke-linecap="round" fill="none"/><ellipse cx="834.88" cy="509.38" rx="1.5" ry="1.5" fill="#5a12e6" opacity="0.35"/><path d="M835.7 509.4h.01" stroke="#5a12e6" stroke-width="1.3" stroke-linecap="round" fill="none"/><ellipse cx="833.94" cy="529.07" rx="1.13" ry="0.94" fill="#5a12e6" opacity="0.35"/><path d="M833.7 528.7h.01" stroke="#5a12e6" stroke-width="1.3" stroke-linecap="round" fill="none"/><ellipse cx="797.38" cy="518.75" rx="4.88" ry="5.63" fill="#5a12e6" opacity="0.35"/><path d="M796.5 521.1h.01M798.4 514.8h.01M798.8 519.4h.01M794.5 521.3h.01M796.4 517.5h.01M799.5 522.8h.01M795.2 520.4h.01M795.7 523.9h.01M796.0 522.7h.01M795.4 521.6h.01M800.6 514.5h.01M796.0 520.6h.01M797.1 516.2h.01M802.0 519.0h.01" stroke="#5a12e6" stroke-width="1.3" stroke-linecap="round" fill="none"/><ellipse cx="778.63" cy="520.63" rx="3.75" ry="5.63" fill="#5a12e6" opacity="0.35"/><path d="M775.6 523.0h.01M775.7 523.6h.01M777.2 521.2h.01M781.4 521.0h.01M776.4 516.5h.01M781.1 523.0h.01M776.8 523.5h.01M779.8 523.0h.01" stroke="#5a12e6" stroke-width="1.3" stroke-linecap="round" fill="none"/><ellipse cx="759.88" cy="541.63" rx="5.23" ry="4.48" fill="#d9c4ff" opacity="0.85"/><ellipse cx="759.88" cy="541.63" rx="4.13" ry="3.38" fill="#5a12e6"/><ellipse cx="779" cy="511.25" rx="2.98" ry="3.73" fill="#d9c4ff" opacity="0.85"/><ellipse cx="779" cy="511.25" rx="1.88" ry="2.63" fill="#5a12e6"/><ellipse cx="778.63" cy="526.25" rx="4.48" ry="3.35" fill="#d9c4ff" opacity="0.85"/><ellipse cx="778.63" cy="526.25" rx="3.38" ry="2.25" fill="#5a12e6"/><ellipse cx="797.38" cy="509.75" rx="2.98" ry="3.35" fill="#d9c4ff" opacity="0.85"/><ellipse cx="797.38" cy="509.75" rx="1.88" ry="2.25" fill="#5a12e6"/><ellipse cx="794.57" cy="525.88" rx="3.73" ry="3.35" fill="#d9c4ff" opacity="0.85"/><ellipse cx="794.57" cy="525.88" rx="2.63" ry="2.25" fill="#5a12e6"/><ellipse cx="800.19" cy="526.25" rx="3.35" ry="2.98" fill="#d9c4ff" opacity="0.85"/><ellipse cx="800.19" cy="526.25" rx="2.25" ry="1.88" fill="#5a12e6"/><ellipse cx="794.57" cy="539.38" rx="3.73" ry="3.35" fill="#d9c4ff" opacity="0.85"/><ellipse cx="794.57" cy="539.38" rx="2.63" ry="2.25" fill="#5a12e6"/><ellipse cx="800.19" cy="540.32" rx="4.1" ry="3.35" fill="#d9c4ff" opacity="0.85"/><ellipse cx="800.19" cy="540.32" rx="3" ry="2.25" fill="#5a12e6"/></g></g><clipPath id="cR31"><rect x="846" y="505.6" width="111.1" height="42.3"/></clipPath><g clip-path="url(#cR31)"><rect x="846" y="505.6" width="111.1" height="42.3" fill="#222"/><g filter="url(#sb)"><rect x="901.45" y="505.6" width="56.25" height="42.3" fill="#3e1690"/><path d="M853.26 543.67V547.9M848.37 543.17L844.78 547.69M858.15 543.17L861.73 547.69" stroke="#a0a0a0" stroke-width="0.9" fill="none"/><use href="#m2" transform="translate(853.26 505.6) scale(16.3 42.3)" fill="url(#mg2)"/><path d="M873.32 543.67V547.9M868.43 543.17L864.85 547.69M878.21 543.17L881.8 547.69" stroke="#a0a0a0" stroke-width="0.9" fill="none"/><use href="#m2" transform="translate(873.32 505.6) scale(16.3 42.3)" fill="url(#mg2)"/><path d="M891.14 543.67V547.9M886.25 543.17L882.66 547.69M896.03 543.17L899.61 547.69" stroke="#a0a0a0" stroke-width="0.9" fill="none"/><use href="#m2" transform="translate(891.14 505.6) scale(16.3 42.3)" fill="url(#mg2)"/><ellipse cx="849.88" cy="540.32" rx="1.5" ry="1.5" fill="#5a12e6" opacity="0.35"/><path d="M851.0 540.4h.01M850.1 541.1h.01" stroke="#5a12e6" stroke-width="1.3" stroke-linecap="round" fill="none"/><ellipse cx="857.38" cy="538.44" rx="1.13" ry="1.13" fill="#5a12e6" opacity="0.35"/><path d="M857.2 537.7h.01" stroke="#5a12e6" stroke-width="1.3" stroke-linecap="round" fill="none"/><ellipse cx="873.88" cy="509.38" rx="1.5" ry="1.5" fill="#5a12e6" opacity="0.35"/><path d="M874.8 508.6h.01M874.7 508.6h.01" stroke="#5a12e6" stroke-width="1.3" stroke-linecap="round" fill="none"/><ellipse cx="876.13" cy="531.88" rx="0.94" ry="0.94" fill="#5a12e6" opacity="0.35"/><path d="M876.9 531.4h.01" stroke="#5a12e6" stroke-width="1.3" stroke-linecap="round" fill="none"/><ellipse cx="855.51" cy="511.25" rx="2.6" ry="2.98" fill="#d9c4ff" opacity="0.85"/><ellipse cx="855.51" cy="511.25" rx="1.5" ry="1.88" fill="#5a12e6"/><ellipse cx="850.82" cy="536.57" rx="3.35" ry="2.6" fill="#d9c4ff" opacity="0.85"/><ellipse cx="850.82" cy="536.57" rx="2.25" ry="1.5" fill="#5a12e6"/><ellipse cx="872.01" cy="540.32" rx="3.35" ry="3.35" fill="#d9c4ff" opacity="0.85"/><ellipse cx="872.01" cy="540.32" rx="2.25" ry="2.25" fill="#5a12e6"/><ellipse cx="893.95" cy="512.19" rx="2.6" ry="2.98" fill="#d9c4ff" opacity="0.85"/><ellipse cx="893.95" cy="512.19" rx="1.5" ry="1.88" fill="#5a12e6"/><use href="#m" transform="translate(911.76 505.6) scale(16.3 42.3)" fill="#cdb8f7"/><path d="M905.0 527.7h.01M915.6 537.9h.01M914.1 513.5h.01M912.6 536.0h.01M918.4 523.8h.01M910.1 530.5h.01M915.7 525.0h.01M916.4 522.1h.01M913.0 523.6h.01M912.5 521.8h.01M906.4 539.3h.01M913.2 523.3h.01M912.7 541.0h.01M907.4 528.8h.01M914.3 536.2h.01M910.7 513.3h.01M916.9 533.4h.01M911.8 526.5h.01M913.0 524.8h.01M907.5 522.3h.01M909.0 522.9h.01M907.0 536.5h.01M906.6 536.5h.01M907.3 533.9h.01M917.3 532.1h.01M908.3 530.6h.01M912.3 514.3h.01M908.8 532.0h.01M909.5 531.0h.01M915.0 538.4h.01M915.7 536.5h.01M910.3 529.8h.01M910.4 526.1h.01M911.1 514.4h.01M910.1 529.7h.01M907.4 529.7h.01M914.3 528.0h.01M916.2 516.1h.01M911.0 514.0h.01M914.2 546.6h.01M904.8 530.9h.01M914.3 526.4h.01M913.4 513.3h.01M915.6 534.2h.01M911.9 522.9h.01M914.7 524.4h.01M912.8 523.8h.01M904.9 529.8h.01M912.7 538.8h.01M907.7 529.6h.01M914.7 531.7h.01M915.4 544.6h.01M908.9 514.8h.01M914.8 543.8h.01M915.7 538.6h.01M909.0 521.9h.01M915.5 520.5h.01M905.9 521.9h.01M917.4 540.8h.01M908.7 521.9h.01M912.8 521.2h.01M917.2 529.2h.01M907.8 542.0h.01M909.0 532.7h.01M911.7 526.1h.01M913.3 521.9h.01M907.2 516.4h.01M906.8 522.5h.01M911.6 530.7h.01M914.5 531.5h.01M908.3 522.2h.01M905.0 528.7h.01M914.1 536.3h.01M911.2 527.8h.01M916.0 530.2h.01M915.1 536.6h.01M912.6 543.4h.01M909.0 525.7h.01M908.3 521.4h.01M916.3 542.9h.01M911.9 536.9h.01M916.5 538.1h.01M916.1 518.6h.01M908.8 535.3h.01M917.5 531.0h.01M907.9 526.0h.01M908.9 520.6h.01M917.4 524.1h.01M911.8 546.9h.01M916.8 533.5h.01M908.9 534.8h.01M917.6 535.6h.01M917.0 531.0h.01M914.3 527.6h.01M913.5 543.2h.01M906.1 529.4h.01M912.9 523.1h.01M910.3 539.1h.01M918.2 535.0h.01M913.0 515.3h.01M918.3 530.7h.01M911.6 517.9h.01M911.5 518.0h.01M912.1 535.7h.01M911.9 533.5h.01M908.6 543.3h.01M909.5 514.6h.01M910.9 521.1h.01M907.3 526.1h.01M913.0 517.5h.01M911.2 544.2h.01M915.0 528.2h.01M912.4 528.5h.01M911.5 538.6h.01M911.5 512.7h.01M911.7 519.8h.01M914.7 523.0h.01M912.2 546.9h.01M907.7 519.2h.01M908.2 514.8h.01M905.4 533.1h.01M909.6 514.4h.01M906.2 535.8h.01M908.2 525.8h.01M913.1 543.7h.01M917.8 538.0h.01M912.5 532.3h.01M917.1 540.7h.01M910.3 535.6h.01M913.2 530.7h.01M909.8 516.7h.01M909.8 515.6h.01M916.8 535.5h.01M907.5 542.2h.01M914.6 514.8h.01M917.8 536.7h.01M917.7 521.1h.01M914.3 535.0h.01M912.8 532.1h.01M915.5 516.9h.01M907.5 517.9h.01M909.2 523.0h.01M913.6 533.3h.01M911.9 521.9h.01M909.8 540.5h.01M915.3 531.2h.01M910.5 544.8h.01M909.0 537.4h.01M916.7 527.2h.01M915.1 518.7h.01M916.3 532.2h.01M906.0 536.1h.01M908.3 542.3h.01M908.5 528.1h.01M913.2 525.9h.01M913.0 523.3h.01M915.0 530.1h.01M912.3 512.4h.01M916.8 530.3h.01M905.4 530.9h.01M913.8 541.5h.01M908.0 543.3h.01M911.3 547.3h.01M911.1 538.1h.01M910.2 518.1h.01M916.1 539.1h.01M917.3 537.7h.01M909.7 515.1h.01M908.8 522.4h.01M908.1 536.5h.01M913.4 526.7h.01M912.6 528.2h.01M912.8 538.8h.01M915.9 522.7h.01M906.9 541.5h.01M912.3 542.0h.01M905.7 527.0h.01M911.9 515.7h.01M909.4 538.3h.01M915.4 543.6h.01M908.5 516.9h.01M914.0 540.3h.01M912.6 516.6h.01M915.2 538.6h.01M914.4 524.3h.01M913.2 539.1h.01M909.9 514.3h.01M913.3 535.8h.01M911.8 540.2h.01M908.9 529.0h.01M910.3 536.8h.01M917.8 527.6h.01M917.4 540.4h.01M915.3 536.6h.01M918.1 528.4h.01M911.3 518.3h.01M913.6 543.4h.01M914.3 535.0h.01" stroke="#5a12e6" stroke-width="1.3" stroke-linecap="round" fill="none"/><path d="M910.8 532.1h.01M906.7 539.4h.01M910.0 518.2h.01M908.5 521.0h.01M915.2 540.8h.01M906.7 538.6h.01M915.7 523.6h.01M906.2 523.1h.01M908.8 534.1h.01M910.6 513.5h.01M912.7 515.3h.01M915.3 518.3h.01M908.7 520.7h.01M909.6 543.0h.01M915.5 536.7h.01M913.0 515.3h.01M909.3 523.5h.01M907.5 535.6h.01M908.5 522.1h.01M908.7 514.7h.01M914.1 543.2h.01M912.5 519.1h.01M904.7 531.1h.01M916.9 533.1h.01M915.1 543.3h.01M916.5 525.3h.01M916.1 538.0h.01M905.9 526.2h.01M906.1 528.9h.01M914.2 518.7h.01M905.9 539.3h.01M913.2 544.3h.01M906.9 539.7h.01M916.8 542.3h.01M910.7 533.3h.01M911.1 541.1h.01M916.4 531.0h.01M906.5 537.1h.01M909.6 537.4h.01M912.7 545.1h.01M916.6 525.2h.01M913.0 545.6h.01M909.2 535.2h.01M916.1 541.4h.01M913.8 516.8h.01M906.5 532.6h.01M912.8 547.3h.01M908.3 541.4h.01M914.5 515.4h.01M908.0 531.9h.01M909.4 528.1h.01M913.9 520.8h.01M913.9 522.6h.01M909.2 536.3h.01M909.0 533.4h.01M917.8 530.3h.01M911.1 538.7h.01M910.2 541.7h.01M906.6 536.2h.01M909.4 521.0h.01M917.7 522.9h.01M917.8 535.7h.01M917.0 521.2h.01M915.9 542.5h.01M911.2 528.4h.01M918.7 531.3h.01M909.8 522.6h.01M913.9 534.0h.01M912.4 545.6h.01M910.2 535.7h.01M917.0 521.0h.01M915.1 544.6h.01M906.9 520.1h.01M908.5 515.3h.01M913.3 514.2h.01M913.7 544.0h.01M905.7 527.1h.01M905.6 536.3h.01M908.3 526.9h.01M912.0 536.6h.01M910.0 530.2h.01M909.1 531.4h.01" stroke="#ffffff" stroke-width="1.3" stroke-linecap="round" fill="none"/><use href="#m" transform="translate(929.58 505.6) scale(16.3 42.3)" fill="#cdb8f7"/><path d="M924.6 530.7h.01M923.2 525.9h.01M936.1 530.7h.01M924.3 532.7h.01M926.3 515.9h.01M926.3 538.2h.01M931.5 528.8h.01M925.9 519.2h.01M935.0 532.5h.01M926.7 514.3h.01M926.2 545.4h.01M924.6 529.2h.01M930.6 528.0h.01M928.5 516.2h.01M926.1 544.0h.01M926.3 539.2h.01M923.4 527.5h.01M930.7 541.4h.01M924.9 536.2h.01M931.4 521.5h.01M931.7 520.0h.01M925.9 529.8h.01M922.5 529.3h.01M926.0 516.9h.01M927.6 538.8h.01M927.9 543.0h.01M925.4 518.2h.01M935.4 533.8h.01M933.5 521.3h.01M933.3 533.0h.01M932.7 530.3h.01M934.5 523.4h.01M926.1 516.8h.01M934.3 522.5h.01M925.4 520.6h.01M927.8 517.0h.01M928.2 522.6h.01M927.2 519.6h.01M929.8 524.4h.01M930.1 533.1h.01M930.6 513.2h.01M927.2 521.0h.01M932.4 515.8h.01M926.2 526.6h.01M928.1 541.0h.01M927.6 540.6h.01M925.2 516.6h.01M934.6 534.5h.01M932.0 531.5h.01M931.6 517.5h.01M933.7 524.2h.01M934.0 531.0h.01M923.8 520.6h.01M934.5 528.5h.01M927.6 533.0h.01M927.6 523.5h.01M930.1 531.8h.01M935.5 530.4h.01M934.6 542.1h.01M935.2 538.7h.01M930.2 531.7h.01M928.9 521.4h.01M929.3 522.3h.01M935.5 534.9h.01M928.1 514.0h.01M929.3 524.9h.01M925.4 519.2h.01M922.9 534.2h.01M929.4 547.5h.01M929.4 528.1h.01M935.3 531.3h.01M930.4 525.4h.01M927.3 544.1h.01M932.9 544.3h.01M927.8 530.4h.01M925.9 540.0h.01M924.1 535.5h.01M933.5 542.6h.01M925.8 540.8h.01M926.4 521.6h.01M924.8 540.4h.01M935.5 524.7h.01M926.1 526.1h.01M936.1 536.5h.01M927.7 514.5h.01M926.8 542.1h.01M936.0 527.7h.01M926.4 524.1h.01M923.5 537.3h.01M925.4 540.3h.01M924.2 519.9h.01M930.9 521.1h.01M933.2 530.1h.01M924.8 536.4h.01M932.3 514.6h.01M935.9 534.3h.01M932.1 514.6h.01M926.2 525.9h.01M933.4 517.1h.01M926.9 514.4h.01M928.4 534.3h.01M923.6 524.7h.01M931.5 544.7h.01M932.7 526.4h.01M925.0 520.9h.01M926.4 531.8h.01M929.4 545.4h.01M930.8 518.3h.01M935.0 538.4h.01M930.1 521.5h.01M923.7 521.9h.01M933.4 521.5h.01M924.2 532.0h.01M930.7 537.3h.01M932.1 543.5h.01M926.1 540.2h.01M925.4 537.4h.01M930.5 533.0h.01M933.9 529.8h.01M934.0 538.8h.01M930.2 523.2h.01M926.1 524.0h.01M928.6 529.7h.01M936.5 533.7h.01M932.9 520.7h.01M926.3 526.3h.01M930.4 518.6h.01M935.5 524.9h.01M932.5 514.1h.01M929.5 533.5h.01M930.5 537.2h.01M931.0 532.0h.01M923.4 524.1h.01M922.9 534.5h.01M931.1 527.6h.01M925.9 523.5h.01M934.7 541.9h.01M929.3 543.4h.01M925.2 516.5h.01M927.4 520.2h.01M926.9 532.3h.01M936.5 526.2h.01M929.8 533.5h.01M929.4 540.6h.01M935.1 520.3h.01M930.4 526.7h.01M930.9 515.4h.01M925.3 515.9h.01M932.1 532.3h.01M929.8 512.7h.01M927.8 521.3h.01M924.4 521.6h.01M932.8 536.2h.01M929.5 536.3h.01M926.7 530.9h.01M929.8 536.7h.01M929.2 528.2h.01M928.9 522.3h.01M936.3 533.9h.01M930.8 546.9h.01M934.1 517.5h.01M932.6 539.2h.01M935.2 539.8h.01M932.7 518.2h.01M925.6 533.1h.01M931.8 519.0h.01M927.7 525.2h.01M929.9 534.2h.01M928.4 517.1h.01M933.7 543.1h.01M929.1 541.4h.01M931.6 537.7h.01M931.8 521.3h.01M932.0 540.9h.01M926.8 545.4h.01M934.9 541.6h.01M935.9 535.9h.01M928.0 522.9h.01M925.8 531.4h.01M929.4 538.0h.01M924.9 543.4h.01M936.4 529.8h.01M932.7 535.5h.01M930.9 527.4h.01M929.0 520.5h.01M930.5 529.7h.01M931.0 520.3h.01M929.8 530.6h.01M932.1 518.8h.01M931.4 540.8h.01M932.4 525.6h.01M927.2 527.1h.01M932.2 544.2h.01M928.8 522.3h.01M931.4 532.5h.01M925.7 522.1h.01M929.1 538.0h.01M925.0 520.3h.01" stroke="#5a12e6" stroke-width="1.3" stroke-linecap="round" fill="none"/><path d="M931.6 517.4h.01M930.1 534.4h.01M929.1 518.7h.01M929.3 525.9h.01M931.1 520.4h.01M933.2 516.1h.01M928.7 530.1h.01M933.7 523.4h.01M932.1 523.4h.01M932.1 545.0h.01M927.6 535.3h.01M925.8 540.0h.01M934.7 530.4h.01M924.8 534.3h.01M933.9 540.4h.01M932.3 514.9h.01M927.0 543.6h.01M925.0 540.5h.01M935.7 536.2h.01M934.4 526.4h.01M924.4 528.9h.01M928.6 529.4h.01M932.9 528.3h.01M930.5 535.2h.01M929.6 546.1h.01M931.7 531.0h.01M928.6 522.5h.01M935.1 531.5h.01M925.0 524.0h.01M928.9 524.5h.01M933.7 519.0h.01M932.0 531.8h.01M924.5 530.5h.01M929.1 536.1h.01M927.4 533.7h.01M924.0 521.0h.01M932.8 540.8h.01M929.5 522.8h.01M932.7 514.7h.01M926.0 537.4h.01M932.3 519.1h.01M924.1 540.5h.01M930.3 519.8h.01M929.8 540.3h.01M923.1 537.0h.01M931.9 514.0h.01M932.2 515.0h.01M934.4 534.2h.01M936.2 525.5h.01M929.6 541.6h.01M926.7 522.0h.01M927.7 529.1h.01M925.0 535.2h.01M932.2 530.9h.01M935.7 527.0h.01M934.8 524.5h.01M932.0 514.4h.01M930.6 527.8h.01M927.3 522.9h.01M928.0 521.6h.01M923.0 525.5h.01M927.0 523.8h.01M924.9 528.5h.01M933.2 527.1h.01M927.6 543.5h.01M933.6 539.4h.01M934.5 526.5h.01M929.0 542.1h.01M926.9 528.6h.01M931.4 534.5h.01M928.3 540.9h.01M928.7 538.5h.01M934.1 536.9h.01M932.5 518.2h.01M924.4 523.9h.01M931.4 544.3h.01M924.5 533.2h.01M925.9 522.1h.01M928.3 538.1h.01M930.5 542.6h.01M925.5 539.1h.01M933.8 530.8h.01" stroke="#ffffff" stroke-width="1.3" stroke-linecap="round" fill="none"/><use href="#m" transform="translate(947.39 505.6) scale(16.3 42.3)" fill="#cdb8f7"/><path d="M949.6 523.4h.01M942.7 525.7h.01M945.9 547.3h.01M945.6 545.0h.01M948.4 533.9h.01M950.7 521.5h.01M951.5 534.2h.01M941.7 535.6h.01M950.0 535.4h.01M953.3 526.1h.01M949.7 538.5h.01M943.9 541.7h.01M942.5 519.0h.01M949.6 518.4h.01M947.0 514.7h.01M947.7 517.7h.01M948.7 515.4h.01M949.6 526.8h.01M947.7 529.2h.01M947.9 516.4h.01M940.4 530.2h.01M943.2 525.0h.01M948.8 513.7h.01M944.0 523.2h.01M942.8 533.6h.01M946.7 520.5h.01M943.3 538.4h.01M944.4 536.7h.01M948.9 514.0h.01M942.6 530.0h.01M949.0 539.0h.01M950.7 540.7h.01M945.5 527.4h.01M950.9 525.1h.01M951.0 516.4h.01M950.5 527.9h.01M941.3 537.6h.01M948.9 530.3h.01M942.8 525.0h.01M952.9 522.5h.01M940.5 525.7h.01M942.3 528.6h.01M945.6 519.8h.01M943.9 540.7h.01M943.3 544.0h.01M945.1 518.4h.01M950.9 536.4h.01M943.1 537.8h.01M941.4 522.5h.01M952.2 527.3h.01M942.2 535.2h.01M951.6 529.8h.01M941.1 527.0h.01M949.3 538.8h.01M953.8 527.8h.01M945.0 529.5h.01M952.1 520.9h.01M950.4 514.0h.01M950.9 522.5h.01M949.5 538.0h.01M942.3 529.1h.01M948.5 537.0h.01M943.6 519.9h.01M943.1 544.2h.01M946.4 527.2h.01M942.0 538.4h.01M945.3 543.9h.01M951.3 530.2h.01M950.4 518.6h.01M945.8 523.1h.01M942.1 530.2h.01M946.8 544.3h.01M940.4 526.5h.01M943.3 524.9h.01M949.4 534.9h.01M947.5 524.2h.01M949.8 534.3h.01M941.0 527.7h.01M942.5 519.6h.01M948.1 530.8h.01M947.9 520.0h.01M946.5 519.7h.01M949.2 538.0h.01M952.9 539.9h.01M943.7 524.8h.01M943.2 533.4h.01M953.7 535.7h.01M941.3 521.3h.01M942.2 535.2h.01M947.4 533.7h.01M953.4 523.1h.01M944.7 545.5h.01M949.0 521.0h.01M941.8 519.5h.01M940.4 530.5h.01M947.6 541.1h.01M946.7 521.8h.01M945.0 545.5h.01M941.1 531.6h.01M947.5 537.4h.01M945.5 536.0h.01M951.2 528.3h.01M945.2 527.7h.01M943.1 527.7h.01M945.9 532.6h.01M952.0 541.3h.01M945.3 537.1h.01M948.8 538.9h.01M947.5 533.3h.01M945.3 521.1h.01M950.7 542.4h.01M950.5 535.1h.01M948.7 524.5h.01M941.3 535.7h.01M948.4 523.3h.01M943.7 542.1h.01M942.4 542.2h.01M949.2 546.8h.01M944.0 529.7h.01M944.9 531.9h.01M946.4 521.2h.01M951.8 522.0h.01M945.0 536.5h.01M944.8 524.8h.01M949.1 525.5h.01M942.2 528.9h.01M946.6 545.5h.01M943.1 539.6h.01M943.8 525.9h.01M945.8 533.3h.01M950.3 544.7h.01M944.9 543.1h.01M951.5 538.4h.01M944.1 539.6h.01M946.9 534.4h.01M946.1 537.9h.01M951.6 540.7h.01M946.5 541.1h.01M952.7 521.5h.01M952.3 518.9h.01M949.9 536.9h.01M953.2 532.7h.01M945.2 521.0h.01M942.5 537.6h.01M946.3 521.6h.01M949.8 521.3h.01M945.3 524.5h.01M952.5 541.3h.01M946.8 515.0h.01M948.8 530.9h.01M949.1 536.8h.01M945.9 540.4h.01M951.2 532.4h.01M945.4 524.2h.01M950.3 518.6h.01M946.6 521.2h.01M942.0 535.9h.01M947.3 530.5h.01M950.6 516.5h.01M947.1 533.6h.01M950.8 519.0h.01M950.8 532.6h.01M952.2 540.2h.01M949.1 546.5h.01M947.4 524.8h.01M945.9 519.5h.01M947.3 513.8h.01M947.0 535.2h.01M951.8 526.2h.01M952.8 523.7h.01M946.9 513.8h.01M944.1 521.4h.01M953.0 535.0h.01M942.8 535.6h.01M949.7 527.2h.01M947.5 526.3h.01M945.5 514.7h.01M947.0 543.1h.01M953.0 527.3h.01M944.0 527.6h.01M951.4 533.9h.01M944.7 534.2h.01M946.4 536.1h.01M945.8 515.9h.01M947.7 538.7h.01M942.7 528.9h.01M951.3 525.9h.01M945.3 546.0h.01M950.7 540.4h.01M944.2 543.9h.01M941.5 525.4h.01M950.2 542.7h.01M943.5 523.0h.01M948.0 513.8h.01M950.3 536.3h.01M945.3 536.2h.01M950.9 533.5h.01M949.3 544.1h.01" stroke="#5a12e6" stroke-width="1.3" stroke-linecap="round" fill="none"/><path d="M945.1 531.9h.01M945.2 540.9h.01M945.5 535.5h.01M948.1 530.8h.01M953.6 529.2h.01M952.6 537.6h.01M952.7 528.3h.01M951.3 537.9h.01M944.5 533.1h.01M946.8 529.6h.01M952.4 523.1h.01M942.6 517.6h.01M945.3 522.7h.01M947.5 536.6h.01M953.6 532.7h.01M949.5 521.8h.01M949.6 543.1h.01M951.3 515.9h.01M950.5 543.8h.01M950.4 516.6h.01M946.0 536.8h.01M949.2 521.0h.01M943.8 539.7h.01M943.0 541.9h.01M947.5 533.6h.01M942.2 524.2h.01M949.9 516.5h.01M953.1 520.3h.01M942.4 530.4h.01M949.5 538.2h.01M945.6 527.5h.01M946.3 523.3h.01M940.8 536.1h.01M948.6 531.9h.01M944.5 532.9h.01M947.3 529.1h.01M950.9 516.1h.01M948.5 518.7h.01M946.2 544.2h.01M942.8 528.9h.01M944.9 540.0h.01M944.1 516.0h.01M949.8 525.9h.01M946.0 541.4h.01M943.5 525.9h.01M948.1 534.9h.01M945.2 540.8h.01M954.1 527.0h.01M952.1 516.8h.01M952.8 526.7h.01M948.0 526.0h.01M944.9 517.6h.01M945.8 542.9h.01M952.1 526.4h.01M945.0 522.2h.01M943.7 544.0h.01M950.4 531.4h.01M945.3 519.3h.01M952.4 537.4h.01M943.6 539.8h.01M942.9 536.5h.01M943.3 525.6h.01M949.7 535.0h.01M951.5 521.6h.01M952.4 540.7h.01M947.3 535.5h.01M943.9 528.3h.01M942.1 530.9h.01M948.2 543.3h.01M951.3 538.3h.01M945.7 527.3h.01M945.8 532.6h.01M941.2 536.1h.01M941.7 525.3h.01M947.5 524.0h.01M953.4 529.1h.01M952.6 539.7h.01M945.1 534.6h.01M952.6 526.7h.01M947.8 523.5h.01M947.7 525.8h.01M947.7 540.8h.01" stroke="#ffffff" stroke-width="1.3" stroke-linecap="round" fill="none"/></g></g><clipPath id="cR22"><rect x="959" y="461.1" width="111.1" height="42.3"/></clipPath><g clip-path="url(#cR22)"><rect x="959" y="461.1" width="111.1" height="42.3" fill="#222"/><g filter="url(#sb)"><use href="#m" transform="translate(967.81 460.6) scale(17.8 43.3)" fill="#6a14f0"/><use href="#m" transform="translate(986.56 460.6) scale(17.8 43.3)" fill="#6a14f0"/><use href="#m" transform="translate(1004.38 460.6) scale(17.8 43.3)" fill="#6a14f0"/><use href="#m" transform="translate(1022.19 460.6) scale(17.8 43.3)" fill="#6a14f0"/><use href="#m" transform="translate(1040.94 460.6) scale(17.8 43.3)" fill="#6a14f0"/><use href="#m" transform="translate(1060.63 460.6) scale(17.8 43.3)" fill="#6a14f0"/><ellipse cx="1004.38" cy="483.13" rx="6.38" ry="16.88" fill="#e6d6ff" opacity="0.15"/><path d="M1007.1 495.8h.01M1001.4 495.5h.01M1001.9 469.2h.01M1007.2 490.3h.01M1003.9 466.7h.01M1004.1 479.7h.01M1002.8 479.9h.01M998.9 478.6h.01M1009.0 493.7h.01M1002.9 475.5h.01M1005.9 493.7h.01M1006.9 472.2h.01M1005.1 484.7h.01M1008.8 492.8h.01M1006.3 494.7h.01M1003.1 496.7h.01M1002.6 487.5h.01M1007.7 474.4h.01M1002.3 469.0h.01M1005.1 482.5h.01M1003.0 488.6h.01M998.4 483.0h.01M1004.8 480.1h.01M1006.8 497.0h.01M1002.7 473.6h.01M1001.9 484.1h.01M1006.6 474.4h.01M1007.9 473.7h.01M1007.6 487.6h.01M1005.6 498.7h.01M1003.3 481.3h.01M1006.2 492.0h.01M999.6 485.7h.01M1001.5 489.6h.01M1009.2 483.6h.01M1003.9 485.2h.01M998.3 487.4h.01M1006.7 484.9h.01M1002.8 475.4h.01M1003.7 494.9h.01M1004.0 495.8h.01M998.2 480.2h.01M1005.6 483.0h.01M999.2 477.6h.01M1008.3 472.5h.01M1001.0 473.1h.01M1002.2 489.9h.01M1006.1 468.0h.01M1009.3 477.9h.01M1002.5 497.0h.01M1004.1 471.1h.01M1001.9 475.6h.01M1000.5 479.8h.01M1007.8 486.8h.01M1001.6 498.2h.01M1000.5 484.3h.01M1004.5 491.3h.01M1003.0 488.2h.01M1010.3 483.8h.01M1000.3 486.4h.01M1001.2 479.2h.01M1005.2 486.9h.01M1003.3 492.0h.01M1003.7 470.7h.01M1007.8 479.4h.01M1008.7 477.0h.01M1006.7 486.6h.01M998.8 475.0h.01M1000.9 494.7h.01M999.0 490.0h.01M1008.4 488.0h.01M1007.1 477.9h.01M1004.3 485.7h.01M1006.1 490.6h.01M1003.5 475.6h.01M1002.1 487.6h.01M999.6 473.7h.01M1002.7 477.1h.01M1003.7 466.6h.01M1002.9 480.3h.01M1006.6 468.4h.01M1003.1 488.4h.01M1006.1 494.6h.01M1008.0 473.6h.01M1007.0 479.5h.01M1001.8 496.1h.01M1002.0 474.5h.01M1002.8 474.3h.01M1008.2 487.0h.01M1009.2 486.9h.01M1002.1 493.4h.01M1001.7 478.2h.01M1003.7 483.6h.01M1008.6 477.4h.01M1005.9 482.8h.01M1000.3 473.7h.01M1003.4 487.7h.01M1005.7 488.4h.01M1004.6 478.1h.01M1006.0 473.0h.01M999.6 480.0h.01M999.5 478.5h.01M1001.4 477.3h.01M1004.2 474.6h.01M1003.0 468.8h.01M1005.0 473.9h.01M1005.3 466.6h.01M1001.2 485.7h.01M998.3 480.7h.01M1004.8 484.3h.01M999.3 485.2h.01" stroke="#e6d6ff" stroke-width="1.3" stroke-linecap="round" fill="none"/><ellipse cx="967.81" cy="476.56" rx="5.63" ry="2.25" fill="#e6d6ff" opacity="0.3"/><path d="M968.3 475.2h.01M970.5 476.5h.01M967.9 475.9h.01M969.8 476.7h.01M971.5 477.2h.01M965.6 476.2h.01M971.0 476.1h.01M969.2 477.3h.01M967.4 474.4h.01" stroke="#e6d6ff" stroke-width="1.3" stroke-linecap="round" fill="none"/><ellipse cx="1022.19" cy="474.69" rx="5.63" ry="2.63" fill="#e6d6ff" opacity="0.3"/><path d="M1022.7 475.1h.01M1022.7 473.4h.01M1026.1 474.5h.01M1020.0 473.5h.01M1023.4 473.0h.01M1019.8 476.9h.01M1025.9 476.1h.01M1026.3 475.5h.01M1017.9 476.1h.01M1026.1 475.4h.01M1017.6 476.0h.01" stroke="#e6d6ff" stroke-width="1.3" stroke-linecap="round" fill="none"/><ellipse cx="1038.13" cy="477.5" rx="4.13" ry="5.63" fill="#e6d6ff" opacity="0.2"/><path d="M1041.2 476.0h.01M1038.5 480.3h.01M1037.9 481.2h.01M1038.3 480.0h.01M1038.3 473.0h.01M1036.9 482.9h.01M1038.8 481.7h.01M1040.3 481.9h.01M1039.6 475.4h.01M1038.2 472.4h.01M1037.6 480.7h.01M1034.3 478.0h.01M1039.9 481.5h.01M1035.9 475.3h.01M1034.7 475.0h.01M1039.1 482.6h.01M1035.8 481.3h.01M1039.3 475.7h.01" stroke="#e6d6ff" stroke-width="1.3" stroke-linecap="round" fill="none"/><ellipse cx="1063.44" cy="477.5" rx="3.75" ry="3" fill="#e6d6ff" opacity="0.4"/><path d="M1065.9 475.2h.01M1063.3 477.9h.01M1066.3 479.4h.01M1067.0 477.7h.01M1065.3 479.6h.01M1064.7 478.2h.01M1063.0 476.7h.01M1061.5 479.9h.01M1062.7 474.7h.01M1064.1 477.4h.01M1063.8 480.2h.01" stroke="#e6d6ff" stroke-width="1.3" stroke-linecap="round" fill="none"/><ellipse cx="983.75" cy="472.81" rx="1.88" ry="3" fill="#e6d6ff" opacity="0.4"/><path d="M983.6 472.3h.01M982.9 472.8h.01M983.2 473.2h.01M985.6 473.2h.01M983.0 475.4h.01" stroke="#e6d6ff" stroke-width="1.3" stroke-linecap="round" fill="none"/></g></g><clipPath id="cR23"><rect x="1072.3" y="461.1" width="110.8" height="42.3"/></clipPath><g clip-path="url(#cR23)"><rect x="1072.3" y="461.1" width="110.8" height="42.3" fill="#7412e6"/><g filter="url(#sb)"><g filter="url(#sb2)"><rect x="1088.57" y="461.1" width="3.38" height="42.3" fill="#3a0c70" opacity="0.45"/><rect x="1106.2" y="461.1" width="3.38" height="42.3" fill="#3a0c70" opacity="0.45"/><rect x="1123.07" y="461.1" width="3.38" height="42.3" fill="#3a0c70" opacity="0.45"/><rect x="1143.32" y="461.1" width="3.38" height="42.3" fill="#3a0c70" opacity="0.45"/><rect x="1163.95" y="461.1" width="3.38" height="42.3" fill="#3a0c70" opacity="0.45"/><ellipse cx="1080.32" cy="482.19" rx="7.5" ry="19.69" fill="#4a14f4" opacity="0.8"/><ellipse cx="1100.01" cy="482.19" rx="7.5" ry="19.69" fill="#4a14f4" opacity="0.8"/><ellipse cx="1115.01" cy="482.19" rx="7.5" ry="19.69" fill="#4a14f4" opacity="0.8"/><ellipse cx="1134.7" cy="482.19" rx="7.5" ry="19.69" fill="#4a14f4" opacity="0.8"/><ellipse cx="1155.33" cy="482.19" rx="7.5" ry="19.69" fill="#4a14f4" opacity="0.8"/><ellipse cx="1175.01" cy="482.19" rx="7.5" ry="19.69" fill="#4a14f4" opacity="0.8"/><ellipse cx="1081.26" cy="477.13" rx="4.88" ry="1.88" fill="#b070f4" opacity="0.35"/><ellipse cx="1115.01" cy="477.13" rx="5.63" ry="2.25" fill="#b070f4" opacity="0.35"/><ellipse cx="1150.64" cy="478.44" rx="4.13" ry="2.63" fill="#b070f4" opacity="0.35"/><ellipse cx="1154.39" cy="499.07" rx="7.5" ry="1.88" fill="#b070f4" opacity="0.35"/></g><ellipse cx="1079.38" cy="468.5" rx="3.68" ry="3.68" fill="#2a1cff" opacity="0.9"/><ellipse cx="1079.38" cy="468.5" rx="1.69" ry="1.69" fill="#2a62ff"/><ellipse cx="1079.38" cy="468.5" rx="0.94" ry="0.94" fill="#5cd8ff"/><ellipse cx="1099.07" cy="468.5" rx="3.49" ry="3.49" fill="#2a1cff" opacity="0.9"/><ellipse cx="1099.07" cy="468.5" rx="1.52" ry="1.52" fill="#2a62ff"/><ellipse cx="1099.07" cy="468.5" rx="0.84" ry="0.84" fill="#5cd8ff"/><ellipse cx="1114.07" cy="468.13" rx="3.08" ry="3.45" fill="#2a1cf4"/><ellipse cx="1114.07" cy="468.13" rx="1.88" ry="2.25" fill="#1fd2f2"/><ellipse cx="1114.07" cy="468.13" rx="1.28" ry="1.53" fill="#35e24a"/><ellipse cx="1135.64" cy="468.5" rx="4.58" ry="3.45" fill="#2a1cf4"/><ellipse cx="1135.64" cy="468.5" rx="3.38" ry="2.25" fill="#1fd2f2"/><ellipse cx="1155.33" cy="469.06" rx="3.86" ry="4.24" fill="#2a1cff" opacity="0.9"/><ellipse cx="1155.33" cy="469.06" rx="1.86" ry="2.19" fill="#2a62ff"/><ellipse cx="1155.33" cy="469.06" rx="1.03" ry="1.22" fill="#5cd8ff"/><ellipse cx="1175.01" cy="470.94" rx="3.45" ry="3.45" fill="#2a1cf4"/><ellipse cx="1175.01" cy="470.94" rx="2.25" ry="2.25" fill="#1fd2f2"/><ellipse cx="1082.2" cy="485.94" rx="4.24" ry="3.86" fill="#2a1cff" opacity="0.9"/><ellipse cx="1082.2" cy="485.94" rx="2.19" ry="1.86" fill="#2a62ff"/><ellipse cx="1082.2" cy="485.94" rx="1.22" ry="1.03" fill="#5cd8ff"/><ellipse cx="1100.01" cy="495.32" rx="4.43" ry="4.05" fill="#2a1cff" opacity="0.9"/><ellipse cx="1100.01" cy="495.32" rx="2.36" ry="2.03" fill="#2a62ff"/><ellipse cx="1100.01" cy="495.32" rx="1.31" ry="1.13" fill="#5cd8ff"/><ellipse cx="1115.95" cy="487.25" rx="4.24" ry="3.86" fill="#2a1cff" opacity="0.9"/><ellipse cx="1115.95" cy="487.25" rx="2.19" ry="1.86" fill="#2a62ff"/><ellipse cx="1115.95" cy="487.25" rx="1.22" ry="1.03" fill="#5cd8ff"/><ellipse cx="1112.2" cy="497.75" rx="3.26" ry="3.26" fill="#2a1cf4"/><ellipse cx="1112.2" cy="497.75" rx="2.06" ry="2.06" fill="#1fd2f2"/><ellipse cx="1112.2" cy="497.75" rx="1.4" ry="1.4" fill="#35e24a"/><ellipse cx="1130.95" cy="492.5" rx="3.26" ry="5.33" fill="#2a1cf4" transform="rotate(-25 1130.95 492.5)"/><ellipse cx="1130.95" cy="492.5" rx="2.06" ry="4.13" fill="#1fd2f2" transform="rotate(-25 1130.95 492.5)"/><ellipse cx="1137.51" cy="494.75" rx="3.3" ry="3.3" fill="#2a1cff" opacity="0.9"/><ellipse cx="1137.51" cy="494.75" rx="1.35" ry="1.35" fill="#2a62ff"/><ellipse cx="1137.51" cy="494.75" rx="0.75" ry="0.75" fill="#5cd8ff"/><ellipse cx="1154.76" cy="488.38" rx="4.24" ry="3.86" fill="#2a1cff" opacity="0.9"/><ellipse cx="1154.76" cy="488.38" rx="2.19" ry="1.86" fill="#2a62ff"/><ellipse cx="1154.76" cy="488.38" rx="1.22" ry="1.03" fill="#5cd8ff"/><ellipse cx="1178.76" cy="487.81" rx="3.86" ry="3.86" fill="#2a1cff" opacity="0.9"/><ellipse cx="1178.76" cy="487.81" rx="1.86" ry="1.86" fill="#2a62ff"/><ellipse cx="1178.76" cy="487.81" rx="1.03" ry="1.03" fill="#5cd8ff"/><ellipse cx="1077.51" cy="494.38" rx="3.08" ry="3.08" fill="#2a1cf4"/><ellipse cx="1077.51" cy="494.38" rx="1.88" ry="1.88" fill="#1fd2f2"/><ellipse cx="1098.13" cy="479.38" rx="2.89" ry="2.89" fill="#2a1cf4"/><ellipse cx="1098.13" cy="479.38" rx="1.69" ry="1.69" fill="#1fd2f2"/></g></g><clipPath id="cR32"><rect x="959" y="505.6" width="111.1" height="42.3"/></clipPath><g clip-path="url(#cR32)"><rect x="959" y="505.6" width="111.1" height="42.3" fill="#222"/><g filter="url(#sb)"><path d="M968.75 543.67V547.9M963.86 543.17L960.28 547.69M973.64 543.17L977.23 547.69" stroke="#a0a0a0" stroke-width="0.9" fill="none"/><use href="#m2" transform="translate(968.75 505.6) scale(16.3 42.3)" fill="url(#mg2)"/><path d="M988.44 543.67V547.9M983.55 543.17L979.96 547.69M993.33 543.17L996.92 547.69" stroke="#a0a0a0" stroke-width="0.9" fill="none"/><use href="#m2" transform="translate(988.44 505.6) scale(16.3 42.3)" fill="url(#mg2)"/><path d="M1006.25 543.67V547.9M1001.36 543.17L997.78 547.69M1011.14 543.17L1014.73 547.69" stroke="#a0a0a0" stroke-width="0.9" fill="none"/><use href="#m2" transform="translate(1006.25 505.6) scale(16.3 42.3)" fill="url(#mg2)"/><path d="M1022.19 543.67V547.9M1017.3 543.17L1013.72 547.69M1027.08 543.17L1030.67 547.69" stroke="#a0a0a0" stroke-width="0.9" fill="none"/><use href="#m2" transform="translate(1022.19 505.6) scale(16.3 42.3)" fill="url(#mg2)"/><path d="M1040.01 543.67V547.9M1035.12 543.17L1031.53 547.69M1044.9 543.17L1048.48 547.69" stroke="#a0a0a0" stroke-width="0.9" fill="none"/><use href="#m2" transform="translate(1040.01 505.6) scale(16.3 42.3)" fill="url(#mg2)"/><path d="M1060.63 543.67V547.9M1055.74 543.17L1052.16 547.69M1065.52 543.17L1069.11 547.69" stroke="#a0a0a0" stroke-width="0.9" fill="none"/><use href="#m2" transform="translate(1060.63 505.6) scale(16.3 42.3)" fill="url(#mg2)"/><ellipse cx="968.75" cy="511.25" rx="3.38" ry="4.5" fill="#5a12e6" opacity="0.35"/><path d="M970.5 513.4h.01M970.2 513.5h.01M970.0 514.6h.01M970.5 514.4h.01M967.6 511.2h.01M967.3 513.8h.01M970.5 510.0h.01M969.5 515.6h.01M970.9 508.7h.01M968.5 513.1h.01M968.7 512.4h.01M971.1 512.1h.01M966.6 513.1h.01M968.5 511.6h.01M967.7 507.9h.01M966.3 510.3h.01M967.5 507.1h.01M970.8 508.5h.01M967.2 512.8h.01M965.8 513.4h.01M967.2 513.1h.01M967.7 512.2h.01M969.0 511.3h.01" stroke="#5a12e6" stroke-width="1.3" stroke-linecap="round" fill="none"/><ellipse cx="988.44" cy="526.25" rx="6.75" ry="17.81" fill="#5a12e6" opacity="0.35"/><path d="M983.4 515.5h.01M988.3 540.2h.01M986.1 532.4h.01M989.2 532.0h.01M991.7 513.1h.01M989.7 524.1h.01M987.1 516.7h.01M985.4 515.8h.01M985.8 542.3h.01M994.3 526.3h.01M991.4 516.1h.01M982.8 516.5h.01M989.0 540.3h.01M988.3 515.3h.01M987.4 515.4h.01M983.2 524.0h.01M986.7 517.2h.01M985.0 516.7h.01M989.3 540.0h.01M987.8 543.2h.01M982.8 528.8h.01M983.8 524.6h.01M988.9 532.9h.01M992.8 520.5h.01M983.6 524.3h.01M989.7 518.2h.01M991.3 540.5h.01M983.2 529.8h.01M991.4 511.4h.01M989.4 523.5h.01M983.9 537.3h.01M989.4 520.6h.01M990.4 533.6h.01M991.7 532.7h.01M990.0 514.1h.01M986.5 527.8h.01M983.1 537.1h.01M986.9 515.0h.01M982.5 528.4h.01M988.6 519.4h.01M986.7 516.5h.01M985.2 525.1h.01M985.7 533.8h.01M987.8 527.9h.01M990.0 539.1h.01M991.1 528.9h.01M987.7 517.1h.01M987.0 534.1h.01M989.5 521.6h.01M984.3 513.8h.01M989.8 537.3h.01M989.8 512.7h.01M987.5 528.9h.01M984.6 530.1h.01M987.6 516.8h.01M983.9 534.1h.01M989.9 516.4h.01M984.6 535.2h.01M991.1 522.7h.01M994.0 523.6h.01M984.6 536.7h.01M987.6 530.4h.01M988.6 515.3h.01M983.7 524.2h.01M993.2 517.2h.01M993.6 528.5h.01M984.0 529.1h.01M990.8 516.6h.01M982.2 529.0h.01M984.0 530.9h.01M982.3 525.1h.01M985.7 512.8h.01M987.3 528.3h.01M986.3 514.3h.01M989.2 510.7h.01M990.8 531.9h.01M993.8 533.8h.01M990.0 529.4h.01M988.5 512.9h.01M993.7 531.2h.01M987.3 514.2h.01M993.7 531.3h.01M984.0 533.0h.01M994.5 526.1h.01M990.2 521.4h.01M986.0 537.3h.01M995.1 526.9h.01M987.9 535.3h.01M987.1 534.6h.01M991.6 516.0h.01M984.1 525.5h.01M992.0 529.4h.01M992.5 514.4h.01M990.6 519.2h.01M988.9 530.1h.01M984.4 523.8h.01M983.8 529.0h.01M984.9 520.8h.01M989.4 518.7h.01M992.8 519.8h.01M992.0 529.4h.01M984.2 523.9h.01M984.9 522.2h.01M987.6 542.0h.01M987.0 540.8h.01M990.1 513.3h.01M982.2 531.1h.01M982.5 531.9h.01M992.6 530.4h.01M987.5 523.2h.01M989.6 522.6h.01M986.1 522.0h.01M992.9 520.0h.01M989.9 514.3h.01M985.9 513.3h.01M987.6 534.1h.01M989.8 520.5h.01M991.1 522.3h.01M990.1 529.5h.01M989.8 509.3h.01M983.7 533.6h.01M988.1 543.2h.01M987.4 519.8h.01M993.7 531.4h.01M994.4 530.5h.01M987.6 534.5h.01M985.1 521.3h.01M986.0 523.7h.01M991.7 520.9h.01M989.9 520.4h.01M990.5 509.5h.01M987.5 528.3h.01M984.5 536.0h.01M989.3 539.2h.01M992.3 533.0h.01M987.8 514.7h.01M987.5 520.8h.01M989.6 520.8h.01M994.4 518.0h.01M993.0 521.5h.01M987.4 536.4h.01M988.5 513.7h.01M990.3 523.9h.01M982.2 527.8h.01M984.4 518.7h.01M990.6 529.8h.01M987.6 542.9h.01M990.3 519.2h.01M989.5 524.8h.01M983.0 516.1h.01M984.8 540.6h.01M987.6 522.9h.01M986.2 536.6h.01M988.5 541.6h.01M991.0 540.5h.01M987.9 530.7h.01M986.5 524.3h.01M982.8 521.2h.01M984.7 519.4h.01M993.2 528.9h.01M992.9 534.5h.01M991.9 536.2h.01M986.0 535.0h.01M987.0 520.1h.01M991.6 541.4h.01M985.4 540.5h.01M991.7 517.4h.01M989.7 530.7h.01M990.1 522.1h.01M983.5 526.6h.01M991.9 534.5h.01M991.0 537.4h.01M984.4 525.8h.01M989.8 537.0h.01M989.1 532.3h.01M988.8 542.9h.01M982.1 526.1h.01M995.0 527.9h.01M982.5 527.4h.01M983.4 519.9h.01M989.2 541.6h.01M990.4 533.8h.01M992.6 528.4h.01M984.8 525.2h.01M990.0 523.0h.01M985.6 522.2h.01M983.5 517.4h.01M988.0 521.9h.01M988.6 540.0h.01M989.8 525.9h.01M984.3 516.2h.01M990.0 516.7h.01M990.1 515.0h.01M989.1 525.4h.01M992.5 522.1h.01M986.8 529.2h.01M988.6 541.5h.01M987.3 520.0h.01M987.0 531.8h.01M989.5 534.2h.01M985.2 541.6h.01M994.4 526.0h.01M983.7 527.9h.01M989.6 509.6h.01M988.5 512.0h.01M990.1 539.6h.01M991.8 513.2h.01M993.2 534.5h.01M986.9 532.1h.01M993.8 523.1h.01M988.4 519.7h.01M991.5 511.1h.01M993.3 517.6h.01M991.4 512.4h.01M984.7 519.9h.01M991.2 512.2h.01M991.0 519.2h.01M993.2 523.1h.01M990.6 524.2h.01M994.3 523.1h.01M988.4 542.6h.01M988.8 534.1h.01M985.3 528.5h.01M982.0 527.0h.01M986.2 512.5h.01M983.8 536.2h.01M990.0 512.1h.01M994.2 520.5h.01M986.8 529.2h.01M984.9 512.9h.01M985.7 537.9h.01M991.5 512.7h.01M993.2 526.6h.01M990.7 526.9h.01M990.1 515.6h.01M984.8 518.9h.01M986.8 533.3h.01M984.7 539.3h.01M985.8 519.7h.01M991.4 531.1h.01M987.1 515.0h.01M985.2 512.7h.01M992.5 536.4h.01M994.4 530.4h.01M989.9 534.8h.01M992.4 523.4h.01M989.5 542.8h.01M983.5 515.5h.01M984.7 534.0h.01M993.1 522.8h.01" stroke="#5a12e6" stroke-width="1.3" stroke-linecap="round" fill="none"/><ellipse cx="1006.25" cy="510.32" rx="1.88" ry="2.25" fill="#5a12e6" opacity="0.35"/><path d="M1007.1 510.2h.01M1006.6 509.5h.01" stroke="#5a12e6" stroke-width="1.3" stroke-linecap="round" fill="none"/><ellipse cx="1025" cy="521.57" rx="3.38" ry="3" fill="#5a12e6" opacity="0.35"/><path d="M1024.9 521.6h.01M1026.5 524.2h.01M1022.1 522.3h.01M1025.0 523.3h.01M1027.0 522.9h.01M1026.6 519.9h.01M1022.7 523.6h.01M1027.2 520.1h.01M1027.4 522.7h.01M1021.9 522.6h.01M1023.2 523.4h.01M1023.6 520.2h.01M1022.3 521.2h.01" stroke="#5a12e6" stroke-width="1.3" stroke-linecap="round" fill="none"/><ellipse cx="1040.94" cy="509.38" rx="1.88" ry="2.63" fill="#5a12e6" opacity="0.35"/><path d="M1042.0 508.4h.01M1039.7 511.3h.01M1042.5 510.2h.01M1040.4 507.6h.01M1039.4 510.1h.01" stroke="#5a12e6" stroke-width="1.3" stroke-linecap="round" fill="none"/><ellipse cx="1061.57" cy="516.88" rx="5.63" ry="9.38" fill="#5a12e6" opacity="0.35"/><path d="M1065.3 511.8h.01M1061.6 515.1h.01M1060.6 520.0h.01M1066.7 514.3h.01M1064.2 522.5h.01M1060.5 515.9h.01M1057.8 522.0h.01M1059.7 513.0h.01M1061.8 511.8h.01M1058.1 515.2h.01M1066.1 515.8h.01M1063.1 509.6h.01M1057.5 523.2h.01M1060.4 509.3h.01M1061.2 520.6h.01M1057.0 513.0h.01M1062.5 511.6h.01M1064.1 522.1h.01M1063.2 514.2h.01M1061.4 513.0h.01M1061.1 518.9h.01M1060.5 522.4h.01M1067.0 515.0h.01M1062.8 521.7h.01M1063.9 515.4h.01M1060.0 522.5h.01M1063.8 519.9h.01M1058.8 520.5h.01M1064.4 515.8h.01M1063.1 525.4h.01M1056.7 519.5h.01M1058.3 510.6h.01M1060.7 520.2h.01M1061.7 510.5h.01M1057.3 514.1h.01M1061.6 512.0h.01M1058.1 523.7h.01M1058.6 516.0h.01M1059.6 513.4h.01M1061.7 515.0h.01M1063.5 510.6h.01M1058.3 524.1h.01M1061.3 521.5h.01M1065.3 519.8h.01M1061.7 509.2h.01M1057.3 521.3h.01M1064.0 520.2h.01M1058.2 509.6h.01M1058.5 511.1h.01M1062.1 511.1h.01M1066.1 513.9h.01M1059.6 521.8h.01M1062.7 511.7h.01M1063.6 524.9h.01M1057.6 515.5h.01M1059.0 509.1h.01M1063.8 520.9h.01M1064.9 519.3h.01M1056.4 516.8h.01M1059.5 510.7h.01M1058.1 520.9h.01M1060.8 525.4h.01M1062.8 508.5h.01M1064.3 523.1h.01M1061.7 510.2h.01M1065.9 511.6h.01M1061.3 508.4h.01M1058.4 509.8h.01M1064.8 522.7h.01M1060.3 509.8h.01M1061.3 519.3h.01M1057.5 511.7h.01M1061.2 521.2h.01M1061.9 519.7h.01M1059.1 508.6h.01M1062.7 511.6h.01M1061.1 514.5h.01M1063.3 512.3h.01M1066.0 517.0h.01M1063.5 520.6h.01M1065.1 519.2h.01M1056.8 514.0h.01M1066.5 519.0h.01M1063.6 519.7h.01M1059.3 512.9h.01M1059.5 523.1h.01M1062.6 525.1h.01M1062.9 525.2h.01M1063.1 510.5h.01M1066.4 518.5h.01M1065.5 518.1h.01M1060.3 518.0h.01M1058.3 511.1h.01M1058.5 513.9h.01M1057.3 516.3h.01M1062.3 525.5h.01M1066.6 516.7h.01M1064.7 515.6h.01M1063.1 516.7h.01M1059.5 517.4h.01M1057.1 519.1h.01M1060.6 510.8h.01" stroke="#5a12e6" stroke-width="1.3" stroke-linecap="round" fill="none"/><ellipse cx="1057.82" cy="538.44" rx="3" ry="1.88" fill="#5a12e6" opacity="0.35"/><path d="M1057.1 539.1h.01M1056.5 539.0h.01M1058.7 540.0h.01M1055.8 538.3h.01M1058.6 539.9h.01M1058.3 539.4h.01M1055.5 537.9h.01" stroke="#5a12e6" stroke-width="1.3" stroke-linecap="round" fill="none"/><ellipse cx="988.44" cy="511.25" rx="3" ry="3.75" fill="#5a12e6" opacity="0.35"/><path d="M991.0 510.7h.01M991.2 510.1h.01M988.0 508.1h.01M989.7 511.9h.01M991.2 511.5h.01M988.0 508.3h.01M988.3 513.5h.01M989.7 513.8h.01M990.1 511.1h.01M989.6 511.7h.01M986.7 514.1h.01M989.1 508.9h.01M989.2 512.0h.01M989.9 514.0h.01M985.5 511.9h.01M990.7 509.5h.01M985.8 511.8h.01" stroke="#5a12e6" stroke-width="1.3" stroke-linecap="round" fill="none"/><ellipse cx="1007.19" cy="519.69" rx="3.16" ry="3.16" fill="#d9c4ff" opacity="0.85"/><ellipse cx="1007.19" cy="519.69" rx="2.06" ry="2.06" fill="#5a12e6"/><ellipse cx="1024.07" cy="510.32" rx="2.98" ry="3.35" fill="#d9c4ff" opacity="0.85"/><ellipse cx="1024.07" cy="510.32" rx="1.88" ry="2.25" fill="#5a12e6"/><ellipse cx="1039.63" cy="539.38" rx="7.1" ry="5.23" fill="#d9c4ff" opacity="0.85"/><ellipse cx="1039.63" cy="539.38" rx="6" ry="4.13" fill="#5a12e6"/><ellipse cx="1020.32" cy="537.88" rx="2.98" ry="2.6" fill="#d9c4ff" opacity="0.85"/><ellipse cx="1020.32" cy="537.88" rx="1.88" ry="1.5" fill="#5a12e6"/><ellipse cx="1025" cy="538.63" rx="2.6" ry="2.41" fill="#d9c4ff" opacity="0.85"/><ellipse cx="1025" cy="538.63" rx="1.5" ry="1.31" fill="#5a12e6"/></g></g><clipPath id="cR33"><rect x="1072.3" y="505.6" width="110.8" height="42.3"/></clipPath><g clip-path="url(#cR33)"><rect x="1072.3" y="505.6" width="110.8" height="42.3" fill="#222"/><g filter="url(#sb)"><path d="M1081.26 543.67V547.9M1076.37 543.17L1072.78 547.69M1086.15 543.17L1089.73 547.69" stroke="#a0a0a0" stroke-width="0.9" fill="none"/><use href="#m2" transform="translate(1081.26 505.6) scale(16.3 42.3)" fill="url(#mg2)"/><path d="M1100.95 543.67V547.9M1096.06 543.17L1092.47 547.69M1105.84 543.17L1109.42 547.69" stroke="#a0a0a0" stroke-width="0.9" fill="none"/><use href="#m2" transform="translate(1100.95 505.6) scale(16.3 42.3)" fill="url(#mg2)"/><path d="M1118.76 543.67V547.9M1113.87 543.17L1110.28 547.69M1123.65 543.17L1127.24 547.69" stroke="#a0a0a0" stroke-width="0.9" fill="none"/><use href="#m2" transform="translate(1118.76 505.6) scale(16.3 42.3)" fill="url(#mg2)"/><path d="M1137.51 543.67V547.9M1132.62 543.17L1129.04 547.69M1142.4 543.17L1145.99 547.69" stroke="#a0a0a0" stroke-width="0.9" fill="none"/><use href="#m2" transform="translate(1137.51 505.6) scale(16.3 42.3)" fill="url(#mg2)"/><path d="M1155.33 543.67V547.9M1150.44 543.17L1146.85 547.69M1160.22 543.17L1163.8 547.69" stroke="#a0a0a0" stroke-width="0.9" fill="none"/><use href="#m2" transform="translate(1155.33 505.6) scale(16.3 42.3)" fill="url(#mg2)"/><path d="M1175.01 543.67V547.9M1170.12 543.17L1166.54 547.69M1179.9 543.17L1183.49 547.69" stroke="#a0a0a0" stroke-width="0.9" fill="none"/><use href="#m2" transform="translate(1175.01 505.6) scale(16.3 42.3)" fill="url(#mg2)"/><ellipse cx="1081.26" cy="511.25" rx="3.75" ry="5.25" fill="#5a12e6" opacity="0.35"/><path d="M1082.1 512.5h.01M1078.8 509.8h.01M1081.7 513.8h.01M1084.8 511.9h.01M1080.4 506.3h.01M1083.7 510.8h.01M1081.0 508.0h.01M1082.6 506.8h.01M1081.5 511.7h.01M1081.9 515.2h.01M1081.0 511.6h.01M1082.9 507.2h.01M1080.5 511.5h.01M1083.4 508.8h.01M1083.2 512.5h.01M1078.8 507.8h.01M1078.3 511.7h.01M1081.8 513.7h.01M1083.2 509.4h.01M1083.5 513.7h.01M1082.4 512.9h.01M1078.5 512.3h.01M1079.2 507.9h.01M1080.4 511.8h.01M1081.1 510.1h.01M1078.9 511.9h.01M1079.8 507.3h.01M1081.5 515.5h.01M1080.3 507.9h.01M1083.5 515.1h.01M1080.5 510.5h.01M1081.5 516.5h.01M1081.6 514.5h.01" stroke="#5a12e6" stroke-width="1.3" stroke-linecap="round" fill="none"/><ellipse cx="1081.26" cy="530" rx="4.13" ry="9.38" fill="#5a12e6" opacity="0.35"/><path d="M1082.1 521.7h.01M1078.9 524.0h.01M1082.5 530.7h.01M1084.9 528.8h.01M1082.1 530.5h.01M1081.5 539.0h.01M1081.9 537.5h.01M1084.2 526.8h.01M1083.1 527.7h.01M1081.6 531.0h.01M1081.3 527.0h.01M1084.7 528.7h.01M1082.7 537.8h.01M1082.8 535.7h.01M1084.1 535.1h.01M1084.3 524.3h.01M1085.1 530.1h.01M1077.7 527.1h.01M1078.0 529.9h.01M1078.2 525.3h.01M1082.1 531.0h.01M1079.1 528.6h.01M1081.0 530.5h.01M1081.2 528.6h.01M1083.0 522.6h.01" stroke="#5a12e6" stroke-width="1.3" stroke-linecap="round" fill="none"/><ellipse cx="1100.95" cy="533.75" rx="3" ry="7.5" fill="#5a12e6" opacity="0.35"/><path d="M1099.9 534.4h.01M1100.1 531.0h.01M1100.0 534.8h.01M1103.1 532.9h.01M1100.4 535.6h.01M1100.6 526.9h.01M1101.5 531.8h.01M1099.8 536.8h.01M1101.0 530.9h.01M1098.6 529.2h.01M1101.0 533.1h.01" stroke="#5a12e6" stroke-width="1.3" stroke-linecap="round" fill="none"/></g></g></g><g id="plabels"><text x="157.2" y="359.9" font-size="12" font-weight="normal" fill="#000" text-anchor="middle" textLength="15.2" lengthAdjust="spacingAndGlyphs">D6</text><text x="269.3" y="359.9" font-size="12" font-weight="normal" fill="#000" text-anchor="middle" textLength="22.4" lengthAdjust="spacingAndGlyphs">D13</text><text x="377.2" y="359.9" font-size="12" font-weight="normal" fill="#000" text-anchor="middle" textLength="22.4" lengthAdjust="spacingAndGlyphs">D19</text><text x="482.8" y="359.9" font-size="12" font-weight="normal" fill="#000" text-anchor="middle" textLength="22.4" lengthAdjust="spacingAndGlyphs">D27</text><text x="788.3" y="366.8" font-size="12.2" font-weight="normal" fill="#000" text-anchor="middle" textLength="15.6" lengthAdjust="spacingAndGlyphs">D6</text><text x="898.6" y="366.8" font-size="12.2" font-weight="normal" fill="#000" text-anchor="middle" textLength="23" lengthAdjust="spacingAndGlyphs">D14</text><text x="1009.3" y="366.8" font-size="12.2" font-weight="normal" fill="#000" text-anchor="middle" textLength="23" lengthAdjust="spacingAndGlyphs">D21</text><text x="1119.7" y="366.8" font-size="12.2" font-weight="normal" fill="#000" text-anchor="middle" textLength="23" lengthAdjust="spacingAndGlyphs">D28</text><text x="94.9" y="385.6" font-size="11.6" font-weight="bold" fill="#000" text-anchor="end" textLength="39.5" lengthAdjust="spacingAndGlyphs">Isotype</text><text x="94.9" y="431.7" font-size="11.6" font-weight="bold" fill="#000" text-anchor="end" textLength="68.2" lengthAdjust="spacingAndGlyphs">Elranatamab</text><text x="96.4" y="478.2" font-size="11.6" font-weight="bold" fill="#000" text-anchor="end" textLength="77" lengthAdjust="spacingAndGlyphs">Blinatumomab</text><text x="95.6" y="520.4" font-size="11.6" font-weight="bold" fill="#000" text-anchor="end" textLength="48.2" lengthAdjust="spacingAndGlyphs">Format 9</text><text x="729.7" y="393" font-size="11.8" font-weight="bold" fill="#000" text-anchor="end" textLength="39.8" lengthAdjust="spacingAndGlyphs">Isotype</text><text x="729.4" y="440.5" font-size="11.8" font-weight="bold" fill="#000" text-anchor="end" textLength="68.8" lengthAdjust="spacingAndGlyphs">Elranatamab</text><text x="732.4" y="488" font-size="11.8" font-weight="bold" fill="#000" text-anchor="end" textLength="79.6" lengthAdjust="spacingAndGlyphs">Blinatumomab</text><text x="731" y="531.3" font-size="11.8" font-weight="bold" fill="#000" text-anchor="end" textLength="49.3" lengthAdjust="spacingAndGlyphs">Format 9</text><path d="M551 364.5H619.6" stroke="#444" stroke-width="1"/><path d="M551.3 365V534" stroke="#d4d4d4" stroke-width="1.2"/><rect x="568.7" y="367" width="6.8" height="150" fill="url(#cbar)"/><path d="M575.5 368h2.5" stroke="#666" stroke-width="0.6"/><rect x="580.5" y="367" width="5" height="2" fill="#9a9a9a"/><path d="M575.5 397.5h2.5" stroke="#666" stroke-width="0.6"/><rect x="580.5" y="396.5" width="5" height="2" fill="#9a9a9a"/><path d="M575.5 427h2.5" stroke="#666" stroke-width="0.6"/><rect x="580.5" y="426" width="5" height="2" fill="#9a9a9a"/><path d="M575.5 456.5h2.5" stroke="#666" stroke-width="0.6"/><rect x="580.5" y="455.5" width="5" height="2" fill="#9a9a9a"/><path d="M575.5 486h2.5" stroke="#666" stroke-width="0.6"/><rect x="580.5" y="485" width="5" height="2" fill="#9a9a9a"/><path d="M575.5 368h1.2" stroke="#888" stroke-width="0.4"/><path d="M575.5 373.9h1.2" stroke="#888" stroke-width="0.4"/><path d="M575.5 379.8h1.2" stroke="#888" stroke-width="0.4"/><path d="M575.5 385.7h1.2" stroke="#888" stroke-width="0.4"/><path d="M575.5 391.6h1.2" stroke="#888" stroke-width="0.4"/><path d="M575.5 397.5h1.2" stroke="#888" stroke-width="0.4"/><path d="M575.5 403.4h1.2" stroke="#888" stroke-width="0.4"/><path d="M575.5 409.3h1.2" stroke="#888" stroke-width="0.4"/><path d="M575.5 415.2h1.2" stroke="#888" stroke-width="0.4"/><path d="M575.5 421.1h1.2" stroke="#888" stroke-width="0.4"/><path d="M575.5 427h1.2" stroke="#888" stroke-width="0.4"/><path d="M575.5 432.9h1.2" stroke="#888" stroke-width="0.4"/><path d="M575.5 438.8h1.2" stroke="#888" stroke-width="0.4"/><path d="M575.5 444.7h1.2" stroke="#888" stroke-width="0.4"/><path d="M575.5 450.6h1.2" stroke="#888" stroke-width="0.4"/><path d="M575.5 456.5h1.2" stroke="#888" stroke-width="0.4"/><path d="M575.5 462.4h1.2" stroke="#888" stroke-width="0.4"/><path d="M575.5 468.3h1.2" stroke="#888" stroke-width="0.4"/><path d="M575.5 474.2h1.2" stroke="#888" stroke-width="0.4"/><path d="M575.5 480.1h1.2" stroke="#888" stroke-width="0.4"/><path d="M575.5 486h1.2" stroke="#888" stroke-width="0.4"/><text x="591.5" y="443" font-size="3.4" font-weight="normal" fill="#555">x10</text><text x="596.7" y="441.4" font-size="2.6" font-weight="normal" fill="#555">8</text><text x="568.7" y="521.2" font-size="3.2" font-weight="normal" fill="#555">Radiance</text><text x="568.7" y="525" font-size="3.2" font-weight="normal" fill="#555">(p/sec/cm²/sr)</text><rect x="568.7" y="528" width="34.6" height="10.2" fill="#fff" stroke="#555" stroke-width="0.7"/><text x="570.7" y="531.6" font-size="3.1" font-weight="normal" fill="#444">Color Scale</text><text x="570.7" y="534.6" font-size="3.1" font-weight="normal" fill="#444">Min = 1.00e5</text><text x="570.7" y="537.6" font-size="3.1" font-weight="normal" fill="#444">Max = 1.00e8</text><rect x="1200.2" y="372.4" width="6" height="150.6" fill="url(#cbar)"/><path d="M1206.2 373.4h2.5" stroke="#666" stroke-width="0.6"/><rect x="1211.2" y="372.4" width="5" height="2" fill="#9a9a9a"/><path d="M1206.2 403.05h2.5" stroke="#666" stroke-width="0.6"/><rect x="1211.2" y="402.05" width="5" height="2" fill="#9a9a9a"/><path d="M1206.2 432.7h2.5" stroke="#666" stroke-width="0.6"/><rect x="1211.2" y="431.7" width="5" height="2" fill="#9a9a9a"/><path d="M1206.2 462.35h2.5" stroke="#666" stroke-width="0.6"/><rect x="1211.2" y="461.35" width="5" height="2" fill="#9a9a9a"/><path d="M1206.2 492h2.5" stroke="#666" stroke-width="0.6"/><rect x="1211.2" y="491" width="5" height="2" fill="#9a9a9a"/><path d="M1206.2 373.4h1.2" stroke="#888" stroke-width="0.4"/><path d="M1206.2 379.33h1.2" stroke="#888" stroke-width="0.4"/><path d="M1206.2 385.26h1.2" stroke="#888" stroke-width="0.4"/><path d="M1206.2 391.19h1.2" stroke="#888" stroke-width="0.4"/><path d="M1206.2 397.12h1.2" stroke="#888" stroke-width="0.4"/><path d="M1206.2 403.05h1.2" stroke="#888" stroke-width="0.4"/><path d="M1206.2 408.98h1.2" stroke="#888" stroke-width="0.4"/><path d="M1206.2 414.91h1.2" stroke="#888" stroke-width="0.4"/><path d="M1206.2 420.84h1.2" stroke="#888" stroke-width="0.4"/><path d="M1206.2 426.77h1.2" stroke="#888" stroke-width="0.4"/><path d="M1206.2 432.7h1.2" stroke="#888" stroke-width="0.4"/><path d="M1206.2 438.63h1.2" stroke="#888" stroke-width="0.4"/><path d="M1206.2 444.56h1.2" stroke="#888" stroke-width="0.4"/><path d="M1206.2 450.49h1.2" stroke="#888" stroke-width="0.4"/><path d="M1206.2 456.42h1.2" stroke="#888" stroke-width="0.4"/><path d="M1206.2 462.35h1.2" stroke="#888" stroke-width="0.4"/><path d="M1206.2 468.28h1.2" stroke="#888" stroke-width="0.4"/><path d="M1206.2 474.21h1.2" stroke="#888" stroke-width="0.4"/><path d="M1206.2 480.14h1.2" stroke="#888" stroke-width="0.4"/><path d="M1206.2 486.07h1.2" stroke="#888" stroke-width="0.4"/><path d="M1206.2 492h1.2" stroke="#888" stroke-width="0.4"/><text x="1220.5" y="448.7" font-size="3.4" font-weight="normal" fill="#555">x10</text><text x="1225.7" y="447.1" font-size="2.6" font-weight="normal" fill="#555">8</text><text x="1200.2" y="527.2" font-size="3.2" font-weight="normal" fill="#555">Radiance</text><text x="1200.2" y="531" font-size="3.2" font-weight="normal" fill="#555">(p/sec/cm²/sr)</text><rect x="1198.4" y="534.4" width="33.8" height="10.6" fill="#fff" stroke="#555" stroke-width="0.7"/><text x="1200.4" y="538" font-size="3.1" font-weight="normal" fill="#444">Color Scale</text><text x="1200.4" y="541" font-size="3.1" font-weight="normal" fill="#444">Min = 1.00e5</text><text x="1200.4" y="544" font-size="3.1" font-weight="normal" fill="#444">Max = 1.00e8</text><text x="373" y="544" font-size="7.5" font-weight="normal" fill="#333" textLength="186.5" lengthAdjust="spacingAndGlyphs">注：空白处表示动物已死亡，作图未去除未重建成功小鼠。</text><text x="1060.5" y="557.6" font-size="7.5" font-weight="normal" fill="#333" textLength="179.5" lengthAdjust="spacingAndGlyphs">注：图片未去除未重建成功小鼠，空白表示动物死亡。</text></g>
</svg>
</body>
</html>
